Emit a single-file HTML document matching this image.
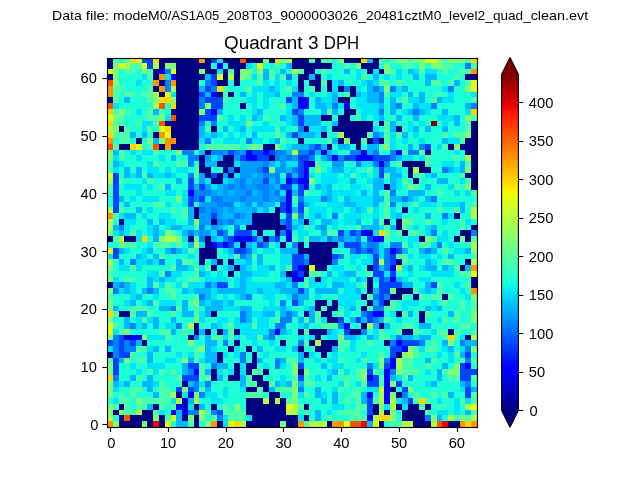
<!DOCTYPE html>
<html><head><meta charset="utf-8"><title>Quadrant 3 DPH</title>
<style>
html,body{margin:0;padding:0;background:#fff;}
body{width:640px;height:480px;overflow:hidden;}
svg{display:block;}
svg text{font-family:"Liberation Sans",sans-serif;fill:#000;}
</style></head><body>
<svg width="640" height="480" viewBox="0 0 640 480">
<rect width="640" height="480" fill="#fff"/>
<g shape-rendering="crispEdges">
<rect x="108" y="59" width="369" height="368" fill="#000080"/>
<rect x="113" y="59" width="6" height="4" fill="#4dffaa"/>
<rect x="119" y="59" width="5" height="4" fill="#1fffd7"/>
<rect x="124" y="59" width="6" height="4" fill="#4dffaa"/>
<rect x="130" y="59" width="6" height="4" fill="#ffd700"/>
<rect x="136" y="59" width="6" height="4" fill="#e1ff16"/>
<rect x="142" y="59" width="11" height="4" fill="#0044ff"/>
<rect x="153" y="59" width="6" height="4" fill="#ffd700"/>
<rect x="199" y="59" width="6" height="4" fill="#ff9400"/>
<rect x="211" y="59" width="6" height="4" fill="#0044ff"/>
<rect x="217" y="59" width="6" height="4" fill="#00e4f8"/>
<rect x="240" y="59" width="6" height="4" fill="#ff5200"/>
<rect x="263" y="59" width="6" height="4" fill="#7dff7a"/>
<rect x="275" y="59" width="5" height="4" fill="#ffd700"/>
<rect x="280" y="59" width="6" height="4" fill="#7dff7a"/>
<rect x="286" y="59" width="6" height="4" fill="#adff49"/>
<rect x="309" y="59" width="6" height="4" fill="#4dffaa"/>
<rect x="321" y="59" width="11" height="4" fill="#4dffaa"/>
<rect x="332" y="59" width="6" height="4" fill="#1fffd7"/>
<rect x="338" y="59" width="6" height="4" fill="#7dff7a"/>
<rect x="361" y="59" width="6" height="4" fill="#ffd700"/>
<rect x="367" y="59" width="6" height="4" fill="#00b8ff"/>
<rect x="379" y="59" width="5" height="4" fill="#4dffaa"/>
<rect x="384" y="59" width="6" height="4" fill="#1fffd7"/>
<rect x="390" y="59" width="6" height="4" fill="#4dffaa"/>
<rect x="396" y="59" width="12" height="4" fill="#7dff7a"/>
<rect x="408" y="59" width="5" height="4" fill="#4dffaa"/>
<rect x="413" y="59" width="12" height="4" fill="#7dff7a"/>
<rect x="425" y="59" width="12" height="4" fill="#e1ff16"/>
<rect x="437" y="59" width="5" height="4" fill="#7dff7a"/>
<rect x="442" y="59" width="6" height="4" fill="#4dffaa"/>
<rect x="448" y="59" width="17" height="4" fill="#7dff7a"/>
<rect x="465" y="59" width="6" height="4" fill="#4dffaa"/>
<rect x="471" y="59" width="6" height="4" fill="#ffd700"/>
<rect x="113" y="63" width="6" height="6" fill="#7dff7a"/>
<rect x="119" y="63" width="5" height="6" fill="#e1ff16"/>
<rect x="124" y="63" width="6" height="6" fill="#adff49"/>
<rect x="130" y="63" width="12" height="6" fill="#4dffaa"/>
<rect x="142" y="63" width="5" height="6" fill="#e1ff16"/>
<rect x="147" y="63" width="6" height="6" fill="#0044ff"/>
<rect x="153" y="63" width="6" height="6" fill="#adff49"/>
<rect x="165" y="63" width="11" height="6" fill="#7dff7a"/>
<rect x="211" y="63" width="6" height="6" fill="#1fffd7"/>
<rect x="217" y="63" width="6" height="6" fill="#0000ff"/>
<rect x="223" y="63" width="5" height="6" fill="#1fffd7"/>
<rect x="246" y="63" width="6" height="6" fill="#00e4f8"/>
<rect x="252" y="63" width="5" height="6" fill="#1fffd7"/>
<rect x="257" y="63" width="6" height="6" fill="#e1ff16"/>
<rect x="263" y="63" width="12" height="6" fill="#1fffd7"/>
<rect x="275" y="63" width="5" height="6" fill="#4dffaa"/>
<rect x="280" y="63" width="6" height="6" fill="#1fffd7"/>
<rect x="286" y="63" width="6" height="6" fill="#00b8ff"/>
<rect x="332" y="63" width="12" height="6" fill="#1fffd7"/>
<rect x="344" y="63" width="6" height="6" fill="#4dffaa"/>
<rect x="350" y="63" width="6" height="6" fill="#1fffd7"/>
<rect x="356" y="63" width="5" height="6" fill="#7dff7a"/>
<rect x="379" y="63" width="5" height="6" fill="#1fffd7"/>
<rect x="384" y="63" width="6" height="6" fill="#7dff7a"/>
<rect x="390" y="63" width="12" height="6" fill="#1fffd7"/>
<rect x="402" y="63" width="11" height="6" fill="#4dffaa"/>
<rect x="413" y="63" width="6" height="6" fill="#1fffd7"/>
<rect x="419" y="63" width="6" height="6" fill="#7dff7a"/>
<rect x="425" y="63" width="6" height="6" fill="#1fffd7"/>
<rect x="431" y="63" width="11" height="6" fill="#7dff7a"/>
<rect x="442" y="63" width="12" height="6" fill="#4dffaa"/>
<rect x="454" y="63" width="11" height="6" fill="#1fffd7"/>
<rect x="465" y="63" width="6" height="6" fill="#0080ff"/>
<rect x="471" y="63" width="6" height="6" fill="#4dffaa"/>
<rect x="108" y="69" width="5" height="5" fill="#e1ff16"/>
<rect x="113" y="69" width="6" height="5" fill="#7dff7a"/>
<rect x="119" y="69" width="5" height="5" fill="#1fffd7"/>
<rect x="124" y="69" width="12" height="5" fill="#4dffaa"/>
<rect x="136" y="69" width="6" height="5" fill="#1fffd7"/>
<rect x="142" y="69" width="5" height="5" fill="#7dff7a"/>
<rect x="147" y="69" width="6" height="5" fill="#4dffaa"/>
<rect x="159" y="69" width="6" height="5" fill="#0000ff"/>
<rect x="165" y="69" width="6" height="5" fill="#0080ff"/>
<rect x="171" y="69" width="5" height="5" fill="#e1ff16"/>
<rect x="199" y="69" width="6" height="5" fill="#7dff7a"/>
<rect x="217" y="69" width="6" height="5" fill="#00e4f8"/>
<rect x="228" y="69" width="6" height="5" fill="#4dffaa"/>
<rect x="240" y="69" width="12" height="5" fill="#7dff7a"/>
<rect x="252" y="69" width="5" height="5" fill="#1fffd7"/>
<rect x="257" y="69" width="6" height="5" fill="#7dff7a"/>
<rect x="263" y="69" width="6" height="5" fill="#00b8ff"/>
<rect x="269" y="69" width="6" height="5" fill="#4dffaa"/>
<rect x="275" y="69" width="5" height="5" fill="#1fffd7"/>
<rect x="280" y="69" width="6" height="5" fill="#00b8ff"/>
<rect x="286" y="69" width="6" height="5" fill="#1fffd7"/>
<rect x="292" y="69" width="6" height="5" fill="#adff49"/>
<rect x="298" y="69" width="6" height="5" fill="#4dffaa"/>
<rect x="315" y="69" width="6" height="5" fill="#1fffd7"/>
<rect x="321" y="69" width="6" height="5" fill="#4dffaa"/>
<rect x="327" y="69" width="17" height="5" fill="#1fffd7"/>
<rect x="344" y="69" width="6" height="5" fill="#00b8ff"/>
<rect x="350" y="69" width="6" height="5" fill="#1fffd7"/>
<rect x="356" y="69" width="5" height="5" fill="#00e4f8"/>
<rect x="361" y="69" width="6" height="5" fill="#1fffd7"/>
<rect x="373" y="69" width="6" height="5" fill="#00e4f8"/>
<rect x="384" y="69" width="6" height="5" fill="#7dff7a"/>
<rect x="390" y="69" width="6" height="5" fill="#4dffaa"/>
<rect x="396" y="69" width="6" height="5" fill="#00e4f8"/>
<rect x="402" y="69" width="6" height="5" fill="#1fffd7"/>
<rect x="408" y="69" width="5" height="5" fill="#00b8ff"/>
<rect x="413" y="69" width="6" height="5" fill="#00e4f8"/>
<rect x="419" y="69" width="6" height="5" fill="#4dffaa"/>
<rect x="425" y="69" width="12" height="5" fill="#00e4f8"/>
<rect x="437" y="69" width="5" height="5" fill="#1fffd7"/>
<rect x="442" y="69" width="6" height="5" fill="#4dffaa"/>
<rect x="448" y="69" width="12" height="5" fill="#1fffd7"/>
<rect x="460" y="69" width="11" height="5" fill="#4dffaa"/>
<rect x="471" y="69" width="6" height="5" fill="#ff9400"/>
<rect x="113" y="74" width="6" height="6" fill="#7dff7a"/>
<rect x="119" y="74" width="23" height="6" fill="#1fffd7"/>
<rect x="142" y="74" width="5" height="6" fill="#00e4f8"/>
<rect x="147" y="74" width="6" height="6" fill="#4dffaa"/>
<rect x="159" y="74" width="6" height="6" fill="#ff9400"/>
<rect x="165" y="74" width="6" height="6" fill="#00e4f8"/>
<rect x="171" y="74" width="5" height="6" fill="#0000ff"/>
<rect x="205" y="74" width="6" height="6" fill="#00b8ff"/>
<rect x="211" y="74" width="6" height="6" fill="#0044ff"/>
<rect x="217" y="74" width="6" height="6" fill="#e1ff16"/>
<rect x="228" y="74" width="6" height="6" fill="#adff49"/>
<rect x="240" y="74" width="6" height="6" fill="#7dff7a"/>
<rect x="246" y="74" width="6" height="6" fill="#4dffaa"/>
<rect x="252" y="74" width="5" height="6" fill="#00e4f8"/>
<rect x="257" y="74" width="6" height="6" fill="#4dffaa"/>
<rect x="263" y="74" width="6" height="6" fill="#00b8ff"/>
<rect x="269" y="74" width="6" height="6" fill="#4dffaa"/>
<rect x="275" y="74" width="5" height="6" fill="#00e4f8"/>
<rect x="280" y="74" width="6" height="6" fill="#4dffaa"/>
<rect x="286" y="74" width="6" height="6" fill="#0080ff"/>
<rect x="292" y="74" width="6" height="6" fill="#1fffd7"/>
<rect x="309" y="74" width="6" height="6" fill="#00b8ff"/>
<rect x="321" y="74" width="6" height="6" fill="#1fffd7"/>
<rect x="327" y="74" width="5" height="6" fill="#00e4f8"/>
<rect x="332" y="74" width="24" height="6" fill="#1fffd7"/>
<rect x="356" y="74" width="5" height="6" fill="#00e4f8"/>
<rect x="361" y="74" width="6" height="6" fill="#4dffaa"/>
<rect x="367" y="74" width="6" height="6" fill="#1fffd7"/>
<rect x="373" y="74" width="6" height="6" fill="#00b8ff"/>
<rect x="379" y="74" width="5" height="6" fill="#1fffd7"/>
<rect x="384" y="74" width="6" height="6" fill="#00e4f8"/>
<rect x="390" y="74" width="6" height="6" fill="#1fffd7"/>
<rect x="396" y="74" width="6" height="6" fill="#00e4f8"/>
<rect x="402" y="74" width="11" height="6" fill="#1fffd7"/>
<rect x="413" y="74" width="6" height="6" fill="#00b8ff"/>
<rect x="419" y="74" width="6" height="6" fill="#1fffd7"/>
<rect x="425" y="74" width="12" height="6" fill="#00b8ff"/>
<rect x="437" y="74" width="17" height="6" fill="#1fffd7"/>
<rect x="454" y="74" width="6" height="6" fill="#4dffaa"/>
<rect x="460" y="74" width="5" height="6" fill="#1fffd7"/>
<rect x="108" y="80" width="5" height="6" fill="#ff5200"/>
<rect x="113" y="80" width="6" height="6" fill="#7dff7a"/>
<rect x="119" y="80" width="17" height="6" fill="#1fffd7"/>
<rect x="136" y="80" width="6" height="6" fill="#00e4f8"/>
<rect x="142" y="80" width="11" height="6" fill="#1fffd7"/>
<rect x="153" y="80" width="6" height="6" fill="#ff9400"/>
<rect x="165" y="80" width="6" height="6" fill="#0080ff"/>
<rect x="171" y="80" width="5" height="6" fill="#ff9400"/>
<rect x="199" y="80" width="6" height="6" fill="#1fffd7"/>
<rect x="205" y="80" width="6" height="6" fill="#0080ff"/>
<rect x="211" y="80" width="6" height="6" fill="#0044ff"/>
<rect x="228" y="80" width="6" height="6" fill="#1fffd7"/>
<rect x="240" y="80" width="17" height="6" fill="#1fffd7"/>
<rect x="257" y="80" width="6" height="6" fill="#4dffaa"/>
<rect x="263" y="80" width="6" height="6" fill="#00e4f8"/>
<rect x="269" y="80" width="6" height="6" fill="#1fffd7"/>
<rect x="275" y="80" width="5" height="6" fill="#00e4f8"/>
<rect x="280" y="80" width="6" height="6" fill="#1fffd7"/>
<rect x="286" y="80" width="6" height="6" fill="#00e4f8"/>
<rect x="292" y="80" width="6" height="6" fill="#1fffd7"/>
<rect x="304" y="80" width="5" height="6" fill="#1fffd7"/>
<rect x="321" y="80" width="6" height="6" fill="#4dffaa"/>
<rect x="332" y="80" width="6" height="6" fill="#00e4f8"/>
<rect x="338" y="80" width="6" height="6" fill="#00b8ff"/>
<rect x="344" y="80" width="17" height="6" fill="#1fffd7"/>
<rect x="361" y="80" width="6" height="6" fill="#00e4f8"/>
<rect x="367" y="80" width="6" height="6" fill="#00b8ff"/>
<rect x="373" y="80" width="6" height="6" fill="#00e4f8"/>
<rect x="379" y="80" width="11" height="6" fill="#4dffaa"/>
<rect x="390" y="80" width="6" height="6" fill="#1fffd7"/>
<rect x="396" y="80" width="6" height="6" fill="#4dffaa"/>
<rect x="402" y="80" width="23" height="6" fill="#1fffd7"/>
<rect x="425" y="80" width="6" height="6" fill="#00b8ff"/>
<rect x="431" y="80" width="11" height="6" fill="#4dffaa"/>
<rect x="442" y="80" width="6" height="6" fill="#1fffd7"/>
<rect x="448" y="80" width="6" height="6" fill="#4dffaa"/>
<rect x="454" y="80" width="6" height="6" fill="#00b8ff"/>
<rect x="460" y="80" width="5" height="6" fill="#1fffd7"/>
<rect x="465" y="80" width="6" height="6" fill="#4dffaa"/>
<rect x="471" y="80" width="6" height="6" fill="#e1ff16"/>
<rect x="108" y="86" width="5" height="6" fill="#ff9400"/>
<rect x="113" y="86" width="11" height="6" fill="#4dffaa"/>
<rect x="124" y="86" width="23" height="6" fill="#1fffd7"/>
<rect x="147" y="86" width="6" height="6" fill="#4dffaa"/>
<rect x="159" y="86" width="6" height="6" fill="#ff9400"/>
<rect x="165" y="86" width="6" height="6" fill="#0080ff"/>
<rect x="171" y="86" width="5" height="6" fill="#adff49"/>
<rect x="199" y="86" width="6" height="6" fill="#00b8ff"/>
<rect x="205" y="86" width="6" height="6" fill="#0044ff"/>
<rect x="211" y="86" width="6" height="6" fill="#0080ff"/>
<rect x="217" y="86" width="6" height="6" fill="#ffd700"/>
<rect x="223" y="86" width="5" height="6" fill="#4dffaa"/>
<rect x="228" y="86" width="18" height="6" fill="#1fffd7"/>
<rect x="246" y="86" width="6" height="6" fill="#4dffaa"/>
<rect x="252" y="86" width="17" height="6" fill="#00e4f8"/>
<rect x="269" y="86" width="6" height="6" fill="#00b8ff"/>
<rect x="275" y="86" width="5" height="6" fill="#00e4f8"/>
<rect x="280" y="86" width="6" height="6" fill="#1fffd7"/>
<rect x="286" y="86" width="6" height="6" fill="#4dffaa"/>
<rect x="292" y="86" width="6" height="6" fill="#00e4f8"/>
<rect x="304" y="86" width="5" height="6" fill="#1fffd7"/>
<rect x="309" y="86" width="6" height="6" fill="#4dffaa"/>
<rect x="321" y="86" width="6" height="6" fill="#1fffd7"/>
<rect x="332" y="86" width="6" height="6" fill="#00e4f8"/>
<rect x="344" y="86" width="6" height="6" fill="#0080ff"/>
<rect x="356" y="86" width="5" height="6" fill="#00e4f8"/>
<rect x="361" y="86" width="6" height="6" fill="#1fffd7"/>
<rect x="367" y="86" width="6" height="6" fill="#00b8ff"/>
<rect x="373" y="86" width="6" height="6" fill="#0080ff"/>
<rect x="379" y="86" width="5" height="6" fill="#00b8ff"/>
<rect x="384" y="86" width="6" height="6" fill="#7dff7a"/>
<rect x="390" y="86" width="6" height="6" fill="#0080ff"/>
<rect x="396" y="86" width="6" height="6" fill="#00e4f8"/>
<rect x="402" y="86" width="6" height="6" fill="#00b8ff"/>
<rect x="408" y="86" width="34" height="6" fill="#1fffd7"/>
<rect x="442" y="86" width="6" height="6" fill="#00e4f8"/>
<rect x="448" y="86" width="6" height="6" fill="#0080ff"/>
<rect x="454" y="86" width="11" height="6" fill="#1fffd7"/>
<rect x="465" y="86" width="6" height="6" fill="#7dff7a"/>
<rect x="471" y="86" width="6" height="6" fill="#e1ff16"/>
<rect x="108" y="92" width="5" height="5" fill="#ff9400"/>
<rect x="113" y="92" width="6" height="5" fill="#4dffaa"/>
<rect x="119" y="92" width="5" height="5" fill="#1fffd7"/>
<rect x="124" y="92" width="12" height="5" fill="#4dffaa"/>
<rect x="136" y="92" width="6" height="5" fill="#1fffd7"/>
<rect x="142" y="92" width="11" height="5" fill="#4dffaa"/>
<rect x="153" y="92" width="6" height="5" fill="#adff49"/>
<rect x="165" y="92" width="6" height="5" fill="#e1ff16"/>
<rect x="171" y="92" width="5" height="5" fill="#00e4f8"/>
<rect x="199" y="92" width="6" height="5" fill="#0044ff"/>
<rect x="205" y="92" width="6" height="5" fill="#00b8ff"/>
<rect x="211" y="92" width="6" height="5" fill="#0000ff"/>
<rect x="223" y="92" width="5" height="5" fill="#4dffaa"/>
<rect x="234" y="92" width="6" height="5" fill="#1fffd7"/>
<rect x="240" y="92" width="6" height="5" fill="#00b8ff"/>
<rect x="246" y="92" width="6" height="5" fill="#1fffd7"/>
<rect x="252" y="92" width="5" height="5" fill="#00e4f8"/>
<rect x="257" y="92" width="6" height="5" fill="#1fffd7"/>
<rect x="263" y="92" width="12" height="5" fill="#00e4f8"/>
<rect x="275" y="92" width="5" height="5" fill="#00b8ff"/>
<rect x="280" y="92" width="12" height="5" fill="#1fffd7"/>
<rect x="292" y="92" width="12" height="5" fill="#0080ff"/>
<rect x="304" y="92" width="5" height="5" fill="#1fffd7"/>
<rect x="309" y="92" width="6" height="5" fill="#00e4f8"/>
<rect x="315" y="92" width="12" height="5" fill="#1fffd7"/>
<rect x="327" y="92" width="5" height="5" fill="#00e4f8"/>
<rect x="332" y="92" width="6" height="5" fill="#00b8ff"/>
<rect x="338" y="92" width="6" height="5" fill="#1fffd7"/>
<rect x="344" y="92" width="6" height="5" fill="#4dffaa"/>
<rect x="356" y="92" width="5" height="5" fill="#00b8ff"/>
<rect x="361" y="92" width="6" height="5" fill="#00e4f8"/>
<rect x="367" y="92" width="12" height="5" fill="#00b8ff"/>
<rect x="379" y="92" width="5" height="5" fill="#0080ff"/>
<rect x="384" y="92" width="6" height="5" fill="#4dffaa"/>
<rect x="390" y="92" width="12" height="5" fill="#00e4f8"/>
<rect x="402" y="92" width="6" height="5" fill="#1fffd7"/>
<rect x="408" y="92" width="5" height="5" fill="#00b8ff"/>
<rect x="413" y="92" width="6" height="5" fill="#1fffd7"/>
<rect x="419" y="92" width="6" height="5" fill="#00b8ff"/>
<rect x="425" y="92" width="12" height="5" fill="#1fffd7"/>
<rect x="437" y="92" width="5" height="5" fill="#4dffaa"/>
<rect x="442" y="92" width="6" height="5" fill="#1fffd7"/>
<rect x="448" y="92" width="6" height="5" fill="#00e4f8"/>
<rect x="454" y="92" width="17" height="5" fill="#1fffd7"/>
<rect x="471" y="92" width="6" height="5" fill="#00e4f8"/>
<rect x="113" y="97" width="6" height="6" fill="#4dffaa"/>
<rect x="119" y="97" width="5" height="6" fill="#1fffd7"/>
<rect x="124" y="97" width="6" height="6" fill="#00b8ff"/>
<rect x="130" y="97" width="17" height="6" fill="#1fffd7"/>
<rect x="147" y="97" width="6" height="6" fill="#4dffaa"/>
<rect x="153" y="97" width="6" height="6" fill="#7dff7a"/>
<rect x="159" y="97" width="12" height="6" fill="#ffd700"/>
<rect x="171" y="97" width="5" height="6" fill="#7dff7a"/>
<rect x="199" y="97" width="6" height="6" fill="#0080ff"/>
<rect x="205" y="97" width="18" height="6" fill="#0044ff"/>
<rect x="223" y="97" width="5" height="6" fill="#4dffaa"/>
<rect x="228" y="97" width="18" height="6" fill="#1fffd7"/>
<rect x="246" y="97" width="11" height="6" fill="#00e4f8"/>
<rect x="257" y="97" width="6" height="6" fill="#1fffd7"/>
<rect x="263" y="97" width="6" height="6" fill="#00e4f8"/>
<rect x="269" y="97" width="17" height="6" fill="#1fffd7"/>
<rect x="286" y="97" width="6" height="6" fill="#0044ff"/>
<rect x="292" y="97" width="6" height="6" fill="#00b8ff"/>
<rect x="298" y="97" width="11" height="6" fill="#0000ff"/>
<rect x="309" y="97" width="6" height="6" fill="#1fffd7"/>
<rect x="315" y="97" width="6" height="6" fill="#00b8ff"/>
<rect x="321" y="97" width="11" height="6" fill="#00e4f8"/>
<rect x="332" y="97" width="6" height="6" fill="#00b8ff"/>
<rect x="350" y="97" width="6" height="6" fill="#1fffd7"/>
<rect x="356" y="97" width="11" height="6" fill="#00e4f8"/>
<rect x="367" y="97" width="12" height="6" fill="#00b8ff"/>
<rect x="379" y="97" width="5" height="6" fill="#0080ff"/>
<rect x="384" y="97" width="6" height="6" fill="#1fffd7"/>
<rect x="390" y="97" width="6" height="6" fill="#00b8ff"/>
<rect x="396" y="97" width="6" height="6" fill="#1fffd7"/>
<rect x="402" y="97" width="6" height="6" fill="#4dffaa"/>
<rect x="408" y="97" width="11" height="6" fill="#00e4f8"/>
<rect x="419" y="97" width="6" height="6" fill="#00b8ff"/>
<rect x="425" y="97" width="6" height="6" fill="#1fffd7"/>
<rect x="431" y="97" width="6" height="6" fill="#4dffaa"/>
<rect x="437" y="97" width="5" height="6" fill="#00b8ff"/>
<rect x="442" y="97" width="12" height="6" fill="#00e4f8"/>
<rect x="454" y="97" width="17" height="6" fill="#1fffd7"/>
<rect x="471" y="97" width="6" height="6" fill="#4dffaa"/>
<rect x="108" y="103" width="5" height="6" fill="#ff5200"/>
<rect x="113" y="103" width="6" height="6" fill="#00e4f8"/>
<rect x="119" y="103" width="34" height="6" fill="#1fffd7"/>
<rect x="153" y="103" width="6" height="6" fill="#adff49"/>
<rect x="159" y="103" width="6" height="6" fill="#ff5200"/>
<rect x="165" y="103" width="6" height="6" fill="#1fffd7"/>
<rect x="171" y="103" width="5" height="6" fill="#ffd700"/>
<rect x="199" y="103" width="6" height="6" fill="#0080ff"/>
<rect x="205" y="103" width="6" height="6" fill="#7dff7a"/>
<rect x="211" y="103" width="12" height="6" fill="#0044ff"/>
<rect x="223" y="103" width="17" height="6" fill="#1fffd7"/>
<rect x="246" y="103" width="6" height="6" fill="#1fffd7"/>
<rect x="252" y="103" width="5" height="6" fill="#00e4f8"/>
<rect x="257" y="103" width="6" height="6" fill="#1fffd7"/>
<rect x="263" y="103" width="6" height="6" fill="#00e4f8"/>
<rect x="269" y="103" width="11" height="6" fill="#1fffd7"/>
<rect x="280" y="103" width="6" height="6" fill="#4dffaa"/>
<rect x="286" y="103" width="6" height="6" fill="#00e4f8"/>
<rect x="292" y="103" width="6" height="6" fill="#00b8ff"/>
<rect x="298" y="103" width="11" height="6" fill="#0000ff"/>
<rect x="309" y="103" width="6" height="6" fill="#1fffd7"/>
<rect x="315" y="103" width="12" height="6" fill="#00b8ff"/>
<rect x="327" y="103" width="5" height="6" fill="#00e4f8"/>
<rect x="332" y="103" width="6" height="6" fill="#0080ff"/>
<rect x="338" y="103" width="6" height="6" fill="#00e4f8"/>
<rect x="344" y="103" width="6" height="6" fill="#0000ff"/>
<rect x="350" y="103" width="6" height="6" fill="#1fffd7"/>
<rect x="356" y="103" width="23" height="6" fill="#00e4f8"/>
<rect x="379" y="103" width="5" height="6" fill="#00b8ff"/>
<rect x="384" y="103" width="6" height="6" fill="#1fffd7"/>
<rect x="390" y="103" width="6" height="6" fill="#00b8ff"/>
<rect x="396" y="103" width="6" height="6" fill="#0080ff"/>
<rect x="402" y="103" width="11" height="6" fill="#1fffd7"/>
<rect x="413" y="103" width="6" height="6" fill="#00b8ff"/>
<rect x="419" y="103" width="12" height="6" fill="#00e4f8"/>
<rect x="431" y="103" width="6" height="6" fill="#0080ff"/>
<rect x="437" y="103" width="28" height="6" fill="#1fffd7"/>
<rect x="465" y="103" width="6" height="6" fill="#00b8ff"/>
<rect x="471" y="103" width="6" height="6" fill="#0080ff"/>
<rect x="108" y="109" width="5" height="6" fill="#ffd700"/>
<rect x="113" y="109" width="6" height="6" fill="#4dffaa"/>
<rect x="119" y="109" width="5" height="6" fill="#7dff7a"/>
<rect x="124" y="109" width="6" height="6" fill="#4dffaa"/>
<rect x="130" y="109" width="6" height="6" fill="#1fffd7"/>
<rect x="136" y="109" width="6" height="6" fill="#00e4f8"/>
<rect x="142" y="109" width="5" height="6" fill="#1fffd7"/>
<rect x="147" y="109" width="6" height="6" fill="#4dffaa"/>
<rect x="153" y="109" width="6" height="6" fill="#00b8ff"/>
<rect x="159" y="109" width="6" height="6" fill="#4dffaa"/>
<rect x="165" y="109" width="6" height="6" fill="#1fffd7"/>
<rect x="199" y="109" width="6" height="6" fill="#7dff7a"/>
<rect x="205" y="109" width="6" height="6" fill="#0044ff"/>
<rect x="211" y="109" width="6" height="6" fill="#0000ff"/>
<rect x="217" y="109" width="6" height="6" fill="#00b8ff"/>
<rect x="223" y="109" width="29" height="6" fill="#1fffd7"/>
<rect x="252" y="109" width="5" height="6" fill="#00e4f8"/>
<rect x="257" y="109" width="6" height="6" fill="#00b8ff"/>
<rect x="263" y="109" width="23" height="6" fill="#1fffd7"/>
<rect x="286" y="109" width="6" height="6" fill="#00e4f8"/>
<rect x="292" y="109" width="6" height="6" fill="#0044ff"/>
<rect x="298" y="109" width="6" height="6" fill="#0080ff"/>
<rect x="304" y="109" width="17" height="6" fill="#1fffd7"/>
<rect x="321" y="109" width="6" height="6" fill="#00b8ff"/>
<rect x="327" y="109" width="5" height="6" fill="#4dffaa"/>
<rect x="332" y="109" width="6" height="6" fill="#00b8ff"/>
<rect x="338" y="109" width="6" height="6" fill="#1fffd7"/>
<rect x="356" y="109" width="5" height="6" fill="#1fffd7"/>
<rect x="361" y="109" width="18" height="6" fill="#00e4f8"/>
<rect x="379" y="109" width="5" height="6" fill="#0080ff"/>
<rect x="384" y="109" width="6" height="6" fill="#1fffd7"/>
<rect x="390" y="109" width="6" height="6" fill="#00b8ff"/>
<rect x="396" y="109" width="6" height="6" fill="#1fffd7"/>
<rect x="402" y="109" width="6" height="6" fill="#00e4f8"/>
<rect x="408" y="109" width="5" height="6" fill="#00b8ff"/>
<rect x="413" y="109" width="6" height="6" fill="#0080ff"/>
<rect x="419" y="109" width="6" height="6" fill="#00b8ff"/>
<rect x="425" y="109" width="6" height="6" fill="#00e4f8"/>
<rect x="431" y="109" width="11" height="6" fill="#1fffd7"/>
<rect x="442" y="109" width="6" height="6" fill="#00b8ff"/>
<rect x="448" y="109" width="17" height="6" fill="#1fffd7"/>
<rect x="465" y="109" width="6" height="6" fill="#00e4f8"/>
<rect x="471" y="109" width="6" height="6" fill="#ffd700"/>
<rect x="108" y="115" width="5" height="6" fill="#e1ff16"/>
<rect x="113" y="115" width="6" height="6" fill="#7dff7a"/>
<rect x="119" y="115" width="5" height="6" fill="#4dffaa"/>
<rect x="124" y="115" width="23" height="6" fill="#1fffd7"/>
<rect x="147" y="115" width="12" height="6" fill="#4dffaa"/>
<rect x="159" y="115" width="6" height="6" fill="#7dff7a"/>
<rect x="165" y="115" width="6" height="6" fill="#00e4f8"/>
<rect x="171" y="115" width="5" height="6" fill="#ff5200"/>
<rect x="199" y="115" width="18" height="6" fill="#0044ff"/>
<rect x="217" y="115" width="6" height="6" fill="#4dffaa"/>
<rect x="223" y="115" width="5" height="6" fill="#1fffd7"/>
<rect x="228" y="115" width="6" height="6" fill="#00e4f8"/>
<rect x="234" y="115" width="6" height="6" fill="#1fffd7"/>
<rect x="240" y="115" width="6" height="6" fill="#00e4f8"/>
<rect x="246" y="115" width="6" height="6" fill="#1fffd7"/>
<rect x="252" y="115" width="5" height="6" fill="#00b8ff"/>
<rect x="257" y="115" width="6" height="6" fill="#00e4f8"/>
<rect x="263" y="115" width="6" height="6" fill="#4dffaa"/>
<rect x="269" y="115" width="11" height="6" fill="#1fffd7"/>
<rect x="280" y="115" width="6" height="6" fill="#00b8ff"/>
<rect x="286" y="115" width="6" height="6" fill="#00e4f8"/>
<rect x="292" y="115" width="6" height="6" fill="#00b8ff"/>
<rect x="298" y="115" width="6" height="6" fill="#0044ff"/>
<rect x="304" y="115" width="17" height="6" fill="#00b8ff"/>
<rect x="332" y="115" width="6" height="6" fill="#1fffd7"/>
<rect x="350" y="115" width="6" height="6" fill="#1fffd7"/>
<rect x="356" y="115" width="5" height="6" fill="#4dffaa"/>
<rect x="361" y="115" width="6" height="6" fill="#00e4f8"/>
<rect x="367" y="115" width="6" height="6" fill="#1fffd7"/>
<rect x="373" y="115" width="6" height="6" fill="#00e4f8"/>
<rect x="379" y="115" width="5" height="6" fill="#00b8ff"/>
<rect x="384" y="115" width="12" height="6" fill="#1fffd7"/>
<rect x="396" y="115" width="6" height="6" fill="#00b8ff"/>
<rect x="402" y="115" width="11" height="6" fill="#1fffd7"/>
<rect x="413" y="115" width="6" height="6" fill="#00b8ff"/>
<rect x="419" y="115" width="18" height="6" fill="#1fffd7"/>
<rect x="437" y="115" width="17" height="6" fill="#00e4f8"/>
<rect x="454" y="115" width="6" height="6" fill="#00b8ff"/>
<rect x="460" y="115" width="5" height="6" fill="#1fffd7"/>
<rect x="465" y="115" width="6" height="6" fill="#7dff7a"/>
<rect x="471" y="115" width="6" height="6" fill="#4dffaa"/>
<rect x="108" y="121" width="5" height="5" fill="#ffd700"/>
<rect x="113" y="121" width="11" height="5" fill="#4dffaa"/>
<rect x="124" y="121" width="12" height="5" fill="#1fffd7"/>
<rect x="136" y="121" width="6" height="5" fill="#4dffaa"/>
<rect x="142" y="121" width="11" height="5" fill="#00e4f8"/>
<rect x="153" y="121" width="6" height="5" fill="#4dffaa"/>
<rect x="159" y="121" width="6" height="5" fill="#ff5200"/>
<rect x="199" y="121" width="6" height="5" fill="#0080ff"/>
<rect x="205" y="121" width="6" height="5" fill="#1fffd7"/>
<rect x="211" y="121" width="6" height="5" fill="#0080ff"/>
<rect x="217" y="121" width="11" height="5" fill="#1fffd7"/>
<rect x="228" y="121" width="18" height="5" fill="#00e4f8"/>
<rect x="246" y="121" width="6" height="5" fill="#7dff7a"/>
<rect x="252" y="121" width="11" height="5" fill="#1fffd7"/>
<rect x="263" y="121" width="6" height="5" fill="#00e4f8"/>
<rect x="269" y="121" width="17" height="5" fill="#1fffd7"/>
<rect x="286" y="121" width="6" height="5" fill="#00e4f8"/>
<rect x="292" y="121" width="6" height="5" fill="#00b8ff"/>
<rect x="298" y="121" width="6" height="5" fill="#0044ff"/>
<rect x="304" y="121" width="17" height="5" fill="#00b8ff"/>
<rect x="321" y="121" width="11" height="5" fill="#1fffd7"/>
<rect x="332" y="121" width="6" height="5" fill="#00b8ff"/>
<rect x="373" y="121" width="6" height="5" fill="#1fffd7"/>
<rect x="384" y="121" width="6" height="5" fill="#4dffaa"/>
<rect x="390" y="121" width="6" height="5" fill="#00b8ff"/>
<rect x="396" y="121" width="12" height="5" fill="#1fffd7"/>
<rect x="408" y="121" width="5" height="5" fill="#00e4f8"/>
<rect x="413" y="121" width="6" height="5" fill="#1fffd7"/>
<rect x="419" y="121" width="6" height="5" fill="#00e4f8"/>
<rect x="425" y="121" width="6" height="5" fill="#1fffd7"/>
<rect x="431" y="121" width="6" height="5" fill="#800000"/>
<rect x="437" y="121" width="5" height="5" fill="#1fffd7"/>
<rect x="442" y="121" width="6" height="5" fill="#00e4f8"/>
<rect x="448" y="121" width="6" height="5" fill="#1fffd7"/>
<rect x="454" y="121" width="6" height="5" fill="#00b8ff"/>
<rect x="460" y="121" width="5" height="5" fill="#1fffd7"/>
<rect x="465" y="121" width="6" height="5" fill="#4dffaa"/>
<rect x="108" y="126" width="5" height="6" fill="#adff49"/>
<rect x="113" y="126" width="6" height="6" fill="#7dff7a"/>
<rect x="124" y="126" width="6" height="6" fill="#4dffaa"/>
<rect x="130" y="126" width="12" height="6" fill="#1fffd7"/>
<rect x="142" y="126" width="5" height="6" fill="#00e4f8"/>
<rect x="147" y="126" width="6" height="6" fill="#4dffaa"/>
<rect x="153" y="126" width="6" height="6" fill="#1fffd7"/>
<rect x="159" y="126" width="6" height="6" fill="#e1ff16"/>
<rect x="165" y="126" width="6" height="6" fill="#ffd700"/>
<rect x="199" y="126" width="6" height="6" fill="#00b8ff"/>
<rect x="205" y="126" width="6" height="6" fill="#4dffaa"/>
<rect x="217" y="126" width="6" height="6" fill="#1fffd7"/>
<rect x="223" y="126" width="5" height="6" fill="#00b8ff"/>
<rect x="228" y="126" width="6" height="6" fill="#1fffd7"/>
<rect x="234" y="126" width="6" height="6" fill="#00e4f8"/>
<rect x="240" y="126" width="6" height="6" fill="#00b8ff"/>
<rect x="246" y="126" width="6" height="6" fill="#1fffd7"/>
<rect x="252" y="126" width="23" height="6" fill="#00e4f8"/>
<rect x="275" y="126" width="5" height="6" fill="#4dffaa"/>
<rect x="280" y="126" width="6" height="6" fill="#00e4f8"/>
<rect x="286" y="126" width="12" height="6" fill="#1fffd7"/>
<rect x="298" y="126" width="6" height="6" fill="#0080ff"/>
<rect x="309" y="126" width="12" height="6" fill="#00e4f8"/>
<rect x="321" y="126" width="6" height="6" fill="#00b8ff"/>
<rect x="327" y="126" width="5" height="6" fill="#1fffd7"/>
<rect x="373" y="126" width="6" height="6" fill="#00e4f8"/>
<rect x="379" y="126" width="5" height="6" fill="#1fffd7"/>
<rect x="384" y="126" width="6" height="6" fill="#4dffaa"/>
<rect x="390" y="126" width="6" height="6" fill="#00b8ff"/>
<rect x="402" y="126" width="6" height="6" fill="#1fffd7"/>
<rect x="408" y="126" width="5" height="6" fill="#00e4f8"/>
<rect x="413" y="126" width="6" height="6" fill="#00b8ff"/>
<rect x="419" y="126" width="6" height="6" fill="#1fffd7"/>
<rect x="425" y="126" width="6" height="6" fill="#00b8ff"/>
<rect x="431" y="126" width="11" height="6" fill="#1fffd7"/>
<rect x="442" y="126" width="6" height="6" fill="#00b8ff"/>
<rect x="448" y="126" width="17" height="6" fill="#1fffd7"/>
<rect x="465" y="126" width="6" height="6" fill="#4dffaa"/>
<rect x="108" y="132" width="5" height="6" fill="#ffd700"/>
<rect x="113" y="132" width="17" height="6" fill="#4dffaa"/>
<rect x="130" y="132" width="6" height="6" fill="#00b8ff"/>
<rect x="136" y="132" width="6" height="6" fill="#1fffd7"/>
<rect x="142" y="132" width="5" height="6" fill="#00b8ff"/>
<rect x="147" y="132" width="6" height="6" fill="#1fffd7"/>
<rect x="159" y="132" width="6" height="6" fill="#ff9400"/>
<rect x="165" y="132" width="6" height="6" fill="#e1ff16"/>
<rect x="199" y="132" width="6" height="6" fill="#00b8ff"/>
<rect x="205" y="132" width="6" height="6" fill="#00e4f8"/>
<rect x="211" y="132" width="6" height="6" fill="#00b8ff"/>
<rect x="217" y="132" width="6" height="6" fill="#00e4f8"/>
<rect x="223" y="132" width="5" height="6" fill="#1fffd7"/>
<rect x="228" y="132" width="6" height="6" fill="#00e4f8"/>
<rect x="234" y="132" width="6" height="6" fill="#1fffd7"/>
<rect x="240" y="132" width="6" height="6" fill="#00e4f8"/>
<rect x="246" y="132" width="6" height="6" fill="#1fffd7"/>
<rect x="252" y="132" width="5" height="6" fill="#00b8ff"/>
<rect x="257" y="132" width="18" height="6" fill="#1fffd7"/>
<rect x="275" y="132" width="5" height="6" fill="#4dffaa"/>
<rect x="280" y="132" width="6" height="6" fill="#1fffd7"/>
<rect x="286" y="132" width="6" height="6" fill="#00b8ff"/>
<rect x="292" y="132" width="6" height="6" fill="#0044ff"/>
<rect x="298" y="132" width="17" height="6" fill="#00b8ff"/>
<rect x="315" y="132" width="6" height="6" fill="#00e4f8"/>
<rect x="327" y="132" width="11" height="6" fill="#1fffd7"/>
<rect x="338" y="132" width="6" height="6" fill="#adff49"/>
<rect x="367" y="132" width="6" height="6" fill="#4dffaa"/>
<rect x="373" y="132" width="6" height="6" fill="#0080ff"/>
<rect x="379" y="132" width="5" height="6" fill="#00b8ff"/>
<rect x="384" y="132" width="6" height="6" fill="#4dffaa"/>
<rect x="390" y="132" width="6" height="6" fill="#00e4f8"/>
<rect x="396" y="132" width="6" height="6" fill="#4dffaa"/>
<rect x="402" y="132" width="6" height="6" fill="#00b8ff"/>
<rect x="408" y="132" width="5" height="6" fill="#1fffd7"/>
<rect x="413" y="132" width="6" height="6" fill="#00e4f8"/>
<rect x="419" y="132" width="23" height="6" fill="#1fffd7"/>
<rect x="442" y="132" width="6" height="6" fill="#4dffaa"/>
<rect x="448" y="132" width="6" height="6" fill="#1fffd7"/>
<rect x="454" y="132" width="11" height="6" fill="#4dffaa"/>
<rect x="465" y="132" width="6" height="6" fill="#7dff7a"/>
<rect x="108" y="138" width="5" height="6" fill="#ff9400"/>
<rect x="113" y="138" width="6" height="6" fill="#1fffd7"/>
<rect x="119" y="138" width="11" height="6" fill="#4dffaa"/>
<rect x="130" y="138" width="6" height="6" fill="#1fffd7"/>
<rect x="142" y="138" width="5" height="6" fill="#1fffd7"/>
<rect x="147" y="138" width="6" height="6" fill="#7dff7a"/>
<rect x="153" y="138" width="6" height="6" fill="#00b8ff"/>
<rect x="159" y="138" width="6" height="6" fill="#7dff7a"/>
<rect x="165" y="138" width="11" height="6" fill="#ff9400"/>
<rect x="199" y="138" width="6" height="6" fill="#00e4f8"/>
<rect x="205" y="138" width="6" height="6" fill="#0080ff"/>
<rect x="211" y="138" width="12" height="6" fill="#1fffd7"/>
<rect x="223" y="138" width="17" height="6" fill="#00e4f8"/>
<rect x="240" y="138" width="6" height="6" fill="#1fffd7"/>
<rect x="246" y="138" width="6" height="6" fill="#0080ff"/>
<rect x="252" y="138" width="11" height="6" fill="#00e4f8"/>
<rect x="263" y="138" width="6" height="6" fill="#1fffd7"/>
<rect x="269" y="138" width="6" height="6" fill="#00e4f8"/>
<rect x="275" y="138" width="5" height="6" fill="#00b8ff"/>
<rect x="280" y="138" width="6" height="6" fill="#4dffaa"/>
<rect x="286" y="138" width="12" height="6" fill="#1fffd7"/>
<rect x="304" y="138" width="23" height="6" fill="#1fffd7"/>
<rect x="327" y="138" width="5" height="6" fill="#4dffaa"/>
<rect x="332" y="138" width="6" height="6" fill="#00b8ff"/>
<rect x="344" y="138" width="6" height="6" fill="#7dff7a"/>
<rect x="361" y="138" width="6" height="6" fill="#4dffaa"/>
<rect x="373" y="138" width="6" height="6" fill="#0044ff"/>
<rect x="384" y="138" width="6" height="6" fill="#4dffaa"/>
<rect x="390" y="138" width="6" height="6" fill="#00e4f8"/>
<rect x="396" y="138" width="6" height="6" fill="#1fffd7"/>
<rect x="402" y="138" width="6" height="6" fill="#00e4f8"/>
<rect x="408" y="138" width="11" height="6" fill="#1fffd7"/>
<rect x="419" y="138" width="6" height="6" fill="#00e4f8"/>
<rect x="425" y="138" width="17" height="6" fill="#1fffd7"/>
<rect x="442" y="138" width="6" height="6" fill="#00b8ff"/>
<rect x="448" y="138" width="12" height="6" fill="#00e4f8"/>
<rect x="460" y="138" width="5" height="6" fill="#4dffaa"/>
<rect x="108" y="144" width="5" height="6" fill="#ff5200"/>
<rect x="113" y="144" width="6" height="6" fill="#4dffaa"/>
<rect x="130" y="144" width="6" height="6" fill="#ffd700"/>
<rect x="136" y="144" width="6" height="6" fill="#e1ff16"/>
<rect x="142" y="144" width="5" height="6" fill="#1fffd7"/>
<rect x="147" y="144" width="6" height="6" fill="#4dffaa"/>
<rect x="153" y="144" width="6" height="6" fill="#ff5200"/>
<rect x="165" y="144" width="6" height="6" fill="#ff9400"/>
<rect x="199" y="144" width="6" height="6" fill="#1fffd7"/>
<rect x="205" y="144" width="35" height="6" fill="#4dffaa"/>
<rect x="240" y="144" width="6" height="6" fill="#1fffd7"/>
<rect x="246" y="144" width="6" height="6" fill="#4dffaa"/>
<rect x="252" y="144" width="5" height="6" fill="#7dff7a"/>
<rect x="257" y="144" width="6" height="6" fill="#4dffaa"/>
<rect x="275" y="144" width="5" height="6" fill="#7dff7a"/>
<rect x="280" y="144" width="6" height="6" fill="#1fffd7"/>
<rect x="286" y="144" width="6" height="6" fill="#00e4f8"/>
<rect x="292" y="144" width="17" height="6" fill="#00b8ff"/>
<rect x="309" y="144" width="6" height="6" fill="#0080ff"/>
<rect x="315" y="144" width="6" height="6" fill="#0044ff"/>
<rect x="321" y="144" width="6" height="6" fill="#00b8ff"/>
<rect x="332" y="144" width="6" height="6" fill="#1fffd7"/>
<rect x="338" y="144" width="12" height="6" fill="#00b8ff"/>
<rect x="350" y="144" width="6" height="6" fill="#1fffd7"/>
<rect x="361" y="144" width="6" height="6" fill="#1fffd7"/>
<rect x="367" y="144" width="12" height="6" fill="#00b8ff"/>
<rect x="379" y="144" width="5" height="6" fill="#4dffaa"/>
<rect x="384" y="144" width="6" height="6" fill="#7dff7a"/>
<rect x="390" y="144" width="6" height="6" fill="#00e4f8"/>
<rect x="396" y="144" width="12" height="6" fill="#1fffd7"/>
<rect x="408" y="144" width="5" height="6" fill="#00b8ff"/>
<rect x="413" y="144" width="6" height="6" fill="#1fffd7"/>
<rect x="419" y="144" width="6" height="6" fill="#0080ff"/>
<rect x="425" y="144" width="6" height="6" fill="#0044ff"/>
<rect x="431" y="144" width="6" height="6" fill="#1fffd7"/>
<rect x="437" y="144" width="5" height="6" fill="#00e4f8"/>
<rect x="442" y="144" width="6" height="6" fill="#4dffaa"/>
<rect x="454" y="144" width="6" height="6" fill="#7dff7a"/>
<rect x="108" y="150" width="5" height="5" fill="#7dff7a"/>
<rect x="113" y="150" width="6" height="5" fill="#00b8ff"/>
<rect x="119" y="150" width="5" height="5" fill="#4dffaa"/>
<rect x="124" y="150" width="6" height="5" fill="#1fffd7"/>
<rect x="130" y="150" width="6" height="5" fill="#00e4f8"/>
<rect x="136" y="150" width="6" height="5" fill="#1fffd7"/>
<rect x="142" y="150" width="11" height="5" fill="#00e4f8"/>
<rect x="153" y="150" width="6" height="5" fill="#4dffaa"/>
<rect x="159" y="150" width="17" height="5" fill="#1fffd7"/>
<rect x="176" y="150" width="6" height="5" fill="#7dff7a"/>
<rect x="182" y="150" width="12" height="5" fill="#0080ff"/>
<rect x="194" y="150" width="5" height="5" fill="#1fffd7"/>
<rect x="199" y="150" width="6" height="5" fill="#00b8ff"/>
<rect x="211" y="150" width="12" height="5" fill="#0080ff"/>
<rect x="223" y="150" width="5" height="5" fill="#009cff"/>
<rect x="228" y="150" width="6" height="5" fill="#0044ff"/>
<rect x="234" y="150" width="6" height="5" fill="#0080ff"/>
<rect x="240" y="150" width="6" height="5" fill="#009cff"/>
<rect x="246" y="150" width="6" height="5" fill="#0000ff"/>
<rect x="252" y="150" width="11" height="5" fill="#0044ff"/>
<rect x="263" y="150" width="6" height="5" fill="#0000ff"/>
<rect x="269" y="150" width="6" height="5" fill="#0044ff"/>
<rect x="275" y="150" width="11" height="5" fill="#0080ff"/>
<rect x="286" y="150" width="6" height="5" fill="#00b8ff"/>
<rect x="292" y="150" width="6" height="5" fill="#adff49"/>
<rect x="298" y="150" width="11" height="5" fill="#0080ff"/>
<rect x="309" y="150" width="6" height="5" fill="#0044ff"/>
<rect x="315" y="150" width="6" height="5" fill="#00b8ff"/>
<rect x="321" y="150" width="6" height="5" fill="#0000ff"/>
<rect x="327" y="150" width="5" height="5" fill="#00b8ff"/>
<rect x="332" y="150" width="6" height="5" fill="#00e4f8"/>
<rect x="338" y="150" width="12" height="5" fill="#1fffd7"/>
<rect x="350" y="150" width="11" height="5" fill="#0080ff"/>
<rect x="361" y="150" width="6" height="5" fill="#0000ff"/>
<rect x="367" y="150" width="6" height="5" fill="#00b8ff"/>
<rect x="373" y="150" width="6" height="5" fill="#0080ff"/>
<rect x="379" y="150" width="11" height="5" fill="#1fffd7"/>
<rect x="390" y="150" width="6" height="5" fill="#0080ff"/>
<rect x="396" y="150" width="6" height="5" fill="#0000ff"/>
<rect x="402" y="150" width="6" height="5" fill="#4dffaa"/>
<rect x="408" y="150" width="11" height="5" fill="#0080ff"/>
<rect x="419" y="150" width="6" height="5" fill="#4dffaa"/>
<rect x="431" y="150" width="23" height="5" fill="#1fffd7"/>
<rect x="454" y="150" width="6" height="5" fill="#00e4f8"/>
<rect x="460" y="150" width="5" height="5" fill="#1fffd7"/>
<rect x="108" y="155" width="5" height="6" fill="#7dff7a"/>
<rect x="113" y="155" width="6" height="6" fill="#00e4f8"/>
<rect x="119" y="155" width="5" height="6" fill="#4dffaa"/>
<rect x="124" y="155" width="12" height="6" fill="#1fffd7"/>
<rect x="136" y="155" width="6" height="6" fill="#00e4f8"/>
<rect x="142" y="155" width="17" height="6" fill="#1fffd7"/>
<rect x="159" y="155" width="6" height="6" fill="#00e4f8"/>
<rect x="165" y="155" width="6" height="6" fill="#1fffd7"/>
<rect x="171" y="155" width="5" height="6" fill="#00b8ff"/>
<rect x="176" y="155" width="12" height="6" fill="#1fffd7"/>
<rect x="188" y="155" width="11" height="6" fill="#0080ff"/>
<rect x="205" y="155" width="6" height="6" fill="#009cff"/>
<rect x="211" y="155" width="6" height="6" fill="#00e4f8"/>
<rect x="217" y="155" width="6" height="6" fill="#00b8ff"/>
<rect x="234" y="155" width="6" height="6" fill="#009cff"/>
<rect x="240" y="155" width="6" height="6" fill="#0044ff"/>
<rect x="246" y="155" width="11" height="6" fill="#0000ff"/>
<rect x="257" y="155" width="12" height="6" fill="#0044ff"/>
<rect x="275" y="155" width="5" height="6" fill="#0080ff"/>
<rect x="280" y="155" width="6" height="6" fill="#009cff"/>
<rect x="286" y="155" width="6" height="6" fill="#0080ff"/>
<rect x="292" y="155" width="6" height="6" fill="#009cff"/>
<rect x="298" y="155" width="11" height="6" fill="#0044ff"/>
<rect x="309" y="155" width="6" height="6" fill="#0080ff"/>
<rect x="315" y="155" width="6" height="6" fill="#1fffd7"/>
<rect x="321" y="155" width="6" height="6" fill="#00b8ff"/>
<rect x="327" y="155" width="5" height="6" fill="#0080ff"/>
<rect x="332" y="155" width="6" height="6" fill="#0000ff"/>
<rect x="338" y="155" width="6" height="6" fill="#0080ff"/>
<rect x="344" y="155" width="12" height="6" fill="#0044ff"/>
<rect x="356" y="155" width="17" height="6" fill="#0000ff"/>
<rect x="373" y="155" width="17" height="6" fill="#0044ff"/>
<rect x="390" y="155" width="6" height="6" fill="#0080ff"/>
<rect x="396" y="155" width="6" height="6" fill="#00b8ff"/>
<rect x="402" y="155" width="11" height="6" fill="#00e4f8"/>
<rect x="413" y="155" width="6" height="6" fill="#1fffd7"/>
<rect x="419" y="155" width="6" height="6" fill="#00e4f8"/>
<rect x="425" y="155" width="6" height="6" fill="#4dffaa"/>
<rect x="431" y="155" width="23" height="6" fill="#1fffd7"/>
<rect x="454" y="155" width="6" height="6" fill="#4dffaa"/>
<rect x="460" y="155" width="5" height="6" fill="#1fffd7"/>
<rect x="465" y="155" width="6" height="6" fill="#adff49"/>
<rect x="108" y="161" width="5" height="6" fill="#4dffaa"/>
<rect x="113" y="161" width="6" height="6" fill="#00b8ff"/>
<rect x="119" y="161" width="5" height="6" fill="#00e4f8"/>
<rect x="124" y="161" width="23" height="6" fill="#1fffd7"/>
<rect x="147" y="161" width="6" height="6" fill="#00e4f8"/>
<rect x="153" y="161" width="6" height="6" fill="#4dffaa"/>
<rect x="159" y="161" width="17" height="6" fill="#1fffd7"/>
<rect x="176" y="161" width="12" height="6" fill="#4dffaa"/>
<rect x="188" y="161" width="6" height="6" fill="#0080ff"/>
<rect x="194" y="161" width="5" height="6" fill="#1fffd7"/>
<rect x="205" y="161" width="12" height="6" fill="#00b8ff"/>
<rect x="234" y="161" width="6" height="6" fill="#00e4f8"/>
<rect x="240" y="161" width="23" height="6" fill="#009cff"/>
<rect x="263" y="161" width="6" height="6" fill="#0080ff"/>
<rect x="269" y="161" width="6" height="6" fill="#00b8ff"/>
<rect x="275" y="161" width="5" height="6" fill="#00e4f8"/>
<rect x="280" y="161" width="6" height="6" fill="#009cff"/>
<rect x="286" y="161" width="12" height="6" fill="#00e4f8"/>
<rect x="298" y="161" width="6" height="6" fill="#0044ff"/>
<rect x="304" y="161" width="5" height="6" fill="#0000ff"/>
<rect x="309" y="161" width="6" height="6" fill="#0000cd"/>
<rect x="315" y="161" width="6" height="6" fill="#4dffaa"/>
<rect x="321" y="161" width="11" height="6" fill="#1fffd7"/>
<rect x="332" y="161" width="12" height="6" fill="#009cff"/>
<rect x="344" y="161" width="12" height="6" fill="#1fffd7"/>
<rect x="356" y="161" width="5" height="6" fill="#0080ff"/>
<rect x="361" y="161" width="12" height="6" fill="#00e4f8"/>
<rect x="373" y="161" width="6" height="6" fill="#0080ff"/>
<rect x="379" y="161" width="5" height="6" fill="#0000ff"/>
<rect x="384" y="161" width="6" height="6" fill="#0080ff"/>
<rect x="390" y="161" width="6" height="6" fill="#1fffd7"/>
<rect x="396" y="161" width="6" height="6" fill="#4dffaa"/>
<rect x="425" y="161" width="6" height="6" fill="#4dffaa"/>
<rect x="431" y="161" width="11" height="6" fill="#1fffd7"/>
<rect x="442" y="161" width="12" height="6" fill="#00e4f8"/>
<rect x="454" y="161" width="6" height="6" fill="#1fffd7"/>
<rect x="460" y="161" width="5" height="6" fill="#00b8ff"/>
<rect x="465" y="161" width="6" height="6" fill="#4dffaa"/>
<rect x="108" y="167" width="5" height="6" fill="#4dffaa"/>
<rect x="113" y="167" width="6" height="6" fill="#00e4f8"/>
<rect x="119" y="167" width="5" height="6" fill="#1fffd7"/>
<rect x="124" y="167" width="6" height="6" fill="#00b8ff"/>
<rect x="130" y="167" width="6" height="6" fill="#1fffd7"/>
<rect x="136" y="167" width="6" height="6" fill="#00b8ff"/>
<rect x="142" y="167" width="5" height="6" fill="#1fffd7"/>
<rect x="147" y="167" width="12" height="6" fill="#00e4f8"/>
<rect x="159" y="167" width="6" height="6" fill="#1fffd7"/>
<rect x="165" y="167" width="6" height="6" fill="#00e4f8"/>
<rect x="171" y="167" width="5" height="6" fill="#1fffd7"/>
<rect x="176" y="167" width="12" height="6" fill="#00e4f8"/>
<rect x="188" y="167" width="6" height="6" fill="#1fffd7"/>
<rect x="194" y="167" width="5" height="6" fill="#4dffaa"/>
<rect x="211" y="167" width="12" height="6" fill="#1fffd7"/>
<rect x="228" y="167" width="6" height="6" fill="#0080ff"/>
<rect x="240" y="167" width="17" height="6" fill="#009cff"/>
<rect x="257" y="167" width="6" height="6" fill="#0080ff"/>
<rect x="263" y="167" width="6" height="6" fill="#0044ff"/>
<rect x="269" y="167" width="6" height="6" fill="#7dff7a"/>
<rect x="275" y="167" width="11" height="6" fill="#009cff"/>
<rect x="286" y="167" width="6" height="6" fill="#00b8ff"/>
<rect x="292" y="167" width="6" height="6" fill="#0080ff"/>
<rect x="298" y="167" width="6" height="6" fill="#0044ff"/>
<rect x="304" y="167" width="5" height="6" fill="#0000ff"/>
<rect x="309" y="167" width="6" height="6" fill="#1fffd7"/>
<rect x="315" y="167" width="6" height="6" fill="#7dff7a"/>
<rect x="321" y="167" width="6" height="6" fill="#1fffd7"/>
<rect x="327" y="167" width="5" height="6" fill="#00e4f8"/>
<rect x="332" y="167" width="12" height="6" fill="#00b8ff"/>
<rect x="344" y="167" width="6" height="6" fill="#0ff8e7"/>
<rect x="350" y="167" width="6" height="6" fill="#00e4f8"/>
<rect x="356" y="167" width="11" height="6" fill="#1fffd7"/>
<rect x="367" y="167" width="6" height="6" fill="#4dffaa"/>
<rect x="373" y="167" width="6" height="6" fill="#00e4f8"/>
<rect x="379" y="167" width="5" height="6" fill="#0044ff"/>
<rect x="384" y="167" width="12" height="6" fill="#00b8ff"/>
<rect x="396" y="167" width="6" height="6" fill="#00e4f8"/>
<rect x="402" y="167" width="6" height="6" fill="#1fffd7"/>
<rect x="413" y="167" width="6" height="6" fill="#adff49"/>
<rect x="431" y="167" width="11" height="6" fill="#1fffd7"/>
<rect x="442" y="167" width="6" height="6" fill="#0080ff"/>
<rect x="448" y="167" width="6" height="6" fill="#00b8ff"/>
<rect x="454" y="167" width="6" height="6" fill="#00e4f8"/>
<rect x="460" y="167" width="5" height="6" fill="#00b8ff"/>
<rect x="465" y="167" width="6" height="6" fill="#7dff7a"/>
<rect x="108" y="173" width="5" height="5" fill="#e1ff16"/>
<rect x="113" y="173" width="6" height="5" fill="#0044ff"/>
<rect x="119" y="173" width="5" height="5" fill="#1fffd7"/>
<rect x="124" y="173" width="6" height="5" fill="#00b8ff"/>
<rect x="130" y="173" width="6" height="5" fill="#00e4f8"/>
<rect x="136" y="173" width="6" height="5" fill="#00b8ff"/>
<rect x="142" y="173" width="5" height="5" fill="#4dffaa"/>
<rect x="147" y="173" width="6" height="5" fill="#00b8ff"/>
<rect x="153" y="173" width="12" height="5" fill="#00e4f8"/>
<rect x="165" y="173" width="6" height="5" fill="#00b8ff"/>
<rect x="171" y="173" width="5" height="5" fill="#00e4f8"/>
<rect x="176" y="173" width="12" height="5" fill="#1fffd7"/>
<rect x="188" y="173" width="6" height="5" fill="#0080ff"/>
<rect x="194" y="173" width="5" height="5" fill="#4dffaa"/>
<rect x="199" y="173" width="6" height="5" fill="#009cff"/>
<rect x="211" y="173" width="6" height="5" fill="#0044ff"/>
<rect x="223" y="173" width="5" height="5" fill="#009cff"/>
<rect x="234" y="173" width="6" height="5" fill="#00e4f8"/>
<rect x="240" y="173" width="12" height="5" fill="#009cff"/>
<rect x="252" y="173" width="5" height="5" fill="#00b8ff"/>
<rect x="257" y="173" width="6" height="5" fill="#009cff"/>
<rect x="263" y="173" width="6" height="5" fill="#0080ff"/>
<rect x="269" y="173" width="6" height="5" fill="#009cff"/>
<rect x="275" y="173" width="5" height="5" fill="#0080ff"/>
<rect x="280" y="173" width="6" height="5" fill="#1fffd7"/>
<rect x="286" y="173" width="6" height="5" fill="#0044ff"/>
<rect x="292" y="173" width="6" height="5" fill="#00b8ff"/>
<rect x="298" y="173" width="6" height="5" fill="#0044ff"/>
<rect x="304" y="173" width="5" height="5" fill="#0000ff"/>
<rect x="309" y="173" width="6" height="5" fill="#00e4f8"/>
<rect x="315" y="173" width="6" height="5" fill="#1fffd7"/>
<rect x="321" y="173" width="17" height="5" fill="#00e4f8"/>
<rect x="338" y="173" width="6" height="5" fill="#1fffd7"/>
<rect x="344" y="173" width="6" height="5" fill="#00e4f8"/>
<rect x="350" y="173" width="6" height="5" fill="#4dffaa"/>
<rect x="356" y="173" width="5" height="5" fill="#0ff8e7"/>
<rect x="361" y="173" width="6" height="5" fill="#00e4f8"/>
<rect x="367" y="173" width="6" height="5" fill="#1fffd7"/>
<rect x="373" y="173" width="6" height="5" fill="#00e4f8"/>
<rect x="379" y="173" width="5" height="5" fill="#0044ff"/>
<rect x="384" y="173" width="6" height="5" fill="#4dffaa"/>
<rect x="390" y="173" width="12" height="5" fill="#00b8ff"/>
<rect x="402" y="173" width="6" height="5" fill="#1fffd7"/>
<rect x="413" y="173" width="12" height="5" fill="#4dffaa"/>
<rect x="425" y="173" width="6" height="5" fill="#00e4f8"/>
<rect x="431" y="173" width="6" height="5" fill="#00b8ff"/>
<rect x="437" y="173" width="23" height="5" fill="#1fffd7"/>
<rect x="460" y="173" width="5" height="5" fill="#4dffaa"/>
<rect x="108" y="178" width="5" height="6" fill="#adff49"/>
<rect x="113" y="178" width="6" height="6" fill="#0044ff"/>
<rect x="119" y="178" width="5" height="6" fill="#4dffaa"/>
<rect x="124" y="178" width="18" height="6" fill="#1fffd7"/>
<rect x="142" y="178" width="5" height="6" fill="#00e4f8"/>
<rect x="147" y="178" width="6" height="6" fill="#4dffaa"/>
<rect x="153" y="178" width="23" height="6" fill="#1fffd7"/>
<rect x="176" y="178" width="6" height="6" fill="#00b8ff"/>
<rect x="182" y="178" width="6" height="6" fill="#1fffd7"/>
<rect x="188" y="178" width="6" height="6" fill="#0044ff"/>
<rect x="194" y="178" width="5" height="6" fill="#1fffd7"/>
<rect x="199" y="178" width="6" height="6" fill="#009cff"/>
<rect x="205" y="178" width="6" height="6" fill="#00e4f8"/>
<rect x="223" y="178" width="5" height="6" fill="#00e4f8"/>
<rect x="228" y="178" width="6" height="6" fill="#00b8ff"/>
<rect x="234" y="178" width="6" height="6" fill="#009cff"/>
<rect x="240" y="178" width="6" height="6" fill="#0080ff"/>
<rect x="246" y="178" width="6" height="6" fill="#00b8ff"/>
<rect x="252" y="178" width="11" height="6" fill="#009cff"/>
<rect x="263" y="178" width="6" height="6" fill="#0044ff"/>
<rect x="269" y="178" width="6" height="6" fill="#00b8ff"/>
<rect x="275" y="178" width="5" height="6" fill="#0080ff"/>
<rect x="280" y="178" width="6" height="6" fill="#00e4f8"/>
<rect x="286" y="178" width="6" height="6" fill="#0000ff"/>
<rect x="292" y="178" width="6" height="6" fill="#0044ff"/>
<rect x="298" y="178" width="11" height="6" fill="#0000ff"/>
<rect x="309" y="178" width="6" height="6" fill="#7dff7a"/>
<rect x="315" y="178" width="6" height="6" fill="#0ff8e7"/>
<rect x="321" y="178" width="17" height="6" fill="#00e4f8"/>
<rect x="338" y="178" width="12" height="6" fill="#0ff8e7"/>
<rect x="350" y="178" width="6" height="6" fill="#00b8ff"/>
<rect x="356" y="178" width="5" height="6" fill="#0ff8e7"/>
<rect x="361" y="178" width="6" height="6" fill="#1fffd7"/>
<rect x="367" y="178" width="6" height="6" fill="#00e4f8"/>
<rect x="373" y="178" width="11" height="6" fill="#00b8ff"/>
<rect x="384" y="178" width="6" height="6" fill="#1fffd7"/>
<rect x="390" y="178" width="6" height="6" fill="#00b8ff"/>
<rect x="396" y="178" width="6" height="6" fill="#00e4f8"/>
<rect x="402" y="178" width="6" height="6" fill="#4dffaa"/>
<rect x="408" y="178" width="5" height="6" fill="#1fffd7"/>
<rect x="419" y="178" width="18" height="6" fill="#1fffd7"/>
<rect x="437" y="178" width="11" height="6" fill="#00b8ff"/>
<rect x="448" y="178" width="12" height="6" fill="#1fffd7"/>
<rect x="460" y="178" width="5" height="6" fill="#00e4f8"/>
<rect x="465" y="178" width="6" height="6" fill="#4dffaa"/>
<rect x="108" y="184" width="5" height="6" fill="#4dffaa"/>
<rect x="113" y="184" width="6" height="6" fill="#0044ff"/>
<rect x="119" y="184" width="5" height="6" fill="#1fffd7"/>
<rect x="124" y="184" width="18" height="6" fill="#00e4f8"/>
<rect x="142" y="184" width="5" height="6" fill="#1fffd7"/>
<rect x="147" y="184" width="6" height="6" fill="#00e4f8"/>
<rect x="153" y="184" width="6" height="6" fill="#1fffd7"/>
<rect x="159" y="184" width="6" height="6" fill="#4dffaa"/>
<rect x="165" y="184" width="6" height="6" fill="#00b8ff"/>
<rect x="171" y="184" width="17" height="6" fill="#1fffd7"/>
<rect x="188" y="184" width="6" height="6" fill="#0044ff"/>
<rect x="194" y="184" width="5" height="6" fill="#00b8ff"/>
<rect x="199" y="184" width="6" height="6" fill="#0044ff"/>
<rect x="205" y="184" width="6" height="6" fill="#009cff"/>
<rect x="211" y="184" width="6" height="6" fill="#00e4f8"/>
<rect x="217" y="184" width="6" height="6" fill="#00b8ff"/>
<rect x="223" y="184" width="5" height="6" fill="#009cff"/>
<rect x="228" y="184" width="6" height="6" fill="#0080ff"/>
<rect x="234" y="184" width="6" height="6" fill="#009cff"/>
<rect x="240" y="184" width="6" height="6" fill="#0080ff"/>
<rect x="246" y="184" width="11" height="6" fill="#009cff"/>
<rect x="257" y="184" width="12" height="6" fill="#0080ff"/>
<rect x="269" y="184" width="6" height="6" fill="#009cff"/>
<rect x="275" y="184" width="5" height="6" fill="#00b8ff"/>
<rect x="280" y="184" width="12" height="6" fill="#0044ff"/>
<rect x="292" y="184" width="6" height="6" fill="#00e4f8"/>
<rect x="298" y="184" width="6" height="6" fill="#0044ff"/>
<rect x="304" y="184" width="5" height="6" fill="#0000ff"/>
<rect x="309" y="184" width="6" height="6" fill="#1fffd7"/>
<rect x="315" y="184" width="6" height="6" fill="#00b8ff"/>
<rect x="321" y="184" width="6" height="6" fill="#00e4f8"/>
<rect x="327" y="184" width="5" height="6" fill="#00b8ff"/>
<rect x="332" y="184" width="6" height="6" fill="#1fffd7"/>
<rect x="338" y="184" width="6" height="6" fill="#0ff8e7"/>
<rect x="344" y="184" width="6" height="6" fill="#1fffd7"/>
<rect x="350" y="184" width="11" height="6" fill="#00e4f8"/>
<rect x="361" y="184" width="6" height="6" fill="#0ff8e7"/>
<rect x="367" y="184" width="6" height="6" fill="#1fffd7"/>
<rect x="373" y="184" width="11" height="6" fill="#00b8ff"/>
<rect x="390" y="184" width="6" height="6" fill="#00b8ff"/>
<rect x="396" y="184" width="6" height="6" fill="#00e4f8"/>
<rect x="402" y="184" width="6" height="6" fill="#1fffd7"/>
<rect x="408" y="184" width="5" height="6" fill="#7dff7a"/>
<rect x="413" y="184" width="6" height="6" fill="#4dffaa"/>
<rect x="419" y="184" width="6" height="6" fill="#1fffd7"/>
<rect x="425" y="184" width="6" height="6" fill="#00b8ff"/>
<rect x="431" y="184" width="17" height="6" fill="#1fffd7"/>
<rect x="448" y="184" width="6" height="6" fill="#00e4f8"/>
<rect x="454" y="184" width="6" height="6" fill="#4dffaa"/>
<rect x="460" y="184" width="5" height="6" fill="#1fffd7"/>
<rect x="465" y="184" width="6" height="6" fill="#7dff7a"/>
<rect x="108" y="190" width="5" height="6" fill="#4dffaa"/>
<rect x="113" y="190" width="6" height="6" fill="#0044ff"/>
<rect x="119" y="190" width="17" height="6" fill="#1fffd7"/>
<rect x="136" y="190" width="6" height="6" fill="#00e4f8"/>
<rect x="142" y="190" width="23" height="6" fill="#1fffd7"/>
<rect x="165" y="190" width="11" height="6" fill="#00e4f8"/>
<rect x="176" y="190" width="6" height="6" fill="#1fffd7"/>
<rect x="182" y="190" width="6" height="6" fill="#00e4f8"/>
<rect x="188" y="190" width="6" height="6" fill="#0000ff"/>
<rect x="194" y="190" width="17" height="6" fill="#0080ff"/>
<rect x="211" y="190" width="6" height="6" fill="#009cff"/>
<rect x="217" y="190" width="6" height="6" fill="#00b8ff"/>
<rect x="223" y="190" width="5" height="6" fill="#009cff"/>
<rect x="228" y="190" width="6" height="6" fill="#00b8ff"/>
<rect x="234" y="190" width="12" height="6" fill="#009cff"/>
<rect x="246" y="190" width="6" height="6" fill="#0080ff"/>
<rect x="252" y="190" width="5" height="6" fill="#00b8ff"/>
<rect x="257" y="190" width="6" height="6" fill="#009cff"/>
<rect x="263" y="190" width="6" height="6" fill="#0080ff"/>
<rect x="269" y="190" width="6" height="6" fill="#009cff"/>
<rect x="275" y="190" width="5" height="6" fill="#0080ff"/>
<rect x="280" y="190" width="6" height="6" fill="#00e4f8"/>
<rect x="286" y="190" width="6" height="6" fill="#0000ff"/>
<rect x="292" y="190" width="6" height="6" fill="#00b8ff"/>
<rect x="298" y="190" width="6" height="6" fill="#0044ff"/>
<rect x="304" y="190" width="5" height="6" fill="#4dffaa"/>
<rect x="309" y="190" width="12" height="6" fill="#1fffd7"/>
<rect x="321" y="190" width="6" height="6" fill="#00e4f8"/>
<rect x="327" y="190" width="5" height="6" fill="#00b8ff"/>
<rect x="332" y="190" width="24" height="6" fill="#00e4f8"/>
<rect x="356" y="190" width="5" height="6" fill="#0ff8e7"/>
<rect x="361" y="190" width="6" height="6" fill="#00b8ff"/>
<rect x="367" y="190" width="6" height="6" fill="#0ff8e7"/>
<rect x="373" y="190" width="6" height="6" fill="#00b8ff"/>
<rect x="379" y="190" width="5" height="6" fill="#1fffd7"/>
<rect x="384" y="190" width="6" height="6" fill="#4dffaa"/>
<rect x="390" y="190" width="6" height="6" fill="#0080ff"/>
<rect x="396" y="190" width="12" height="6" fill="#1fffd7"/>
<rect x="408" y="190" width="17" height="6" fill="#00b8ff"/>
<rect x="425" y="190" width="12" height="6" fill="#1fffd7"/>
<rect x="437" y="190" width="5" height="6" fill="#4dffaa"/>
<rect x="442" y="190" width="12" height="6" fill="#1fffd7"/>
<rect x="454" y="190" width="6" height="6" fill="#00e4f8"/>
<rect x="460" y="190" width="5" height="6" fill="#1fffd7"/>
<rect x="465" y="190" width="6" height="6" fill="#00e4f8"/>
<rect x="471" y="190" width="6" height="6" fill="#4dffaa"/>
<rect x="108" y="196" width="5" height="6" fill="#1fffd7"/>
<rect x="113" y="196" width="6" height="6" fill="#0044ff"/>
<rect x="119" y="196" width="5" height="6" fill="#00b8ff"/>
<rect x="124" y="196" width="6" height="6" fill="#1fffd7"/>
<rect x="130" y="196" width="6" height="6" fill="#00e4f8"/>
<rect x="136" y="196" width="6" height="6" fill="#1fffd7"/>
<rect x="142" y="196" width="17" height="6" fill="#00e4f8"/>
<rect x="159" y="196" width="17" height="6" fill="#1fffd7"/>
<rect x="176" y="196" width="6" height="6" fill="#7dff7a"/>
<rect x="182" y="196" width="6" height="6" fill="#00e4f8"/>
<rect x="188" y="196" width="6" height="6" fill="#0044ff"/>
<rect x="194" y="196" width="5" height="6" fill="#0080ff"/>
<rect x="199" y="196" width="6" height="6" fill="#0044ff"/>
<rect x="205" y="196" width="6" height="6" fill="#00e4f8"/>
<rect x="211" y="196" width="12" height="6" fill="#0080ff"/>
<rect x="223" y="196" width="17" height="6" fill="#009cff"/>
<rect x="240" y="196" width="6" height="6" fill="#0080ff"/>
<rect x="246" y="196" width="17" height="6" fill="#009cff"/>
<rect x="263" y="196" width="6" height="6" fill="#0080ff"/>
<rect x="269" y="196" width="11" height="6" fill="#009cff"/>
<rect x="280" y="196" width="6" height="6" fill="#0080ff"/>
<rect x="286" y="196" width="6" height="6" fill="#0000ff"/>
<rect x="292" y="196" width="6" height="6" fill="#4dffaa"/>
<rect x="298" y="196" width="6" height="6" fill="#0080ff"/>
<rect x="304" y="196" width="17" height="6" fill="#00e4f8"/>
<rect x="321" y="196" width="6" height="6" fill="#0080ff"/>
<rect x="327" y="196" width="5" height="6" fill="#00b8ff"/>
<rect x="332" y="196" width="6" height="6" fill="#00e4f8"/>
<rect x="338" y="196" width="6" height="6" fill="#1fffd7"/>
<rect x="344" y="196" width="6" height="6" fill="#00b8ff"/>
<rect x="350" y="196" width="23" height="6" fill="#00e4f8"/>
<rect x="373" y="196" width="11" height="6" fill="#00b8ff"/>
<rect x="384" y="196" width="6" height="6" fill="#4dffaa"/>
<rect x="390" y="196" width="12" height="6" fill="#00b8ff"/>
<rect x="402" y="196" width="6" height="6" fill="#0080ff"/>
<rect x="408" y="196" width="5" height="6" fill="#00b8ff"/>
<rect x="413" y="196" width="6" height="6" fill="#00e4f8"/>
<rect x="419" y="196" width="6" height="6" fill="#1fffd7"/>
<rect x="425" y="196" width="6" height="6" fill="#00b8ff"/>
<rect x="431" y="196" width="6" height="6" fill="#0080ff"/>
<rect x="437" y="196" width="40" height="6" fill="#1fffd7"/>
<rect x="108" y="202" width="5" height="5" fill="#1fffd7"/>
<rect x="113" y="202" width="6" height="5" fill="#0044ff"/>
<rect x="119" y="202" width="5" height="5" fill="#1fffd7"/>
<rect x="124" y="202" width="6" height="5" fill="#00b8ff"/>
<rect x="130" y="202" width="23" height="5" fill="#1fffd7"/>
<rect x="153" y="202" width="12" height="5" fill="#4dffaa"/>
<rect x="165" y="202" width="6" height="5" fill="#00e4f8"/>
<rect x="171" y="202" width="11" height="5" fill="#1fffd7"/>
<rect x="182" y="202" width="6" height="5" fill="#00e4f8"/>
<rect x="188" y="202" width="6" height="5" fill="#0044ff"/>
<rect x="194" y="202" width="5" height="5" fill="#1fffd7"/>
<rect x="199" y="202" width="18" height="5" fill="#009cff"/>
<rect x="217" y="202" width="17" height="5" fill="#0080ff"/>
<rect x="234" y="202" width="6" height="5" fill="#00e4f8"/>
<rect x="240" y="202" width="6" height="5" fill="#00b8ff"/>
<rect x="246" y="202" width="6" height="5" fill="#009cff"/>
<rect x="252" y="202" width="5" height="5" fill="#00e4f8"/>
<rect x="257" y="202" width="6" height="5" fill="#009cff"/>
<rect x="263" y="202" width="12" height="5" fill="#00b8ff"/>
<rect x="275" y="202" width="5" height="5" fill="#1fffd7"/>
<rect x="280" y="202" width="6" height="5" fill="#0044ff"/>
<rect x="286" y="202" width="6" height="5" fill="#0000ff"/>
<rect x="292" y="202" width="6" height="5" fill="#1fffd7"/>
<rect x="298" y="202" width="6" height="5" fill="#0044ff"/>
<rect x="304" y="202" width="5" height="5" fill="#00b8ff"/>
<rect x="309" y="202" width="6" height="5" fill="#00e4f8"/>
<rect x="315" y="202" width="6" height="5" fill="#0ff8e7"/>
<rect x="321" y="202" width="6" height="5" fill="#1fffd7"/>
<rect x="327" y="202" width="17" height="5" fill="#00e4f8"/>
<rect x="344" y="202" width="12" height="5" fill="#00b8ff"/>
<rect x="356" y="202" width="17" height="5" fill="#00e4f8"/>
<rect x="373" y="202" width="6" height="5" fill="#00b8ff"/>
<rect x="379" y="202" width="5" height="5" fill="#1fffd7"/>
<rect x="384" y="202" width="6" height="5" fill="#4dffaa"/>
<rect x="390" y="202" width="6" height="5" fill="#0080ff"/>
<rect x="396" y="202" width="6" height="5" fill="#1fffd7"/>
<rect x="402" y="202" width="6" height="5" fill="#00e4f8"/>
<rect x="408" y="202" width="5" height="5" fill="#1fffd7"/>
<rect x="413" y="202" width="6" height="5" fill="#4dffaa"/>
<rect x="419" y="202" width="18" height="5" fill="#00e4f8"/>
<rect x="437" y="202" width="5" height="5" fill="#1fffd7"/>
<rect x="442" y="202" width="18" height="5" fill="#00e4f8"/>
<rect x="460" y="202" width="5" height="5" fill="#00b8ff"/>
<rect x="465" y="202" width="6" height="5" fill="#1fffd7"/>
<rect x="471" y="202" width="6" height="5" fill="#4dffaa"/>
<rect x="108" y="207" width="5" height="6" fill="#adff49"/>
<rect x="113" y="207" width="6" height="6" fill="#0044ff"/>
<rect x="119" y="207" width="5" height="6" fill="#4dffaa"/>
<rect x="124" y="207" width="12" height="6" fill="#1fffd7"/>
<rect x="136" y="207" width="6" height="6" fill="#00b8ff"/>
<rect x="142" y="207" width="5" height="6" fill="#1fffd7"/>
<rect x="147" y="207" width="6" height="6" fill="#00e4f8"/>
<rect x="153" y="207" width="18" height="6" fill="#1fffd7"/>
<rect x="171" y="207" width="5" height="6" fill="#4dffaa"/>
<rect x="176" y="207" width="6" height="6" fill="#1fffd7"/>
<rect x="182" y="207" width="6" height="6" fill="#4dffaa"/>
<rect x="188" y="207" width="6" height="6" fill="#00b8ff"/>
<rect x="199" y="207" width="6" height="6" fill="#0080ff"/>
<rect x="205" y="207" width="6" height="6" fill="#009cff"/>
<rect x="211" y="207" width="6" height="6" fill="#0080ff"/>
<rect x="217" y="207" width="6" height="6" fill="#009cff"/>
<rect x="223" y="207" width="5" height="6" fill="#00b8ff"/>
<rect x="228" y="207" width="6" height="6" fill="#009cff"/>
<rect x="234" y="207" width="18" height="6" fill="#00b8ff"/>
<rect x="252" y="207" width="5" height="6" fill="#009cff"/>
<rect x="257" y="207" width="6" height="6" fill="#00e4f8"/>
<rect x="263" y="207" width="6" height="6" fill="#00b8ff"/>
<rect x="269" y="207" width="6" height="6" fill="#1fffd7"/>
<rect x="280" y="207" width="6" height="6" fill="#0044ff"/>
<rect x="286" y="207" width="6" height="6" fill="#0000ff"/>
<rect x="292" y="207" width="6" height="6" fill="#00b8ff"/>
<rect x="298" y="207" width="6" height="6" fill="#0044ff"/>
<rect x="304" y="207" width="5" height="6" fill="#4dffaa"/>
<rect x="309" y="207" width="18" height="6" fill="#00e4f8"/>
<rect x="327" y="207" width="5" height="6" fill="#1fffd7"/>
<rect x="332" y="207" width="12" height="6" fill="#00e4f8"/>
<rect x="344" y="207" width="6" height="6" fill="#1fffd7"/>
<rect x="350" y="207" width="6" height="6" fill="#00e4f8"/>
<rect x="356" y="207" width="5" height="6" fill="#00b8ff"/>
<rect x="361" y="207" width="6" height="6" fill="#00e4f8"/>
<rect x="367" y="207" width="6" height="6" fill="#4dffaa"/>
<rect x="373" y="207" width="6" height="6" fill="#00e4f8"/>
<rect x="379" y="207" width="5" height="6" fill="#1fffd7"/>
<rect x="384" y="207" width="6" height="6" fill="#4dffaa"/>
<rect x="390" y="207" width="6" height="6" fill="#00e4f8"/>
<rect x="396" y="207" width="6" height="6" fill="#1fffd7"/>
<rect x="408" y="207" width="5" height="6" fill="#1fffd7"/>
<rect x="413" y="207" width="6" height="6" fill="#00e4f8"/>
<rect x="419" y="207" width="18" height="6" fill="#1fffd7"/>
<rect x="437" y="207" width="5" height="6" fill="#4dffaa"/>
<rect x="442" y="207" width="12" height="6" fill="#1fffd7"/>
<rect x="454" y="207" width="6" height="6" fill="#4dffaa"/>
<rect x="460" y="207" width="5" height="6" fill="#00b8ff"/>
<rect x="465" y="207" width="6" height="6" fill="#1fffd7"/>
<rect x="471" y="207" width="6" height="6" fill="#adff49"/>
<rect x="108" y="213" width="5" height="6" fill="#ff9400"/>
<rect x="113" y="213" width="6" height="6" fill="#4dffaa"/>
<rect x="119" y="213" width="5" height="6" fill="#00e4f8"/>
<rect x="124" y="213" width="12" height="6" fill="#00b8ff"/>
<rect x="136" y="213" width="6" height="6" fill="#1fffd7"/>
<rect x="142" y="213" width="5" height="6" fill="#00e4f8"/>
<rect x="147" y="213" width="12" height="6" fill="#1fffd7"/>
<rect x="159" y="213" width="12" height="6" fill="#00e4f8"/>
<rect x="171" y="213" width="11" height="6" fill="#1fffd7"/>
<rect x="182" y="213" width="6" height="6" fill="#4dffaa"/>
<rect x="188" y="213" width="6" height="6" fill="#00b8ff"/>
<rect x="199" y="213" width="12" height="6" fill="#009cff"/>
<rect x="211" y="213" width="6" height="6" fill="#0044ff"/>
<rect x="217" y="213" width="6" height="6" fill="#009cff"/>
<rect x="223" y="213" width="11" height="6" fill="#00b8ff"/>
<rect x="234" y="213" width="6" height="6" fill="#0080ff"/>
<rect x="240" y="213" width="6" height="6" fill="#009cff"/>
<rect x="246" y="213" width="6" height="6" fill="#00b8ff"/>
<rect x="280" y="213" width="6" height="6" fill="#1fffd7"/>
<rect x="286" y="213" width="6" height="6" fill="#0044ff"/>
<rect x="292" y="213" width="6" height="6" fill="#7dff7a"/>
<rect x="298" y="213" width="6" height="6" fill="#0080ff"/>
<rect x="304" y="213" width="5" height="6" fill="#1fffd7"/>
<rect x="309" y="213" width="6" height="6" fill="#00e4f8"/>
<rect x="315" y="213" width="6" height="6" fill="#00b8ff"/>
<rect x="321" y="213" width="6" height="6" fill="#00e4f8"/>
<rect x="327" y="213" width="5" height="6" fill="#1fffd7"/>
<rect x="332" y="213" width="6" height="6" fill="#0080ff"/>
<rect x="338" y="213" width="6" height="6" fill="#1fffd7"/>
<rect x="344" y="213" width="17" height="6" fill="#00e4f8"/>
<rect x="361" y="213" width="12" height="6" fill="#0ff8e7"/>
<rect x="373" y="213" width="6" height="6" fill="#00e4f8"/>
<rect x="379" y="213" width="5" height="6" fill="#1fffd7"/>
<rect x="384" y="213" width="6" height="6" fill="#4dffaa"/>
<rect x="390" y="213" width="6" height="6" fill="#00e4f8"/>
<rect x="396" y="213" width="6" height="6" fill="#00b8ff"/>
<rect x="402" y="213" width="23" height="6" fill="#1fffd7"/>
<rect x="425" y="213" width="6" height="6" fill="#00b8ff"/>
<rect x="431" y="213" width="11" height="6" fill="#1fffd7"/>
<rect x="442" y="213" width="6" height="6" fill="#0080ff"/>
<rect x="448" y="213" width="6" height="6" fill="#00e4f8"/>
<rect x="460" y="213" width="11" height="6" fill="#1fffd7"/>
<rect x="471" y="213" width="6" height="6" fill="#adff49"/>
<rect x="108" y="219" width="5" height="6" fill="#adff49"/>
<rect x="113" y="219" width="6" height="6" fill="#1fffd7"/>
<rect x="124" y="219" width="12" height="6" fill="#00e4f8"/>
<rect x="136" y="219" width="11" height="6" fill="#1fffd7"/>
<rect x="147" y="219" width="6" height="6" fill="#00b8ff"/>
<rect x="153" y="219" width="6" height="6" fill="#1fffd7"/>
<rect x="159" y="219" width="6" height="6" fill="#00b8ff"/>
<rect x="165" y="219" width="11" height="6" fill="#00e4f8"/>
<rect x="176" y="219" width="12" height="6" fill="#1fffd7"/>
<rect x="188" y="219" width="6" height="6" fill="#00b8ff"/>
<rect x="194" y="219" width="5" height="6" fill="#7dff7a"/>
<rect x="199" y="219" width="12" height="6" fill="#009cff"/>
<rect x="217" y="219" width="6" height="6" fill="#0080ff"/>
<rect x="223" y="219" width="5" height="6" fill="#009cff"/>
<rect x="228" y="219" width="6" height="6" fill="#0080ff"/>
<rect x="234" y="219" width="18" height="6" fill="#00b8ff"/>
<rect x="280" y="219" width="6" height="6" fill="#0080ff"/>
<rect x="286" y="219" width="6" height="6" fill="#0044ff"/>
<rect x="292" y="219" width="6" height="6" fill="#00e4f8"/>
<rect x="298" y="219" width="6" height="6" fill="#00b8ff"/>
<rect x="309" y="219" width="6" height="6" fill="#00e4f8"/>
<rect x="315" y="219" width="6" height="6" fill="#1fffd7"/>
<rect x="321" y="219" width="11" height="6" fill="#00b8ff"/>
<rect x="332" y="219" width="6" height="6" fill="#00e4f8"/>
<rect x="338" y="219" width="6" height="6" fill="#0ff8e7"/>
<rect x="344" y="219" width="12" height="6" fill="#00e4f8"/>
<rect x="356" y="219" width="5" height="6" fill="#00b8ff"/>
<rect x="361" y="219" width="12" height="6" fill="#1fffd7"/>
<rect x="373" y="219" width="6" height="6" fill="#00b8ff"/>
<rect x="379" y="219" width="5" height="6" fill="#4dffaa"/>
<rect x="390" y="219" width="6" height="6" fill="#1fffd7"/>
<rect x="402" y="219" width="6" height="6" fill="#7dff7a"/>
<rect x="408" y="219" width="5" height="6" fill="#4dffaa"/>
<rect x="413" y="219" width="12" height="6" fill="#1fffd7"/>
<rect x="425" y="219" width="6" height="6" fill="#4dffaa"/>
<rect x="431" y="219" width="11" height="6" fill="#1fffd7"/>
<rect x="442" y="219" width="6" height="6" fill="#00e4f8"/>
<rect x="448" y="219" width="12" height="6" fill="#1fffd7"/>
<rect x="460" y="219" width="5" height="6" fill="#4dffaa"/>
<rect x="465" y="219" width="6" height="6" fill="#00e4f8"/>
<rect x="471" y="219" width="6" height="6" fill="#1fffd7"/>
<rect x="108" y="225" width="5" height="5" fill="#adff49"/>
<rect x="113" y="225" width="6" height="5" fill="#00b8ff"/>
<rect x="119" y="225" width="5" height="5" fill="#0080ff"/>
<rect x="124" y="225" width="6" height="5" fill="#00e4f8"/>
<rect x="130" y="225" width="17" height="5" fill="#1fffd7"/>
<rect x="147" y="225" width="6" height="5" fill="#00e4f8"/>
<rect x="153" y="225" width="6" height="5" fill="#00b8ff"/>
<rect x="159" y="225" width="6" height="5" fill="#1fffd7"/>
<rect x="165" y="225" width="6" height="5" fill="#00e4f8"/>
<rect x="171" y="225" width="11" height="5" fill="#00b8ff"/>
<rect x="182" y="225" width="12" height="5" fill="#00e4f8"/>
<rect x="194" y="225" width="5" height="5" fill="#4dffaa"/>
<rect x="199" y="225" width="6" height="5" fill="#0080ff"/>
<rect x="205" y="225" width="6" height="5" fill="#00e4f8"/>
<rect x="211" y="225" width="6" height="5" fill="#009cff"/>
<rect x="217" y="225" width="6" height="5" fill="#00b8ff"/>
<rect x="223" y="225" width="5" height="5" fill="#00e4f8"/>
<rect x="228" y="225" width="6" height="5" fill="#1fffd7"/>
<rect x="234" y="225" width="6" height="5" fill="#0080ff"/>
<rect x="240" y="225" width="6" height="5" fill="#1fffd7"/>
<rect x="286" y="225" width="6" height="5" fill="#0044ff"/>
<rect x="292" y="225" width="6" height="5" fill="#00b8ff"/>
<rect x="298" y="225" width="6" height="5" fill="#00e4f8"/>
<rect x="304" y="225" width="5" height="5" fill="#4dffaa"/>
<rect x="309" y="225" width="6" height="5" fill="#0ff8e7"/>
<rect x="315" y="225" width="6" height="5" fill="#00b8ff"/>
<rect x="321" y="225" width="6" height="5" fill="#009cff"/>
<rect x="327" y="225" width="5" height="5" fill="#1fffd7"/>
<rect x="332" y="225" width="6" height="5" fill="#00e4f8"/>
<rect x="338" y="225" width="18" height="5" fill="#1fffd7"/>
<rect x="356" y="225" width="5" height="5" fill="#4dffaa"/>
<rect x="361" y="225" width="18" height="5" fill="#00b8ff"/>
<rect x="379" y="225" width="5" height="5" fill="#00e4f8"/>
<rect x="384" y="225" width="6" height="5" fill="#4dffaa"/>
<rect x="390" y="225" width="6" height="5" fill="#00b8ff"/>
<rect x="402" y="225" width="6" height="5" fill="#4dffaa"/>
<rect x="408" y="225" width="5" height="5" fill="#1fffd7"/>
<rect x="413" y="225" width="6" height="5" fill="#00e4f8"/>
<rect x="419" y="225" width="6" height="5" fill="#1fffd7"/>
<rect x="425" y="225" width="6" height="5" fill="#00e4f8"/>
<rect x="431" y="225" width="6" height="5" fill="#00b8ff"/>
<rect x="437" y="225" width="23" height="5" fill="#1fffd7"/>
<rect x="460" y="225" width="5" height="5" fill="#4dffaa"/>
<rect x="465" y="225" width="6" height="5" fill="#1fffd7"/>
<rect x="108" y="230" width="5" height="6" fill="#7dff7a"/>
<rect x="113" y="230" width="6" height="6" fill="#00e4f8"/>
<rect x="119" y="230" width="5" height="6" fill="#00b8ff"/>
<rect x="124" y="230" width="6" height="6" fill="#00e4f8"/>
<rect x="130" y="230" width="6" height="6" fill="#4dffaa"/>
<rect x="136" y="230" width="6" height="6" fill="#00e4f8"/>
<rect x="142" y="230" width="5" height="6" fill="#1fffd7"/>
<rect x="147" y="230" width="6" height="6" fill="#00e4f8"/>
<rect x="153" y="230" width="6" height="6" fill="#00b8ff"/>
<rect x="159" y="230" width="6" height="6" fill="#00e4f8"/>
<rect x="165" y="230" width="6" height="6" fill="#7dff7a"/>
<rect x="171" y="230" width="5" height="6" fill="#4dffaa"/>
<rect x="176" y="230" width="6" height="6" fill="#1fffd7"/>
<rect x="182" y="230" width="6" height="6" fill="#00b8ff"/>
<rect x="188" y="230" width="6" height="6" fill="#0080ff"/>
<rect x="194" y="230" width="5" height="6" fill="#00b8ff"/>
<rect x="199" y="230" width="12" height="6" fill="#009cff"/>
<rect x="211" y="230" width="6" height="6" fill="#00e4f8"/>
<rect x="217" y="230" width="6" height="6" fill="#0044ff"/>
<rect x="223" y="230" width="5" height="6" fill="#0080ff"/>
<rect x="228" y="230" width="6" height="6" fill="#1fffd7"/>
<rect x="234" y="230" width="18" height="6" fill="#0044ff"/>
<rect x="252" y="230" width="5" height="6" fill="#00e4f8"/>
<rect x="263" y="230" width="12" height="6" fill="#1fffd7"/>
<rect x="280" y="230" width="6" height="6" fill="#0080ff"/>
<rect x="286" y="230" width="6" height="6" fill="#0000ff"/>
<rect x="292" y="230" width="6" height="6" fill="#1fffd7"/>
<rect x="298" y="230" width="11" height="6" fill="#00e4f8"/>
<rect x="309" y="230" width="12" height="6" fill="#1fffd7"/>
<rect x="321" y="230" width="6" height="6" fill="#00b8ff"/>
<rect x="327" y="230" width="11" height="6" fill="#4dffaa"/>
<rect x="338" y="230" width="6" height="6" fill="#0044ff"/>
<rect x="344" y="230" width="6" height="6" fill="#00b8ff"/>
<rect x="350" y="230" width="6" height="6" fill="#0044ff"/>
<rect x="356" y="230" width="5" height="6" fill="#0080ff"/>
<rect x="361" y="230" width="6" height="6" fill="#0000ff"/>
<rect x="367" y="230" width="6" height="6" fill="#0000cd"/>
<rect x="373" y="230" width="6" height="6" fill="#00e4f8"/>
<rect x="379" y="230" width="5" height="6" fill="#ffd700"/>
<rect x="384" y="230" width="6" height="6" fill="#7dff7a"/>
<rect x="390" y="230" width="6" height="6" fill="#1fffd7"/>
<rect x="396" y="230" width="6" height="6" fill="#4dffaa"/>
<rect x="408" y="230" width="11" height="6" fill="#4dffaa"/>
<rect x="419" y="230" width="6" height="6" fill="#1fffd7"/>
<rect x="425" y="230" width="6" height="6" fill="#00e4f8"/>
<rect x="431" y="230" width="6" height="6" fill="#0080ff"/>
<rect x="437" y="230" width="5" height="6" fill="#1fffd7"/>
<rect x="442" y="230" width="6" height="6" fill="#00e4f8"/>
<rect x="448" y="230" width="12" height="6" fill="#1fffd7"/>
<rect x="471" y="230" width="6" height="6" fill="#0080ff"/>
<rect x="113" y="236" width="6" height="6" fill="#4dffaa"/>
<rect x="119" y="236" width="5" height="6" fill="#adff49"/>
<rect x="136" y="236" width="6" height="6" fill="#00e4f8"/>
<rect x="142" y="236" width="5" height="6" fill="#ffd700"/>
<rect x="147" y="236" width="6" height="6" fill="#1fffd7"/>
<rect x="153" y="236" width="6" height="6" fill="#00b8ff"/>
<rect x="159" y="236" width="6" height="6" fill="#7dff7a"/>
<rect x="165" y="236" width="11" height="6" fill="#adff49"/>
<rect x="176" y="236" width="6" height="6" fill="#7dff7a"/>
<rect x="182" y="236" width="6" height="6" fill="#00e4f8"/>
<rect x="194" y="236" width="5" height="6" fill="#4dffaa"/>
<rect x="199" y="236" width="6" height="6" fill="#0080ff"/>
<rect x="211" y="236" width="6" height="6" fill="#00b8ff"/>
<rect x="217" y="236" width="6" height="6" fill="#00e4f8"/>
<rect x="223" y="236" width="5" height="6" fill="#0080ff"/>
<rect x="228" y="236" width="6" height="6" fill="#0044ff"/>
<rect x="234" y="236" width="18" height="6" fill="#0000ff"/>
<rect x="252" y="236" width="5" height="6" fill="#0044ff"/>
<rect x="257" y="236" width="6" height="6" fill="#00b8ff"/>
<rect x="269" y="236" width="6" height="6" fill="#0080ff"/>
<rect x="275" y="236" width="5" height="6" fill="#0044ff"/>
<rect x="280" y="236" width="6" height="6" fill="#1fffd7"/>
<rect x="286" y="236" width="6" height="6" fill="#0000ff"/>
<rect x="292" y="236" width="6" height="6" fill="#4dffaa"/>
<rect x="298" y="236" width="6" height="6" fill="#00e4f8"/>
<rect x="304" y="236" width="5" height="6" fill="#4dffaa"/>
<rect x="309" y="236" width="12" height="6" fill="#00b8ff"/>
<rect x="321" y="236" width="6" height="6" fill="#00e4f8"/>
<rect x="327" y="236" width="5" height="6" fill="#0080ff"/>
<rect x="332" y="236" width="6" height="6" fill="#00b8ff"/>
<rect x="338" y="236" width="6" height="6" fill="#0080ff"/>
<rect x="344" y="236" width="12" height="6" fill="#00b8ff"/>
<rect x="356" y="236" width="5" height="6" fill="#0080ff"/>
<rect x="361" y="236" width="6" height="6" fill="#1fffd7"/>
<rect x="367" y="236" width="6" height="6" fill="#0044ff"/>
<rect x="373" y="236" width="11" height="6" fill="#0000ff"/>
<rect x="384" y="236" width="6" height="6" fill="#4dffaa"/>
<rect x="390" y="236" width="18" height="6" fill="#1fffd7"/>
<rect x="408" y="236" width="11" height="6" fill="#00e4f8"/>
<rect x="425" y="236" width="6" height="6" fill="#7dff7a"/>
<rect x="431" y="236" width="6" height="6" fill="#4dffaa"/>
<rect x="437" y="236" width="11" height="6" fill="#00e4f8"/>
<rect x="448" y="236" width="6" height="6" fill="#1fffd7"/>
<rect x="460" y="236" width="5" height="6" fill="#7dff7a"/>
<rect x="471" y="236" width="6" height="6" fill="#4dffaa"/>
<rect x="108" y="242" width="11" height="6" fill="#1fffd7"/>
<rect x="119" y="242" width="5" height="6" fill="#7dff7a"/>
<rect x="124" y="242" width="12" height="6" fill="#4dffaa"/>
<rect x="136" y="242" width="11" height="6" fill="#1fffd7"/>
<rect x="147" y="242" width="6" height="6" fill="#00e4f8"/>
<rect x="153" y="242" width="18" height="6" fill="#4dffaa"/>
<rect x="171" y="242" width="5" height="6" fill="#1fffd7"/>
<rect x="176" y="242" width="6" height="6" fill="#4dffaa"/>
<rect x="182" y="242" width="6" height="6" fill="#1fffd7"/>
<rect x="188" y="242" width="6" height="6" fill="#00b8ff"/>
<rect x="194" y="242" width="5" height="6" fill="#adff49"/>
<rect x="199" y="242" width="6" height="6" fill="#00e4f8"/>
<rect x="211" y="242" width="6" height="6" fill="#0000ff"/>
<rect x="217" y="242" width="6" height="6" fill="#0044ff"/>
<rect x="223" y="242" width="5" height="6" fill="#0000ff"/>
<rect x="228" y="242" width="6" height="6" fill="#0044ff"/>
<rect x="234" y="242" width="6" height="6" fill="#00e4f8"/>
<rect x="246" y="242" width="6" height="6" fill="#00b8ff"/>
<rect x="252" y="242" width="5" height="6" fill="#00e4f8"/>
<rect x="257" y="242" width="6" height="6" fill="#0044ff"/>
<rect x="263" y="242" width="6" height="6" fill="#0080ff"/>
<rect x="269" y="242" width="6" height="6" fill="#1fffd7"/>
<rect x="275" y="242" width="5" height="6" fill="#00e4f8"/>
<rect x="286" y="242" width="6" height="6" fill="#1fffd7"/>
<rect x="292" y="242" width="6" height="6" fill="#0080ff"/>
<rect x="304" y="242" width="5" height="6" fill="#1fffd7"/>
<rect x="338" y="242" width="6" height="6" fill="#00e4f8"/>
<rect x="344" y="242" width="17" height="6" fill="#0044ff"/>
<rect x="361" y="242" width="6" height="6" fill="#00b8ff"/>
<rect x="367" y="242" width="12" height="6" fill="#0080ff"/>
<rect x="379" y="242" width="5" height="6" fill="#00e4f8"/>
<rect x="384" y="242" width="6" height="6" fill="#1fffd7"/>
<rect x="390" y="242" width="12" height="6" fill="#0080ff"/>
<rect x="402" y="242" width="6" height="6" fill="#4dffaa"/>
<rect x="408" y="242" width="5" height="6" fill="#00e4f8"/>
<rect x="413" y="242" width="6" height="6" fill="#1fffd7"/>
<rect x="419" y="242" width="12" height="6" fill="#4dffaa"/>
<rect x="431" y="242" width="6" height="6" fill="#00e4f8"/>
<rect x="437" y="242" width="5" height="6" fill="#0080ff"/>
<rect x="442" y="242" width="6" height="6" fill="#1fffd7"/>
<rect x="448" y="242" width="6" height="6" fill="#00e4f8"/>
<rect x="454" y="242" width="17" height="6" fill="#1fffd7"/>
<rect x="471" y="242" width="6" height="6" fill="#adff49"/>
<rect x="108" y="248" width="5" height="6" fill="#e1ff16"/>
<rect x="113" y="248" width="6" height="6" fill="#0044ff"/>
<rect x="119" y="248" width="5" height="6" fill="#00b8ff"/>
<rect x="124" y="248" width="6" height="6" fill="#00e4f8"/>
<rect x="130" y="248" width="12" height="6" fill="#1fffd7"/>
<rect x="142" y="248" width="5" height="6" fill="#00e4f8"/>
<rect x="147" y="248" width="6" height="6" fill="#00b8ff"/>
<rect x="153" y="248" width="12" height="6" fill="#1fffd7"/>
<rect x="165" y="248" width="6" height="6" fill="#00b8ff"/>
<rect x="171" y="248" width="5" height="6" fill="#0080ff"/>
<rect x="176" y="248" width="6" height="6" fill="#00b8ff"/>
<rect x="182" y="248" width="6" height="6" fill="#00e4f8"/>
<rect x="188" y="248" width="6" height="6" fill="#4dffaa"/>
<rect x="194" y="248" width="5" height="6" fill="#1fffd7"/>
<rect x="217" y="248" width="6" height="6" fill="#1fffd7"/>
<rect x="223" y="248" width="5" height="6" fill="#00e4f8"/>
<rect x="228" y="248" width="6" height="6" fill="#00b8ff"/>
<rect x="234" y="248" width="12" height="6" fill="#0044ff"/>
<rect x="246" y="248" width="6" height="6" fill="#0080ff"/>
<rect x="252" y="248" width="5" height="6" fill="#00e4f8"/>
<rect x="257" y="248" width="6" height="6" fill="#1fffd7"/>
<rect x="263" y="248" width="12" height="6" fill="#00e4f8"/>
<rect x="275" y="248" width="5" height="6" fill="#1fffd7"/>
<rect x="280" y="248" width="18" height="6" fill="#00b8ff"/>
<rect x="332" y="248" width="18" height="6" fill="#1fffd7"/>
<rect x="350" y="248" width="6" height="6" fill="#0080ff"/>
<rect x="356" y="248" width="5" height="6" fill="#0044ff"/>
<rect x="361" y="248" width="6" height="6" fill="#0080ff"/>
<rect x="367" y="248" width="6" height="6" fill="#0044ff"/>
<rect x="373" y="248" width="6" height="6" fill="#0080ff"/>
<rect x="379" y="248" width="5" height="6" fill="#00e4f8"/>
<rect x="384" y="248" width="6" height="6" fill="#0080ff"/>
<rect x="390" y="248" width="6" height="6" fill="#0000ff"/>
<rect x="396" y="248" width="6" height="6" fill="#0044ff"/>
<rect x="402" y="248" width="6" height="6" fill="#00b8ff"/>
<rect x="408" y="248" width="11" height="6" fill="#1fffd7"/>
<rect x="419" y="248" width="6" height="6" fill="#00b8ff"/>
<rect x="425" y="248" width="6" height="6" fill="#0080ff"/>
<rect x="431" y="248" width="6" height="6" fill="#00b8ff"/>
<rect x="437" y="248" width="5" height="6" fill="#1fffd7"/>
<rect x="442" y="248" width="6" height="6" fill="#4dffaa"/>
<rect x="448" y="248" width="6" height="6" fill="#1fffd7"/>
<rect x="454" y="248" width="11" height="6" fill="#00e4f8"/>
<rect x="465" y="248" width="6" height="6" fill="#00b8ff"/>
<rect x="471" y="248" width="6" height="6" fill="#7dff7a"/>
<rect x="108" y="254" width="5" height="5" fill="#00e4f8"/>
<rect x="113" y="254" width="6" height="5" fill="#0044ff"/>
<rect x="119" y="254" width="17" height="5" fill="#1fffd7"/>
<rect x="136" y="254" width="6" height="5" fill="#00b8ff"/>
<rect x="142" y="254" width="5" height="5" fill="#00e4f8"/>
<rect x="147" y="254" width="6" height="5" fill="#1fffd7"/>
<rect x="153" y="254" width="6" height="5" fill="#00b8ff"/>
<rect x="159" y="254" width="6" height="5" fill="#4dffaa"/>
<rect x="165" y="254" width="23" height="5" fill="#1fffd7"/>
<rect x="188" y="254" width="6" height="5" fill="#00e4f8"/>
<rect x="194" y="254" width="5" height="5" fill="#1fffd7"/>
<rect x="217" y="254" width="11" height="5" fill="#1fffd7"/>
<rect x="228" y="254" width="6" height="5" fill="#00e4f8"/>
<rect x="234" y="254" width="6" height="5" fill="#4dffaa"/>
<rect x="240" y="254" width="6" height="5" fill="#0080ff"/>
<rect x="246" y="254" width="6" height="5" fill="#00b8ff"/>
<rect x="252" y="254" width="5" height="5" fill="#4dffaa"/>
<rect x="257" y="254" width="6" height="5" fill="#00b8ff"/>
<rect x="263" y="254" width="17" height="5" fill="#1fffd7"/>
<rect x="280" y="254" width="12" height="5" fill="#00e4f8"/>
<rect x="292" y="254" width="12" height="5" fill="#0044ff"/>
<rect x="304" y="254" width="5" height="5" fill="#00b8ff"/>
<rect x="332" y="254" width="6" height="5" fill="#0044ff"/>
<rect x="338" y="254" width="6" height="5" fill="#0080ff"/>
<rect x="344" y="254" width="6" height="5" fill="#1fffd7"/>
<rect x="350" y="254" width="11" height="5" fill="#00e4f8"/>
<rect x="361" y="254" width="6" height="5" fill="#1fffd7"/>
<rect x="367" y="254" width="6" height="5" fill="#00e4f8"/>
<rect x="373" y="254" width="6" height="5" fill="#0044ff"/>
<rect x="379" y="254" width="5" height="5" fill="#00e4f8"/>
<rect x="384" y="254" width="6" height="5" fill="#0080ff"/>
<rect x="390" y="254" width="6" height="5" fill="#0044ff"/>
<rect x="396" y="254" width="12" height="5" fill="#4dffaa"/>
<rect x="408" y="254" width="5" height="5" fill="#00e4f8"/>
<rect x="413" y="254" width="6" height="5" fill="#1fffd7"/>
<rect x="419" y="254" width="12" height="5" fill="#00e4f8"/>
<rect x="431" y="254" width="6" height="5" fill="#1fffd7"/>
<rect x="437" y="254" width="5" height="5" fill="#00e4f8"/>
<rect x="442" y="254" width="6" height="5" fill="#1fffd7"/>
<rect x="448" y="254" width="6" height="5" fill="#00b8ff"/>
<rect x="454" y="254" width="17" height="5" fill="#1fffd7"/>
<rect x="471" y="254" width="6" height="5" fill="#4dffaa"/>
<rect x="108" y="259" width="5" height="6" fill="#adff49"/>
<rect x="113" y="259" width="6" height="6" fill="#1fffd7"/>
<rect x="119" y="259" width="5" height="6" fill="#00b8ff"/>
<rect x="124" y="259" width="6" height="6" fill="#1fffd7"/>
<rect x="130" y="259" width="6" height="6" fill="#0080ff"/>
<rect x="136" y="259" width="11" height="6" fill="#00e4f8"/>
<rect x="147" y="259" width="6" height="6" fill="#00b8ff"/>
<rect x="153" y="259" width="6" height="6" fill="#00e4f8"/>
<rect x="159" y="259" width="6" height="6" fill="#0080ff"/>
<rect x="165" y="259" width="11" height="6" fill="#1fffd7"/>
<rect x="176" y="259" width="6" height="6" fill="#00b8ff"/>
<rect x="182" y="259" width="12" height="6" fill="#4dffaa"/>
<rect x="194" y="259" width="5" height="6" fill="#1fffd7"/>
<rect x="205" y="259" width="6" height="6" fill="#1fffd7"/>
<rect x="211" y="259" width="6" height="6" fill="#00b8ff"/>
<rect x="223" y="259" width="5" height="6" fill="#1fffd7"/>
<rect x="234" y="259" width="12" height="6" fill="#00e4f8"/>
<rect x="246" y="259" width="6" height="6" fill="#00b8ff"/>
<rect x="252" y="259" width="5" height="6" fill="#1fffd7"/>
<rect x="257" y="259" width="6" height="6" fill="#00b8ff"/>
<rect x="263" y="259" width="17" height="6" fill="#1fffd7"/>
<rect x="280" y="259" width="12" height="6" fill="#00e4f8"/>
<rect x="292" y="259" width="12" height="6" fill="#0044ff"/>
<rect x="304" y="259" width="5" height="6" fill="#0080ff"/>
<rect x="332" y="259" width="6" height="6" fill="#0080ff"/>
<rect x="338" y="259" width="12" height="6" fill="#1fffd7"/>
<rect x="350" y="259" width="6" height="6" fill="#00e4f8"/>
<rect x="356" y="259" width="5" height="6" fill="#1fffd7"/>
<rect x="361" y="259" width="12" height="6" fill="#00e4f8"/>
<rect x="373" y="259" width="6" height="6" fill="#0044ff"/>
<rect x="379" y="259" width="5" height="6" fill="#adff49"/>
<rect x="384" y="259" width="6" height="6" fill="#0080ff"/>
<rect x="390" y="259" width="6" height="6" fill="#0044ff"/>
<rect x="402" y="259" width="6" height="6" fill="#4dffaa"/>
<rect x="408" y="259" width="17" height="6" fill="#1fffd7"/>
<rect x="425" y="259" width="6" height="6" fill="#00b8ff"/>
<rect x="431" y="259" width="6" height="6" fill="#00e4f8"/>
<rect x="437" y="259" width="5" height="6" fill="#1fffd7"/>
<rect x="442" y="259" width="12" height="6" fill="#4dffaa"/>
<rect x="454" y="259" width="11" height="6" fill="#1fffd7"/>
<rect x="471" y="259" width="6" height="6" fill="#adff49"/>
<rect x="108" y="265" width="5" height="6" fill="#7dff7a"/>
<rect x="113" y="265" width="6" height="6" fill="#1fffd7"/>
<rect x="119" y="265" width="11" height="6" fill="#00e4f8"/>
<rect x="130" y="265" width="6" height="6" fill="#4dffaa"/>
<rect x="136" y="265" width="6" height="6" fill="#00e4f8"/>
<rect x="142" y="265" width="29" height="6" fill="#1fffd7"/>
<rect x="171" y="265" width="5" height="6" fill="#4dffaa"/>
<rect x="176" y="265" width="12" height="6" fill="#00b8ff"/>
<rect x="188" y="265" width="6" height="6" fill="#00e4f8"/>
<rect x="194" y="265" width="5" height="6" fill="#4dffaa"/>
<rect x="199" y="265" width="6" height="6" fill="#00e4f8"/>
<rect x="205" y="265" width="6" height="6" fill="#4dffaa"/>
<rect x="217" y="265" width="6" height="6" fill="#1fffd7"/>
<rect x="223" y="265" width="5" height="6" fill="#00e4f8"/>
<rect x="228" y="265" width="6" height="6" fill="#00b8ff"/>
<rect x="240" y="265" width="6" height="6" fill="#00b8ff"/>
<rect x="246" y="265" width="6" height="6" fill="#00e4f8"/>
<rect x="252" y="265" width="5" height="6" fill="#1fffd7"/>
<rect x="257" y="265" width="12" height="6" fill="#00e4f8"/>
<rect x="269" y="265" width="6" height="6" fill="#00b8ff"/>
<rect x="275" y="265" width="5" height="6" fill="#1fffd7"/>
<rect x="280" y="265" width="6" height="6" fill="#00e4f8"/>
<rect x="286" y="265" width="6" height="6" fill="#4dffaa"/>
<rect x="292" y="265" width="6" height="6" fill="#0044ff"/>
<rect x="298" y="265" width="6" height="6" fill="#0000ff"/>
<rect x="309" y="265" width="6" height="6" fill="#e1ff16"/>
<rect x="327" y="265" width="5" height="6" fill="#1fffd7"/>
<rect x="332" y="265" width="12" height="6" fill="#00e4f8"/>
<rect x="344" y="265" width="12" height="6" fill="#1fffd7"/>
<rect x="356" y="265" width="5" height="6" fill="#00e4f8"/>
<rect x="361" y="265" width="6" height="6" fill="#1fffd7"/>
<rect x="373" y="265" width="6" height="6" fill="#0044ff"/>
<rect x="379" y="265" width="5" height="6" fill="#00b8ff"/>
<rect x="384" y="265" width="6" height="6" fill="#0080ff"/>
<rect x="390" y="265" width="6" height="6" fill="#0000ff"/>
<rect x="396" y="265" width="6" height="6" fill="#adff49"/>
<rect x="402" y="265" width="6" height="6" fill="#00e4f8"/>
<rect x="408" y="265" width="5" height="6" fill="#00b8ff"/>
<rect x="413" y="265" width="6" height="6" fill="#1fffd7"/>
<rect x="419" y="265" width="6" height="6" fill="#00e4f8"/>
<rect x="425" y="265" width="12" height="6" fill="#00b8ff"/>
<rect x="437" y="265" width="5" height="6" fill="#1fffd7"/>
<rect x="442" y="265" width="6" height="6" fill="#00b8ff"/>
<rect x="448" y="265" width="6" height="6" fill="#00e4f8"/>
<rect x="454" y="265" width="6" height="6" fill="#4dffaa"/>
<rect x="465" y="265" width="6" height="6" fill="#00b8ff"/>
<rect x="471" y="265" width="6" height="6" fill="#ff9400"/>
<rect x="108" y="271" width="5" height="6" fill="#4dffaa"/>
<rect x="113" y="271" width="34" height="6" fill="#1fffd7"/>
<rect x="147" y="271" width="12" height="6" fill="#00e4f8"/>
<rect x="159" y="271" width="6" height="6" fill="#4dffaa"/>
<rect x="165" y="271" width="6" height="6" fill="#0080ff"/>
<rect x="171" y="271" width="11" height="6" fill="#00e4f8"/>
<rect x="182" y="271" width="12" height="6" fill="#1fffd7"/>
<rect x="194" y="271" width="5" height="6" fill="#4dffaa"/>
<rect x="199" y="271" width="6" height="6" fill="#00b8ff"/>
<rect x="205" y="271" width="6" height="6" fill="#00e4f8"/>
<rect x="211" y="271" width="6" height="6" fill="#1fffd7"/>
<rect x="217" y="271" width="6" height="6" fill="#00e4f8"/>
<rect x="223" y="271" width="5" height="6" fill="#1fffd7"/>
<rect x="234" y="271" width="6" height="6" fill="#1fffd7"/>
<rect x="240" y="271" width="12" height="6" fill="#00b8ff"/>
<rect x="252" y="271" width="17" height="6" fill="#00e4f8"/>
<rect x="269" y="271" width="11" height="6" fill="#1fffd7"/>
<rect x="280" y="271" width="6" height="6" fill="#00b8ff"/>
<rect x="292" y="271" width="6" height="6" fill="#0000ff"/>
<rect x="298" y="271" width="6" height="6" fill="#0044ff"/>
<rect x="309" y="271" width="12" height="6" fill="#4dffaa"/>
<rect x="321" y="271" width="6" height="6" fill="#1fffd7"/>
<rect x="327" y="271" width="5" height="6" fill="#00b8ff"/>
<rect x="332" y="271" width="6" height="6" fill="#1fffd7"/>
<rect x="338" y="271" width="6" height="6" fill="#00e4f8"/>
<rect x="344" y="271" width="12" height="6" fill="#00b8ff"/>
<rect x="356" y="271" width="11" height="6" fill="#1fffd7"/>
<rect x="367" y="271" width="6" height="6" fill="#4dffaa"/>
<rect x="373" y="271" width="11" height="6" fill="#0044ff"/>
<rect x="384" y="271" width="6" height="6" fill="#00e4f8"/>
<rect x="390" y="271" width="6" height="6" fill="#0044ff"/>
<rect x="396" y="271" width="12" height="6" fill="#1fffd7"/>
<rect x="408" y="271" width="5" height="6" fill="#00e4f8"/>
<rect x="413" y="271" width="18" height="6" fill="#1fffd7"/>
<rect x="431" y="271" width="23" height="6" fill="#00e4f8"/>
<rect x="454" y="271" width="6" height="6" fill="#1fffd7"/>
<rect x="460" y="271" width="11" height="6" fill="#4dffaa"/>
<rect x="471" y="271" width="6" height="6" fill="#e1ff16"/>
<rect x="108" y="277" width="5" height="5" fill="#7dff7a"/>
<rect x="113" y="277" width="6" height="5" fill="#00e4f8"/>
<rect x="119" y="277" width="5" height="5" fill="#1fffd7"/>
<rect x="124" y="277" width="12" height="5" fill="#4dffaa"/>
<rect x="136" y="277" width="11" height="5" fill="#1fffd7"/>
<rect x="147" y="277" width="6" height="5" fill="#00b8ff"/>
<rect x="153" y="277" width="6" height="5" fill="#00e4f8"/>
<rect x="159" y="277" width="6" height="5" fill="#00b8ff"/>
<rect x="165" y="277" width="11" height="5" fill="#00e4f8"/>
<rect x="176" y="277" width="12" height="5" fill="#1fffd7"/>
<rect x="188" y="277" width="11" height="5" fill="#4dffaa"/>
<rect x="199" y="277" width="6" height="5" fill="#1fffd7"/>
<rect x="205" y="277" width="23" height="5" fill="#00e4f8"/>
<rect x="228" y="277" width="6" height="5" fill="#1fffd7"/>
<rect x="234" y="277" width="6" height="5" fill="#00e4f8"/>
<rect x="240" y="277" width="6" height="5" fill="#00b8ff"/>
<rect x="246" y="277" width="6" height="5" fill="#00e4f8"/>
<rect x="252" y="277" width="28" height="5" fill="#1fffd7"/>
<rect x="280" y="277" width="6" height="5" fill="#00e4f8"/>
<rect x="286" y="277" width="6" height="5" fill="#00b8ff"/>
<rect x="292" y="277" width="6" height="5" fill="#0000cd"/>
<rect x="298" y="277" width="6" height="5" fill="#0000ff"/>
<rect x="304" y="277" width="5" height="5" fill="#4dffaa"/>
<rect x="309" y="277" width="6" height="5" fill="#00e4f8"/>
<rect x="321" y="277" width="6" height="5" fill="#00e4f8"/>
<rect x="327" y="277" width="5" height="5" fill="#1fffd7"/>
<rect x="332" y="277" width="18" height="5" fill="#00e4f8"/>
<rect x="350" y="277" width="6" height="5" fill="#1fffd7"/>
<rect x="356" y="277" width="5" height="5" fill="#00b8ff"/>
<rect x="361" y="277" width="6" height="5" fill="#00e4f8"/>
<rect x="373" y="277" width="6" height="5" fill="#00e4f8"/>
<rect x="379" y="277" width="5" height="5" fill="#0044ff"/>
<rect x="384" y="277" width="6" height="5" fill="#0080ff"/>
<rect x="390" y="277" width="6" height="5" fill="#0000ff"/>
<rect x="396" y="277" width="6" height="5" fill="#00b8ff"/>
<rect x="402" y="277" width="6" height="5" fill="#00e4f8"/>
<rect x="408" y="277" width="11" height="5" fill="#1fffd7"/>
<rect x="419" y="277" width="12" height="5" fill="#00e4f8"/>
<rect x="431" y="277" width="40" height="5" fill="#1fffd7"/>
<rect x="113" y="282" width="6" height="6" fill="#00b8ff"/>
<rect x="119" y="282" width="5" height="6" fill="#0080ff"/>
<rect x="124" y="282" width="6" height="6" fill="#00b8ff"/>
<rect x="130" y="282" width="6" height="6" fill="#00e4f8"/>
<rect x="136" y="282" width="11" height="6" fill="#1fffd7"/>
<rect x="147" y="282" width="6" height="6" fill="#00b8ff"/>
<rect x="153" y="282" width="6" height="6" fill="#4dffaa"/>
<rect x="159" y="282" width="6" height="6" fill="#00e4f8"/>
<rect x="165" y="282" width="6" height="6" fill="#4dffaa"/>
<rect x="171" y="282" width="5" height="6" fill="#1fffd7"/>
<rect x="176" y="282" width="6" height="6" fill="#00e4f8"/>
<rect x="182" y="282" width="6" height="6" fill="#4dffaa"/>
<rect x="188" y="282" width="17" height="6" fill="#00e4f8"/>
<rect x="205" y="282" width="6" height="6" fill="#0080ff"/>
<rect x="211" y="282" width="6" height="6" fill="#00b8ff"/>
<rect x="217" y="282" width="11" height="6" fill="#0044ff"/>
<rect x="228" y="282" width="6" height="6" fill="#1fffd7"/>
<rect x="234" y="282" width="6" height="6" fill="#00e4f8"/>
<rect x="240" y="282" width="6" height="6" fill="#00b8ff"/>
<rect x="246" y="282" width="29" height="6" fill="#00e4f8"/>
<rect x="275" y="282" width="11" height="6" fill="#00b8ff"/>
<rect x="286" y="282" width="6" height="6" fill="#00e4f8"/>
<rect x="292" y="282" width="6" height="6" fill="#0080ff"/>
<rect x="298" y="282" width="6" height="6" fill="#1fffd7"/>
<rect x="304" y="282" width="5" height="6" fill="#4dffaa"/>
<rect x="309" y="282" width="18" height="6" fill="#00e4f8"/>
<rect x="327" y="282" width="5" height="6" fill="#1fffd7"/>
<rect x="332" y="282" width="12" height="6" fill="#00b8ff"/>
<rect x="344" y="282" width="12" height="6" fill="#00e4f8"/>
<rect x="356" y="282" width="5" height="6" fill="#1fffd7"/>
<rect x="361" y="282" width="6" height="6" fill="#4dffaa"/>
<rect x="373" y="282" width="6" height="6" fill="#1fffd7"/>
<rect x="379" y="282" width="23" height="6" fill="#0044ff"/>
<rect x="402" y="282" width="11" height="6" fill="#00b8ff"/>
<rect x="413" y="282" width="12" height="6" fill="#1fffd7"/>
<rect x="425" y="282" width="6" height="6" fill="#00b8ff"/>
<rect x="431" y="282" width="6" height="6" fill="#0044ff"/>
<rect x="437" y="282" width="5" height="6" fill="#4dffaa"/>
<rect x="442" y="282" width="12" height="6" fill="#1fffd7"/>
<rect x="454" y="282" width="6" height="6" fill="#00e4f8"/>
<rect x="460" y="282" width="5" height="6" fill="#1fffd7"/>
<rect x="465" y="282" width="6" height="6" fill="#4dffaa"/>
<rect x="108" y="288" width="5" height="6" fill="#7dff7a"/>
<rect x="113" y="288" width="6" height="6" fill="#0080ff"/>
<rect x="119" y="288" width="5" height="6" fill="#00e4f8"/>
<rect x="124" y="288" width="6" height="6" fill="#00b8ff"/>
<rect x="130" y="288" width="6" height="6" fill="#00e4f8"/>
<rect x="136" y="288" width="6" height="6" fill="#1fffd7"/>
<rect x="142" y="288" width="5" height="6" fill="#00b8ff"/>
<rect x="147" y="288" width="6" height="6" fill="#0080ff"/>
<rect x="153" y="288" width="6" height="6" fill="#00b8ff"/>
<rect x="159" y="288" width="6" height="6" fill="#1fffd7"/>
<rect x="165" y="288" width="11" height="6" fill="#4dffaa"/>
<rect x="176" y="288" width="6" height="6" fill="#1fffd7"/>
<rect x="182" y="288" width="6" height="6" fill="#00b8ff"/>
<rect x="188" y="288" width="6" height="6" fill="#00e4f8"/>
<rect x="194" y="288" width="17" height="6" fill="#00b8ff"/>
<rect x="211" y="288" width="6" height="6" fill="#00e4f8"/>
<rect x="217" y="288" width="29" height="6" fill="#00b8ff"/>
<rect x="246" y="288" width="11" height="6" fill="#00e4f8"/>
<rect x="257" y="288" width="6" height="6" fill="#00b8ff"/>
<rect x="263" y="288" width="17" height="6" fill="#00e4f8"/>
<rect x="280" y="288" width="18" height="6" fill="#00b8ff"/>
<rect x="298" y="288" width="6" height="6" fill="#0044ff"/>
<rect x="304" y="288" width="5" height="6" fill="#00b8ff"/>
<rect x="309" y="288" width="6" height="6" fill="#1fffd7"/>
<rect x="315" y="288" width="23" height="6" fill="#00b8ff"/>
<rect x="338" y="288" width="6" height="6" fill="#1fffd7"/>
<rect x="344" y="288" width="12" height="6" fill="#00e4f8"/>
<rect x="356" y="288" width="5" height="6" fill="#00b8ff"/>
<rect x="361" y="288" width="6" height="6" fill="#1fffd7"/>
<rect x="373" y="288" width="6" height="6" fill="#00b8ff"/>
<rect x="379" y="288" width="11" height="6" fill="#0044ff"/>
<rect x="390" y="288" width="6" height="6" fill="#7dff7a"/>
<rect x="413" y="288" width="6" height="6" fill="#4dffaa"/>
<rect x="419" y="288" width="6" height="6" fill="#00e4f8"/>
<rect x="425" y="288" width="6" height="6" fill="#00b8ff"/>
<rect x="431" y="288" width="6" height="6" fill="#00e4f8"/>
<rect x="437" y="288" width="5" height="6" fill="#4dffaa"/>
<rect x="442" y="288" width="18" height="6" fill="#1fffd7"/>
<rect x="460" y="288" width="5" height="6" fill="#00e4f8"/>
<rect x="465" y="288" width="6" height="6" fill="#1fffd7"/>
<rect x="471" y="288" width="6" height="6" fill="#ff9400"/>
<rect x="108" y="294" width="5" height="6" fill="#4dffaa"/>
<rect x="113" y="294" width="17" height="6" fill="#1fffd7"/>
<rect x="130" y="294" width="6" height="6" fill="#00e4f8"/>
<rect x="136" y="294" width="6" height="6" fill="#00b8ff"/>
<rect x="142" y="294" width="11" height="6" fill="#1fffd7"/>
<rect x="153" y="294" width="6" height="6" fill="#00e4f8"/>
<rect x="159" y="294" width="12" height="6" fill="#1fffd7"/>
<rect x="171" y="294" width="5" height="6" fill="#4dffaa"/>
<rect x="176" y="294" width="18" height="6" fill="#1fffd7"/>
<rect x="194" y="294" width="5" height="6" fill="#4dffaa"/>
<rect x="199" y="294" width="6" height="6" fill="#0080ff"/>
<rect x="205" y="294" width="6" height="6" fill="#00b8ff"/>
<rect x="211" y="294" width="6" height="6" fill="#00e4f8"/>
<rect x="217" y="294" width="6" height="6" fill="#1fffd7"/>
<rect x="223" y="294" width="5" height="6" fill="#00e4f8"/>
<rect x="228" y="294" width="6" height="6" fill="#1fffd7"/>
<rect x="234" y="294" width="6" height="6" fill="#00e4f8"/>
<rect x="240" y="294" width="6" height="6" fill="#00b8ff"/>
<rect x="246" y="294" width="6" height="6" fill="#0080ff"/>
<rect x="252" y="294" width="11" height="6" fill="#1fffd7"/>
<rect x="263" y="294" width="12" height="6" fill="#00e4f8"/>
<rect x="275" y="294" width="11" height="6" fill="#1fffd7"/>
<rect x="286" y="294" width="6" height="6" fill="#00e4f8"/>
<rect x="292" y="294" width="6" height="6" fill="#0080ff"/>
<rect x="298" y="294" width="11" height="6" fill="#00b8ff"/>
<rect x="309" y="294" width="6" height="6" fill="#1fffd7"/>
<rect x="315" y="294" width="6" height="6" fill="#00e4f8"/>
<rect x="321" y="294" width="17" height="6" fill="#1fffd7"/>
<rect x="338" y="294" width="23" height="6" fill="#00e4f8"/>
<rect x="367" y="294" width="6" height="6" fill="#4dffaa"/>
<rect x="373" y="294" width="6" height="6" fill="#0080ff"/>
<rect x="379" y="294" width="5" height="6" fill="#0044ff"/>
<rect x="384" y="294" width="6" height="6" fill="#0080ff"/>
<rect x="402" y="294" width="6" height="6" fill="#4dffaa"/>
<rect x="408" y="294" width="5" height="6" fill="#1fffd7"/>
<rect x="419" y="294" width="6" height="6" fill="#4dffaa"/>
<rect x="425" y="294" width="6" height="6" fill="#1fffd7"/>
<rect x="431" y="294" width="11" height="6" fill="#4dffaa"/>
<rect x="448" y="294" width="6" height="6" fill="#4dffaa"/>
<rect x="454" y="294" width="11" height="6" fill="#1fffd7"/>
<rect x="465" y="294" width="6" height="6" fill="#00e4f8"/>
<rect x="471" y="294" width="6" height="6" fill="#7dff7a"/>
<rect x="108" y="300" width="5" height="6" fill="#7dff7a"/>
<rect x="113" y="300" width="11" height="6" fill="#1fffd7"/>
<rect x="124" y="300" width="6" height="6" fill="#00e4f8"/>
<rect x="130" y="300" width="6" height="6" fill="#00b8ff"/>
<rect x="136" y="300" width="6" height="6" fill="#1fffd7"/>
<rect x="142" y="300" width="5" height="6" fill="#00e4f8"/>
<rect x="147" y="300" width="6" height="6" fill="#00b8ff"/>
<rect x="153" y="300" width="6" height="6" fill="#4dffaa"/>
<rect x="159" y="300" width="17" height="6" fill="#00e4f8"/>
<rect x="176" y="300" width="6" height="6" fill="#1fffd7"/>
<rect x="182" y="300" width="6" height="6" fill="#00b8ff"/>
<rect x="188" y="300" width="6" height="6" fill="#4dffaa"/>
<rect x="194" y="300" width="5" height="6" fill="#7dff7a"/>
<rect x="199" y="300" width="6" height="6" fill="#00b8ff"/>
<rect x="205" y="300" width="6" height="6" fill="#00e4f8"/>
<rect x="211" y="300" width="12" height="6" fill="#00b8ff"/>
<rect x="223" y="300" width="5" height="6" fill="#00e4f8"/>
<rect x="228" y="300" width="6" height="6" fill="#00b8ff"/>
<rect x="234" y="300" width="35" height="6" fill="#1fffd7"/>
<rect x="269" y="300" width="6" height="6" fill="#00e4f8"/>
<rect x="275" y="300" width="5" height="6" fill="#1fffd7"/>
<rect x="280" y="300" width="6" height="6" fill="#0080ff"/>
<rect x="286" y="300" width="6" height="6" fill="#1fffd7"/>
<rect x="292" y="300" width="6" height="6" fill="#0044ff"/>
<rect x="298" y="300" width="6" height="6" fill="#00b8ff"/>
<rect x="304" y="300" width="11" height="6" fill="#1fffd7"/>
<rect x="327" y="300" width="5" height="6" fill="#1fffd7"/>
<rect x="338" y="300" width="18" height="6" fill="#00e4f8"/>
<rect x="356" y="300" width="11" height="6" fill="#1fffd7"/>
<rect x="373" y="300" width="6" height="6" fill="#00b8ff"/>
<rect x="379" y="300" width="5" height="6" fill="#0044ff"/>
<rect x="390" y="300" width="6" height="6" fill="#4dffaa"/>
<rect x="396" y="300" width="6" height="6" fill="#1fffd7"/>
<rect x="402" y="300" width="17" height="6" fill="#00e4f8"/>
<rect x="419" y="300" width="12" height="6" fill="#1fffd7"/>
<rect x="431" y="300" width="6" height="6" fill="#00e4f8"/>
<rect x="437" y="300" width="5" height="6" fill="#1fffd7"/>
<rect x="442" y="300" width="6" height="6" fill="#4dffaa"/>
<rect x="448" y="300" width="12" height="6" fill="#1fffd7"/>
<rect x="460" y="300" width="5" height="6" fill="#4dffaa"/>
<rect x="465" y="300" width="6" height="6" fill="#1fffd7"/>
<rect x="471" y="300" width="6" height="6" fill="#4dffaa"/>
<rect x="108" y="306" width="5" height="5" fill="#7dff7a"/>
<rect x="113" y="306" width="6" height="5" fill="#00b8ff"/>
<rect x="119" y="306" width="11" height="5" fill="#1fffd7"/>
<rect x="130" y="306" width="17" height="5" fill="#4dffaa"/>
<rect x="147" y="306" width="12" height="5" fill="#1fffd7"/>
<rect x="159" y="306" width="12" height="5" fill="#00b8ff"/>
<rect x="171" y="306" width="5" height="5" fill="#0080ff"/>
<rect x="176" y="306" width="6" height="5" fill="#4dffaa"/>
<rect x="182" y="306" width="6" height="5" fill="#00b8ff"/>
<rect x="188" y="306" width="6" height="5" fill="#1fffd7"/>
<rect x="194" y="306" width="5" height="5" fill="#4dffaa"/>
<rect x="199" y="306" width="6" height="5" fill="#1fffd7"/>
<rect x="205" y="306" width="18" height="5" fill="#00b8ff"/>
<rect x="223" y="306" width="17" height="5" fill="#00e4f8"/>
<rect x="240" y="306" width="12" height="5" fill="#00b8ff"/>
<rect x="252" y="306" width="11" height="5" fill="#1fffd7"/>
<rect x="263" y="306" width="17" height="5" fill="#00e4f8"/>
<rect x="280" y="306" width="6" height="5" fill="#00b8ff"/>
<rect x="286" y="306" width="6" height="5" fill="#00e4f8"/>
<rect x="292" y="306" width="12" height="5" fill="#1fffd7"/>
<rect x="304" y="306" width="5" height="5" fill="#00e4f8"/>
<rect x="309" y="306" width="6" height="5" fill="#00b8ff"/>
<rect x="321" y="306" width="6" height="5" fill="#4dffaa"/>
<rect x="338" y="306" width="6" height="5" fill="#1fffd7"/>
<rect x="344" y="306" width="6" height="5" fill="#00e4f8"/>
<rect x="350" y="306" width="6" height="5" fill="#00b8ff"/>
<rect x="356" y="306" width="5" height="5" fill="#1fffd7"/>
<rect x="367" y="306" width="6" height="5" fill="#4dffaa"/>
<rect x="373" y="306" width="11" height="5" fill="#0080ff"/>
<rect x="384" y="306" width="12" height="5" fill="#4dffaa"/>
<rect x="396" y="306" width="6" height="5" fill="#1fffd7"/>
<rect x="402" y="306" width="6" height="5" fill="#00e4f8"/>
<rect x="408" y="306" width="17" height="5" fill="#1fffd7"/>
<rect x="425" y="306" width="6" height="5" fill="#00b8ff"/>
<rect x="431" y="306" width="6" height="5" fill="#00e4f8"/>
<rect x="437" y="306" width="5" height="5" fill="#00b8ff"/>
<rect x="442" y="306" width="18" height="5" fill="#1fffd7"/>
<rect x="460" y="306" width="5" height="5" fill="#4dffaa"/>
<rect x="465" y="306" width="6" height="5" fill="#1fffd7"/>
<rect x="471" y="306" width="6" height="5" fill="#4dffaa"/>
<rect x="108" y="311" width="5" height="6" fill="#ffd700"/>
<rect x="113" y="311" width="6" height="6" fill="#4dffaa"/>
<rect x="130" y="311" width="6" height="6" fill="#4dffaa"/>
<rect x="136" y="311" width="11" height="6" fill="#00b8ff"/>
<rect x="147" y="311" width="6" height="6" fill="#4dffaa"/>
<rect x="153" y="311" width="18" height="6" fill="#1fffd7"/>
<rect x="171" y="311" width="5" height="6" fill="#4dffaa"/>
<rect x="176" y="311" width="6" height="6" fill="#1fffd7"/>
<rect x="182" y="311" width="12" height="6" fill="#00b8ff"/>
<rect x="194" y="311" width="5" height="6" fill="#4dffaa"/>
<rect x="199" y="311" width="6" height="6" fill="#00e4f8"/>
<rect x="205" y="311" width="6" height="6" fill="#00b8ff"/>
<rect x="217" y="311" width="23" height="6" fill="#1fffd7"/>
<rect x="240" y="311" width="6" height="6" fill="#0080ff"/>
<rect x="246" y="311" width="6" height="6" fill="#00b8ff"/>
<rect x="252" y="311" width="11" height="6" fill="#00e4f8"/>
<rect x="263" y="311" width="12" height="6" fill="#00b8ff"/>
<rect x="275" y="311" width="5" height="6" fill="#1fffd7"/>
<rect x="280" y="311" width="6" height="6" fill="#00b8ff"/>
<rect x="286" y="311" width="6" height="6" fill="#0080ff"/>
<rect x="292" y="311" width="6" height="6" fill="#00b8ff"/>
<rect x="298" y="311" width="6" height="6" fill="#1fffd7"/>
<rect x="309" y="311" width="6" height="6" fill="#00b8ff"/>
<rect x="315" y="311" width="6" height="6" fill="#4dffaa"/>
<rect x="332" y="311" width="6" height="6" fill="#1fffd7"/>
<rect x="338" y="311" width="6" height="6" fill="#4dffaa"/>
<rect x="344" y="311" width="6" height="6" fill="#00e4f8"/>
<rect x="350" y="311" width="11" height="6" fill="#1fffd7"/>
<rect x="361" y="311" width="6" height="6" fill="#0080ff"/>
<rect x="367" y="311" width="6" height="6" fill="#0044ff"/>
<rect x="373" y="311" width="11" height="6" fill="#0000ff"/>
<rect x="384" y="311" width="6" height="6" fill="#1fffd7"/>
<rect x="390" y="311" width="6" height="6" fill="#00e4f8"/>
<rect x="402" y="311" width="6" height="6" fill="#4dffaa"/>
<rect x="408" y="311" width="5" height="6" fill="#00b8ff"/>
<rect x="413" y="311" width="6" height="6" fill="#1fffd7"/>
<rect x="425" y="311" width="6" height="6" fill="#4dffaa"/>
<rect x="431" y="311" width="17" height="6" fill="#1fffd7"/>
<rect x="448" y="311" width="6" height="6" fill="#00b8ff"/>
<rect x="454" y="311" width="6" height="6" fill="#4dffaa"/>
<rect x="460" y="311" width="11" height="6" fill="#1fffd7"/>
<rect x="471" y="311" width="6" height="6" fill="#7dff7a"/>
<rect x="108" y="317" width="5" height="6" fill="#7dff7a"/>
<rect x="113" y="317" width="11" height="6" fill="#1fffd7"/>
<rect x="124" y="317" width="6" height="6" fill="#00b8ff"/>
<rect x="130" y="317" width="6" height="6" fill="#1fffd7"/>
<rect x="136" y="317" width="6" height="6" fill="#00e4f8"/>
<rect x="142" y="317" width="5" height="6" fill="#4dffaa"/>
<rect x="147" y="317" width="6" height="6" fill="#00e4f8"/>
<rect x="153" y="317" width="6" height="6" fill="#00b8ff"/>
<rect x="159" y="317" width="12" height="6" fill="#1fffd7"/>
<rect x="171" y="317" width="5" height="6" fill="#00b8ff"/>
<rect x="176" y="317" width="18" height="6" fill="#1fffd7"/>
<rect x="194" y="317" width="5" height="6" fill="#7dff7a"/>
<rect x="199" y="317" width="6" height="6" fill="#00e4f8"/>
<rect x="205" y="317" width="12" height="6" fill="#1fffd7"/>
<rect x="217" y="317" width="11" height="6" fill="#00e4f8"/>
<rect x="228" y="317" width="6" height="6" fill="#1fffd7"/>
<rect x="234" y="317" width="6" height="6" fill="#00e4f8"/>
<rect x="240" y="317" width="6" height="6" fill="#0080ff"/>
<rect x="246" y="317" width="6" height="6" fill="#00b8ff"/>
<rect x="252" y="317" width="5" height="6" fill="#1fffd7"/>
<rect x="257" y="317" width="12" height="6" fill="#00e4f8"/>
<rect x="269" y="317" width="6" height="6" fill="#1fffd7"/>
<rect x="275" y="317" width="5" height="6" fill="#4dffaa"/>
<rect x="280" y="317" width="12" height="6" fill="#0080ff"/>
<rect x="292" y="317" width="6" height="6" fill="#1fffd7"/>
<rect x="298" y="317" width="6" height="6" fill="#00b8ff"/>
<rect x="304" y="317" width="5" height="6" fill="#4dffaa"/>
<rect x="309" y="317" width="6" height="6" fill="#00b8ff"/>
<rect x="315" y="317" width="6" height="6" fill="#4dffaa"/>
<rect x="321" y="317" width="6" height="6" fill="#00e4f8"/>
<rect x="338" y="317" width="6" height="6" fill="#0044ff"/>
<rect x="344" y="317" width="6" height="6" fill="#1fffd7"/>
<rect x="350" y="317" width="6" height="6" fill="#00b8ff"/>
<rect x="356" y="317" width="5" height="6" fill="#0044ff"/>
<rect x="361" y="317" width="6" height="6" fill="#00b8ff"/>
<rect x="367" y="317" width="6" height="6" fill="#0044ff"/>
<rect x="373" y="317" width="6" height="6" fill="#0080ff"/>
<rect x="379" y="317" width="5" height="6" fill="#00b8ff"/>
<rect x="384" y="317" width="6" height="6" fill="#4dffaa"/>
<rect x="390" y="317" width="6" height="6" fill="#1fffd7"/>
<rect x="396" y="317" width="6" height="6" fill="#00e4f8"/>
<rect x="402" y="317" width="17" height="6" fill="#1fffd7"/>
<rect x="425" y="317" width="12" height="6" fill="#1fffd7"/>
<rect x="437" y="317" width="5" height="6" fill="#00e4f8"/>
<rect x="442" y="317" width="6" height="6" fill="#4dffaa"/>
<rect x="448" y="317" width="6" height="6" fill="#1fffd7"/>
<rect x="454" y="317" width="6" height="6" fill="#4dffaa"/>
<rect x="460" y="317" width="11" height="6" fill="#1fffd7"/>
<rect x="471" y="317" width="6" height="6" fill="#7dff7a"/>
<rect x="108" y="323" width="5" height="6" fill="#e1ff16"/>
<rect x="113" y="323" width="6" height="6" fill="#4dffaa"/>
<rect x="119" y="323" width="5" height="6" fill="#1fffd7"/>
<rect x="124" y="323" width="6" height="6" fill="#00b8ff"/>
<rect x="130" y="323" width="6" height="6" fill="#0080ff"/>
<rect x="136" y="323" width="6" height="6" fill="#00e4f8"/>
<rect x="142" y="323" width="5" height="6" fill="#00b8ff"/>
<rect x="147" y="323" width="6" height="6" fill="#1fffd7"/>
<rect x="153" y="323" width="6" height="6" fill="#00b8ff"/>
<rect x="159" y="323" width="6" height="6" fill="#1fffd7"/>
<rect x="165" y="323" width="11" height="6" fill="#00e4f8"/>
<rect x="176" y="323" width="6" height="6" fill="#0080ff"/>
<rect x="182" y="323" width="6" height="6" fill="#1fffd7"/>
<rect x="188" y="323" width="6" height="6" fill="#adff49"/>
<rect x="199" y="323" width="12" height="6" fill="#1fffd7"/>
<rect x="211" y="323" width="6" height="6" fill="#00b8ff"/>
<rect x="217" y="323" width="6" height="6" fill="#00e4f8"/>
<rect x="223" y="323" width="5" height="6" fill="#1fffd7"/>
<rect x="228" y="323" width="6" height="6" fill="#4dffaa"/>
<rect x="234" y="323" width="18" height="6" fill="#00e4f8"/>
<rect x="252" y="323" width="5" height="6" fill="#4dffaa"/>
<rect x="257" y="323" width="12" height="6" fill="#00e4f8"/>
<rect x="269" y="323" width="6" height="6" fill="#1fffd7"/>
<rect x="275" y="323" width="11" height="6" fill="#0080ff"/>
<rect x="286" y="323" width="12" height="6" fill="#1fffd7"/>
<rect x="298" y="323" width="6" height="6" fill="#00e4f8"/>
<rect x="304" y="323" width="5" height="6" fill="#00b8ff"/>
<rect x="309" y="323" width="12" height="6" fill="#1fffd7"/>
<rect x="321" y="323" width="17" height="6" fill="#4dffaa"/>
<rect x="338" y="323" width="6" height="6" fill="#0080ff"/>
<rect x="344" y="323" width="6" height="6" fill="#0000ff"/>
<rect x="350" y="323" width="11" height="6" fill="#1fffd7"/>
<rect x="367" y="323" width="6" height="6" fill="#adff49"/>
<rect x="373" y="323" width="6" height="6" fill="#00b8ff"/>
<rect x="384" y="323" width="6" height="6" fill="#00b8ff"/>
<rect x="390" y="323" width="12" height="6" fill="#1fffd7"/>
<rect x="402" y="323" width="11" height="6" fill="#4dffaa"/>
<rect x="413" y="323" width="6" height="6" fill="#1fffd7"/>
<rect x="419" y="323" width="12" height="6" fill="#00b8ff"/>
<rect x="431" y="323" width="29" height="6" fill="#1fffd7"/>
<rect x="460" y="323" width="11" height="6" fill="#4dffaa"/>
<rect x="471" y="323" width="6" height="6" fill="#1fffd7"/>
<rect x="108" y="329" width="5" height="6" fill="#e1ff16"/>
<rect x="113" y="329" width="6" height="6" fill="#00e4f8"/>
<rect x="119" y="329" width="5" height="6" fill="#4dffaa"/>
<rect x="124" y="329" width="6" height="6" fill="#7dff7a"/>
<rect x="130" y="329" width="29" height="6" fill="#1fffd7"/>
<rect x="159" y="329" width="12" height="6" fill="#4dffaa"/>
<rect x="171" y="329" width="5" height="6" fill="#00b8ff"/>
<rect x="176" y="329" width="6" height="6" fill="#1fffd7"/>
<rect x="182" y="329" width="6" height="6" fill="#4dffaa"/>
<rect x="188" y="329" width="6" height="6" fill="#1fffd7"/>
<rect x="199" y="329" width="6" height="6" fill="#00b8ff"/>
<rect x="211" y="329" width="6" height="6" fill="#1fffd7"/>
<rect x="223" y="329" width="5" height="6" fill="#00b8ff"/>
<rect x="228" y="329" width="6" height="6" fill="#4dffaa"/>
<rect x="240" y="329" width="29" height="6" fill="#00e4f8"/>
<rect x="269" y="329" width="6" height="6" fill="#0080ff"/>
<rect x="275" y="329" width="5" height="6" fill="#0000ff"/>
<rect x="280" y="329" width="6" height="6" fill="#00b8ff"/>
<rect x="286" y="329" width="6" height="6" fill="#00e4f8"/>
<rect x="292" y="329" width="6" height="6" fill="#1fffd7"/>
<rect x="304" y="329" width="5" height="6" fill="#4dffaa"/>
<rect x="327" y="329" width="5" height="6" fill="#00b8ff"/>
<rect x="332" y="329" width="6" height="6" fill="#00e4f8"/>
<rect x="338" y="329" width="6" height="6" fill="#1fffd7"/>
<rect x="344" y="329" width="6" height="6" fill="#0044ff"/>
<rect x="361" y="329" width="6" height="6" fill="#0080ff"/>
<rect x="367" y="329" width="6" height="6" fill="#1fffd7"/>
<rect x="373" y="329" width="6" height="6" fill="#00e4f8"/>
<rect x="379" y="329" width="5" height="6" fill="#4dffaa"/>
<rect x="384" y="329" width="12" height="6" fill="#1fffd7"/>
<rect x="396" y="329" width="6" height="6" fill="#4dffaa"/>
<rect x="413" y="329" width="6" height="6" fill="#4dffaa"/>
<rect x="419" y="329" width="12" height="6" fill="#1fffd7"/>
<rect x="431" y="329" width="6" height="6" fill="#00e4f8"/>
<rect x="437" y="329" width="11" height="6" fill="#4dffaa"/>
<rect x="454" y="329" width="6" height="6" fill="#4dffaa"/>
<rect x="460" y="329" width="11" height="6" fill="#1fffd7"/>
<rect x="471" y="329" width="6" height="6" fill="#4dffaa"/>
<rect x="108" y="335" width="5" height="5" fill="#7dff7a"/>
<rect x="113" y="335" width="6" height="5" fill="#0080ff"/>
<rect x="119" y="335" width="5" height="5" fill="#0044ff"/>
<rect x="124" y="335" width="6" height="5" fill="#0000cd"/>
<rect x="130" y="335" width="12" height="5" fill="#0000ff"/>
<rect x="142" y="335" width="5" height="5" fill="#7dff7a"/>
<rect x="147" y="335" width="18" height="5" fill="#00e4f8"/>
<rect x="165" y="335" width="6" height="5" fill="#4dffaa"/>
<rect x="171" y="335" width="17" height="5" fill="#1fffd7"/>
<rect x="194" y="335" width="5" height="5" fill="#0080ff"/>
<rect x="199" y="335" width="6" height="5" fill="#1fffd7"/>
<rect x="205" y="335" width="6" height="5" fill="#00b8ff"/>
<rect x="211" y="335" width="12" height="5" fill="#4dffaa"/>
<rect x="223" y="335" width="5" height="5" fill="#00e4f8"/>
<rect x="228" y="335" width="6" height="5" fill="#4dffaa"/>
<rect x="234" y="335" width="6" height="5" fill="#00e4f8"/>
<rect x="240" y="335" width="6" height="5" fill="#1fffd7"/>
<rect x="246" y="335" width="11" height="5" fill="#00e4f8"/>
<rect x="257" y="335" width="6" height="5" fill="#4dffaa"/>
<rect x="263" y="335" width="6" height="5" fill="#00b8ff"/>
<rect x="269" y="335" width="6" height="5" fill="#0080ff"/>
<rect x="275" y="335" width="23" height="5" fill="#1fffd7"/>
<rect x="298" y="335" width="6" height="5" fill="#00e4f8"/>
<rect x="304" y="335" width="5" height="5" fill="#1fffd7"/>
<rect x="309" y="335" width="6" height="5" fill="#00e4f8"/>
<rect x="321" y="335" width="6" height="5" fill="#1fffd7"/>
<rect x="327" y="335" width="11" height="5" fill="#00e4f8"/>
<rect x="338" y="335" width="6" height="5" fill="#7dff7a"/>
<rect x="344" y="335" width="12" height="5" fill="#00b8ff"/>
<rect x="356" y="335" width="5" height="5" fill="#00e4f8"/>
<rect x="361" y="335" width="6" height="5" fill="#1fffd7"/>
<rect x="367" y="335" width="6" height="5" fill="#00b8ff"/>
<rect x="373" y="335" width="6" height="5" fill="#00e4f8"/>
<rect x="379" y="335" width="11" height="5" fill="#4dffaa"/>
<rect x="390" y="335" width="6" height="5" fill="#00e4f8"/>
<rect x="396" y="335" width="6" height="5" fill="#0080ff"/>
<rect x="402" y="335" width="11" height="5" fill="#00b8ff"/>
<rect x="413" y="335" width="6" height="5" fill="#00e4f8"/>
<rect x="419" y="335" width="12" height="5" fill="#00b8ff"/>
<rect x="431" y="335" width="11" height="5" fill="#1fffd7"/>
<rect x="442" y="335" width="6" height="5" fill="#4dffaa"/>
<rect x="448" y="335" width="6" height="5" fill="#ffd700"/>
<rect x="454" y="335" width="6" height="5" fill="#4dffaa"/>
<rect x="460" y="335" width="5" height="5" fill="#00e4f8"/>
<rect x="471" y="335" width="6" height="5" fill="#adff49"/>
<rect x="108" y="340" width="5" height="6" fill="#0044ff"/>
<rect x="113" y="340" width="6" height="6" fill="#0080ff"/>
<rect x="119" y="340" width="5" height="6" fill="#0044ff"/>
<rect x="124" y="340" width="6" height="6" fill="#0080ff"/>
<rect x="130" y="340" width="6" height="6" fill="#0044ff"/>
<rect x="136" y="340" width="6" height="6" fill="#00b8ff"/>
<rect x="147" y="340" width="41" height="6" fill="#1fffd7"/>
<rect x="188" y="340" width="6" height="6" fill="#7dff7a"/>
<rect x="194" y="340" width="11" height="6" fill="#1fffd7"/>
<rect x="205" y="340" width="12" height="6" fill="#00b8ff"/>
<rect x="217" y="340" width="6" height="6" fill="#1fffd7"/>
<rect x="223" y="340" width="5" height="6" fill="#0080ff"/>
<rect x="228" y="340" width="6" height="6" fill="#1fffd7"/>
<rect x="240" y="340" width="12" height="6" fill="#1fffd7"/>
<rect x="252" y="340" width="5" height="6" fill="#00e4f8"/>
<rect x="257" y="340" width="12" height="6" fill="#1fffd7"/>
<rect x="269" y="340" width="6" height="6" fill="#00e4f8"/>
<rect x="275" y="340" width="5" height="6" fill="#1fffd7"/>
<rect x="286" y="340" width="12" height="6" fill="#1fffd7"/>
<rect x="298" y="340" width="6" height="6" fill="#0080ff"/>
<rect x="304" y="340" width="5" height="6" fill="#4dffaa"/>
<rect x="315" y="340" width="6" height="6" fill="#adff49"/>
<rect x="338" y="340" width="12" height="6" fill="#4dffaa"/>
<rect x="350" y="340" width="6" height="6" fill="#00e4f8"/>
<rect x="356" y="340" width="11" height="6" fill="#1fffd7"/>
<rect x="367" y="340" width="6" height="6" fill="#4dffaa"/>
<rect x="373" y="340" width="11" height="6" fill="#1fffd7"/>
<rect x="390" y="340" width="6" height="6" fill="#0080ff"/>
<rect x="396" y="340" width="6" height="6" fill="#0000ff"/>
<rect x="402" y="340" width="17" height="6" fill="#0044ff"/>
<rect x="419" y="340" width="6" height="6" fill="#0080ff"/>
<rect x="425" y="340" width="6" height="6" fill="#1fffd7"/>
<rect x="431" y="340" width="6" height="6" fill="#4dffaa"/>
<rect x="437" y="340" width="5" height="6" fill="#1fffd7"/>
<rect x="442" y="340" width="6" height="6" fill="#00b8ff"/>
<rect x="448" y="340" width="6" height="6" fill="#7dff7a"/>
<rect x="454" y="340" width="6" height="6" fill="#1fffd7"/>
<rect x="460" y="340" width="5" height="6" fill="#0080ff"/>
<rect x="465" y="340" width="12" height="6" fill="#00b8ff"/>
<rect x="108" y="346" width="5" height="6" fill="#00e4f8"/>
<rect x="113" y="346" width="6" height="6" fill="#0080ff"/>
<rect x="119" y="346" width="5" height="6" fill="#0044ff"/>
<rect x="124" y="346" width="12" height="6" fill="#0080ff"/>
<rect x="136" y="346" width="11" height="6" fill="#4dffaa"/>
<rect x="147" y="346" width="6" height="6" fill="#00e4f8"/>
<rect x="153" y="346" width="6" height="6" fill="#00b8ff"/>
<rect x="159" y="346" width="6" height="6" fill="#1fffd7"/>
<rect x="165" y="346" width="6" height="6" fill="#00b8ff"/>
<rect x="171" y="346" width="23" height="6" fill="#1fffd7"/>
<rect x="194" y="346" width="5" height="6" fill="#4dffaa"/>
<rect x="199" y="346" width="6" height="6" fill="#7dff7a"/>
<rect x="205" y="346" width="6" height="6" fill="#00b8ff"/>
<rect x="211" y="346" width="6" height="6" fill="#00e4f8"/>
<rect x="217" y="346" width="11" height="6" fill="#1fffd7"/>
<rect x="234" y="346" width="6" height="6" fill="#00e4f8"/>
<rect x="240" y="346" width="6" height="6" fill="#1fffd7"/>
<rect x="252" y="346" width="5" height="6" fill="#1fffd7"/>
<rect x="257" y="346" width="6" height="6" fill="#00b8ff"/>
<rect x="263" y="346" width="12" height="6" fill="#1fffd7"/>
<rect x="275" y="346" width="11" height="6" fill="#00e4f8"/>
<rect x="286" y="346" width="6" height="6" fill="#1fffd7"/>
<rect x="292" y="346" width="6" height="6" fill="#00b8ff"/>
<rect x="304" y="346" width="11" height="6" fill="#1fffd7"/>
<rect x="332" y="346" width="6" height="6" fill="#00b8ff"/>
<rect x="338" y="346" width="6" height="6" fill="#4dffaa"/>
<rect x="344" y="346" width="6" height="6" fill="#1fffd7"/>
<rect x="350" y="346" width="6" height="6" fill="#00e4f8"/>
<rect x="356" y="346" width="34" height="6" fill="#1fffd7"/>
<rect x="390" y="346" width="12" height="6" fill="#0044ff"/>
<rect x="402" y="346" width="6" height="6" fill="#0000ff"/>
<rect x="408" y="346" width="5" height="6" fill="#7dff7a"/>
<rect x="413" y="346" width="6" height="6" fill="#4dffaa"/>
<rect x="419" y="346" width="6" height="6" fill="#00e4f8"/>
<rect x="425" y="346" width="12" height="6" fill="#4dffaa"/>
<rect x="437" y="346" width="5" height="6" fill="#1fffd7"/>
<rect x="442" y="346" width="6" height="6" fill="#00e4f8"/>
<rect x="448" y="346" width="6" height="6" fill="#00b8ff"/>
<rect x="454" y="346" width="6" height="6" fill="#1fffd7"/>
<rect x="460" y="346" width="5" height="6" fill="#00e4f8"/>
<rect x="465" y="346" width="6" height="6" fill="#0080ff"/>
<rect x="471" y="346" width="6" height="6" fill="#7dff7a"/>
<rect x="113" y="352" width="6" height="6" fill="#0080ff"/>
<rect x="119" y="352" width="11" height="6" fill="#0044ff"/>
<rect x="130" y="352" width="6" height="6" fill="#4dffaa"/>
<rect x="136" y="352" width="11" height="6" fill="#1fffd7"/>
<rect x="147" y="352" width="6" height="6" fill="#00b8ff"/>
<rect x="153" y="352" width="23" height="6" fill="#1fffd7"/>
<rect x="176" y="352" width="6" height="6" fill="#00e4f8"/>
<rect x="182" y="352" width="6" height="6" fill="#1fffd7"/>
<rect x="188" y="352" width="6" height="6" fill="#00e4f8"/>
<rect x="194" y="352" width="5" height="6" fill="#4dffaa"/>
<rect x="199" y="352" width="6" height="6" fill="#1fffd7"/>
<rect x="205" y="352" width="12" height="6" fill="#00b8ff"/>
<rect x="223" y="352" width="5" height="6" fill="#00e4f8"/>
<rect x="228" y="352" width="6" height="6" fill="#1fffd7"/>
<rect x="234" y="352" width="6" height="6" fill="#00e4f8"/>
<rect x="240" y="352" width="6" height="6" fill="#0080ff"/>
<rect x="246" y="352" width="6" height="6" fill="#1fffd7"/>
<rect x="257" y="352" width="6" height="6" fill="#1fffd7"/>
<rect x="263" y="352" width="6" height="6" fill="#00e4f8"/>
<rect x="269" y="352" width="29" height="6" fill="#1fffd7"/>
<rect x="298" y="352" width="6" height="6" fill="#00b8ff"/>
<rect x="309" y="352" width="6" height="6" fill="#00e4f8"/>
<rect x="315" y="352" width="6" height="6" fill="#1fffd7"/>
<rect x="327" y="352" width="5" height="6" fill="#1fffd7"/>
<rect x="332" y="352" width="6" height="6" fill="#00e4f8"/>
<rect x="338" y="352" width="23" height="6" fill="#1fffd7"/>
<rect x="361" y="352" width="6" height="6" fill="#00e4f8"/>
<rect x="367" y="352" width="12" height="6" fill="#1fffd7"/>
<rect x="379" y="352" width="5" height="6" fill="#4dffaa"/>
<rect x="384" y="352" width="6" height="6" fill="#1fffd7"/>
<rect x="390" y="352" width="6" height="6" fill="#0044ff"/>
<rect x="402" y="352" width="6" height="6" fill="#7dff7a"/>
<rect x="408" y="352" width="5" height="6" fill="#adff49"/>
<rect x="413" y="352" width="6" height="6" fill="#4dffaa"/>
<rect x="419" y="352" width="18" height="6" fill="#1fffd7"/>
<rect x="437" y="352" width="5" height="6" fill="#00e4f8"/>
<rect x="442" y="352" width="6" height="6" fill="#1fffd7"/>
<rect x="448" y="352" width="6" height="6" fill="#00e4f8"/>
<rect x="454" y="352" width="6" height="6" fill="#4dffaa"/>
<rect x="460" y="352" width="5" height="6" fill="#00b8ff"/>
<rect x="465" y="352" width="6" height="6" fill="#0044ff"/>
<rect x="471" y="352" width="6" height="6" fill="#1fffd7"/>
<rect x="108" y="358" width="5" height="5" fill="#4dffaa"/>
<rect x="113" y="358" width="6" height="5" fill="#0044ff"/>
<rect x="119" y="358" width="5" height="5" fill="#00b8ff"/>
<rect x="124" y="358" width="6" height="5" fill="#7dff7a"/>
<rect x="130" y="358" width="6" height="5" fill="#1fffd7"/>
<rect x="136" y="358" width="11" height="5" fill="#4dffaa"/>
<rect x="147" y="358" width="6" height="5" fill="#00b8ff"/>
<rect x="153" y="358" width="12" height="5" fill="#1fffd7"/>
<rect x="165" y="358" width="11" height="5" fill="#00e4f8"/>
<rect x="176" y="358" width="6" height="5" fill="#1fffd7"/>
<rect x="182" y="358" width="6" height="5" fill="#7dff7a"/>
<rect x="188" y="358" width="6" height="5" fill="#00b8ff"/>
<rect x="194" y="358" width="5" height="5" fill="#4dffaa"/>
<rect x="199" y="358" width="6" height="5" fill="#00e4f8"/>
<rect x="205" y="358" width="12" height="5" fill="#00b8ff"/>
<rect x="223" y="358" width="17" height="5" fill="#1fffd7"/>
<rect x="240" y="358" width="6" height="5" fill="#0080ff"/>
<rect x="246" y="358" width="6" height="5" fill="#1fffd7"/>
<rect x="257" y="358" width="6" height="5" fill="#00b8ff"/>
<rect x="263" y="358" width="12" height="5" fill="#1fffd7"/>
<rect x="275" y="358" width="5" height="5" fill="#0080ff"/>
<rect x="280" y="358" width="6" height="5" fill="#00b8ff"/>
<rect x="286" y="358" width="12" height="5" fill="#4dffaa"/>
<rect x="298" y="358" width="6" height="5" fill="#00b8ff"/>
<rect x="304" y="358" width="11" height="5" fill="#1fffd7"/>
<rect x="315" y="358" width="6" height="5" fill="#00e4f8"/>
<rect x="321" y="358" width="6" height="5" fill="#1fffd7"/>
<rect x="327" y="358" width="11" height="5" fill="#00e4f8"/>
<rect x="338" y="358" width="6" height="5" fill="#4dffaa"/>
<rect x="344" y="358" width="12" height="5" fill="#1fffd7"/>
<rect x="356" y="358" width="5" height="5" fill="#00e4f8"/>
<rect x="361" y="358" width="6" height="5" fill="#4dffaa"/>
<rect x="367" y="358" width="12" height="5" fill="#1fffd7"/>
<rect x="379" y="358" width="5" height="5" fill="#7dff7a"/>
<rect x="384" y="358" width="6" height="5" fill="#0080ff"/>
<rect x="390" y="358" width="6" height="5" fill="#0000ff"/>
<rect x="396" y="358" width="6" height="5" fill="#adff49"/>
<rect x="402" y="358" width="11" height="5" fill="#4dffaa"/>
<rect x="413" y="358" width="12" height="5" fill="#1fffd7"/>
<rect x="425" y="358" width="6" height="5" fill="#00b8ff"/>
<rect x="431" y="358" width="6" height="5" fill="#4dffaa"/>
<rect x="437" y="358" width="11" height="5" fill="#1fffd7"/>
<rect x="448" y="358" width="6" height="5" fill="#00e4f8"/>
<rect x="454" y="358" width="6" height="5" fill="#1fffd7"/>
<rect x="460" y="358" width="5" height="5" fill="#4dffaa"/>
<rect x="465" y="358" width="6" height="5" fill="#0080ff"/>
<rect x="471" y="358" width="6" height="5" fill="#4dffaa"/>
<rect x="108" y="363" width="5" height="6" fill="#7dff7a"/>
<rect x="113" y="363" width="6" height="6" fill="#0044ff"/>
<rect x="119" y="363" width="11" height="6" fill="#1fffd7"/>
<rect x="130" y="363" width="6" height="6" fill="#00e4f8"/>
<rect x="136" y="363" width="11" height="6" fill="#1fffd7"/>
<rect x="147" y="363" width="18" height="6" fill="#00e4f8"/>
<rect x="165" y="363" width="17" height="6" fill="#1fffd7"/>
<rect x="182" y="363" width="6" height="6" fill="#00b8ff"/>
<rect x="188" y="363" width="11" height="6" fill="#0044ff"/>
<rect x="199" y="363" width="6" height="6" fill="#4dffaa"/>
<rect x="205" y="363" width="6" height="6" fill="#1fffd7"/>
<rect x="211" y="363" width="6" height="6" fill="#0080ff"/>
<rect x="217" y="363" width="11" height="6" fill="#00b8ff"/>
<rect x="228" y="363" width="6" height="6" fill="#1fffd7"/>
<rect x="240" y="363" width="6" height="6" fill="#00e4f8"/>
<rect x="257" y="363" width="6" height="6" fill="#1fffd7"/>
<rect x="263" y="363" width="6" height="6" fill="#00e4f8"/>
<rect x="269" y="363" width="6" height="6" fill="#1fffd7"/>
<rect x="275" y="363" width="5" height="6" fill="#0080ff"/>
<rect x="280" y="363" width="6" height="6" fill="#00e4f8"/>
<rect x="286" y="363" width="6" height="6" fill="#1fffd7"/>
<rect x="292" y="363" width="6" height="6" fill="#7dff7a"/>
<rect x="298" y="363" width="6" height="6" fill="#0044ff"/>
<rect x="304" y="363" width="17" height="6" fill="#1fffd7"/>
<rect x="321" y="363" width="6" height="6" fill="#00b8ff"/>
<rect x="327" y="363" width="5" height="6" fill="#1fffd7"/>
<rect x="332" y="363" width="12" height="6" fill="#00e4f8"/>
<rect x="344" y="363" width="23" height="6" fill="#1fffd7"/>
<rect x="367" y="363" width="6" height="6" fill="#0080ff"/>
<rect x="373" y="363" width="6" height="6" fill="#00e4f8"/>
<rect x="379" y="363" width="5" height="6" fill="#7dff7a"/>
<rect x="384" y="363" width="6" height="6" fill="#0044ff"/>
<rect x="390" y="363" width="6" height="6" fill="#0000ff"/>
<rect x="396" y="363" width="6" height="6" fill="#adff49"/>
<rect x="402" y="363" width="11" height="6" fill="#4dffaa"/>
<rect x="413" y="363" width="12" height="6" fill="#1fffd7"/>
<rect x="425" y="363" width="6" height="6" fill="#4dffaa"/>
<rect x="431" y="363" width="11" height="6" fill="#1fffd7"/>
<rect x="442" y="363" width="6" height="6" fill="#00b8ff"/>
<rect x="448" y="363" width="6" height="6" fill="#1fffd7"/>
<rect x="454" y="363" width="6" height="6" fill="#7dff7a"/>
<rect x="460" y="363" width="5" height="6" fill="#0044ff"/>
<rect x="465" y="363" width="6" height="6" fill="#0000ff"/>
<rect x="471" y="363" width="6" height="6" fill="#1fffd7"/>
<rect x="108" y="369" width="5" height="6" fill="#7dff7a"/>
<rect x="113" y="369" width="6" height="6" fill="#0044ff"/>
<rect x="119" y="369" width="17" height="6" fill="#1fffd7"/>
<rect x="136" y="369" width="6" height="6" fill="#00e4f8"/>
<rect x="142" y="369" width="5" height="6" fill="#1fffd7"/>
<rect x="147" y="369" width="6" height="6" fill="#4dffaa"/>
<rect x="153" y="369" width="6" height="6" fill="#00e4f8"/>
<rect x="159" y="369" width="6" height="6" fill="#4dffaa"/>
<rect x="165" y="369" width="6" height="6" fill="#1fffd7"/>
<rect x="171" y="369" width="5" height="6" fill="#4dffaa"/>
<rect x="176" y="369" width="6" height="6" fill="#1fffd7"/>
<rect x="182" y="369" width="6" height="6" fill="#00b8ff"/>
<rect x="188" y="369" width="6" height="6" fill="#0080ff"/>
<rect x="194" y="369" width="5" height="6" fill="#0000ff"/>
<rect x="199" y="369" width="6" height="6" fill="#4dffaa"/>
<rect x="205" y="369" width="6" height="6" fill="#00b8ff"/>
<rect x="217" y="369" width="6" height="6" fill="#00e4f8"/>
<rect x="223" y="369" width="5" height="6" fill="#1fffd7"/>
<rect x="228" y="369" width="6" height="6" fill="#00e4f8"/>
<rect x="240" y="369" width="6" height="6" fill="#00e4f8"/>
<rect x="252" y="369" width="11" height="6" fill="#4dffaa"/>
<rect x="269" y="369" width="23" height="6" fill="#1fffd7"/>
<rect x="292" y="369" width="6" height="6" fill="#7dff7a"/>
<rect x="304" y="369" width="5" height="6" fill="#7dff7a"/>
<rect x="309" y="369" width="18" height="6" fill="#1fffd7"/>
<rect x="327" y="369" width="5" height="6" fill="#00e4f8"/>
<rect x="332" y="369" width="6" height="6" fill="#00b8ff"/>
<rect x="338" y="369" width="6" height="6" fill="#4dffaa"/>
<rect x="344" y="369" width="6" height="6" fill="#00e4f8"/>
<rect x="350" y="369" width="6" height="6" fill="#1fffd7"/>
<rect x="356" y="369" width="5" height="6" fill="#4dffaa"/>
<rect x="361" y="369" width="6" height="6" fill="#7dff7a"/>
<rect x="367" y="369" width="6" height="6" fill="#0044ff"/>
<rect x="373" y="369" width="6" height="6" fill="#4dffaa"/>
<rect x="379" y="369" width="5" height="6" fill="#1fffd7"/>
<rect x="384" y="369" width="6" height="6" fill="#0000ff"/>
<rect x="390" y="369" width="6" height="6" fill="#0080ff"/>
<rect x="396" y="369" width="6" height="6" fill="#7dff7a"/>
<rect x="402" y="369" width="17" height="6" fill="#4dffaa"/>
<rect x="419" y="369" width="6" height="6" fill="#1fffd7"/>
<rect x="425" y="369" width="6" height="6" fill="#00e4f8"/>
<rect x="431" y="369" width="6" height="6" fill="#1fffd7"/>
<rect x="437" y="369" width="5" height="6" fill="#00b8ff"/>
<rect x="442" y="369" width="6" height="6" fill="#4dffaa"/>
<rect x="448" y="369" width="12" height="6" fill="#7dff7a"/>
<rect x="460" y="369" width="17" height="6" fill="#0044ff"/>
<rect x="108" y="375" width="5" height="6" fill="#ffd700"/>
<rect x="113" y="375" width="6" height="6" fill="#0080ff"/>
<rect x="119" y="375" width="11" height="6" fill="#1fffd7"/>
<rect x="130" y="375" width="6" height="6" fill="#00b8ff"/>
<rect x="136" y="375" width="6" height="6" fill="#4dffaa"/>
<rect x="142" y="375" width="5" height="6" fill="#1fffd7"/>
<rect x="147" y="375" width="6" height="6" fill="#00b8ff"/>
<rect x="153" y="375" width="23" height="6" fill="#1fffd7"/>
<rect x="176" y="375" width="6" height="6" fill="#4dffaa"/>
<rect x="182" y="375" width="17" height="6" fill="#0044ff"/>
<rect x="199" y="375" width="12" height="6" fill="#4dffaa"/>
<rect x="217" y="375" width="6" height="6" fill="#00b8ff"/>
<rect x="223" y="375" width="5" height="6" fill="#1fffd7"/>
<rect x="240" y="375" width="6" height="6" fill="#00b8ff"/>
<rect x="246" y="375" width="6" height="6" fill="#4dffaa"/>
<rect x="263" y="375" width="17" height="6" fill="#1fffd7"/>
<rect x="280" y="375" width="6" height="6" fill="#00e4f8"/>
<rect x="286" y="375" width="6" height="6" fill="#1fffd7"/>
<rect x="292" y="375" width="6" height="6" fill="#4dffaa"/>
<rect x="298" y="375" width="6" height="6" fill="#0044ff"/>
<rect x="304" y="375" width="5" height="6" fill="#4dffaa"/>
<rect x="309" y="375" width="6" height="6" fill="#1fffd7"/>
<rect x="315" y="375" width="6" height="6" fill="#00e4f8"/>
<rect x="321" y="375" width="6" height="6" fill="#1fffd7"/>
<rect x="327" y="375" width="5" height="6" fill="#00b8ff"/>
<rect x="332" y="375" width="12" height="6" fill="#1fffd7"/>
<rect x="344" y="375" width="6" height="6" fill="#4dffaa"/>
<rect x="350" y="375" width="6" height="6" fill="#1fffd7"/>
<rect x="356" y="375" width="5" height="6" fill="#4dffaa"/>
<rect x="361" y="375" width="6" height="6" fill="#7dff7a"/>
<rect x="367" y="375" width="6" height="6" fill="#0000ff"/>
<rect x="373" y="375" width="6" height="6" fill="#0044ff"/>
<rect x="379" y="375" width="5" height="6" fill="#4dffaa"/>
<rect x="384" y="375" width="6" height="6" fill="#0000ff"/>
<rect x="390" y="375" width="6" height="6" fill="#00b8ff"/>
<rect x="396" y="375" width="6" height="6" fill="#00e4f8"/>
<rect x="402" y="375" width="6" height="6" fill="#4dffaa"/>
<rect x="408" y="375" width="5" height="6" fill="#00b8ff"/>
<rect x="413" y="375" width="24" height="6" fill="#1fffd7"/>
<rect x="437" y="375" width="5" height="6" fill="#00b8ff"/>
<rect x="442" y="375" width="6" height="6" fill="#1fffd7"/>
<rect x="448" y="375" width="12" height="6" fill="#4dffaa"/>
<rect x="460" y="375" width="11" height="6" fill="#0044ff"/>
<rect x="471" y="375" width="6" height="6" fill="#4dffaa"/>
<rect x="108" y="381" width="5" height="6" fill="#7dff7a"/>
<rect x="113" y="381" width="6" height="6" fill="#00b8ff"/>
<rect x="119" y="381" width="5" height="6" fill="#00e4f8"/>
<rect x="124" y="381" width="6" height="6" fill="#00b8ff"/>
<rect x="130" y="381" width="12" height="6" fill="#1fffd7"/>
<rect x="142" y="381" width="11" height="6" fill="#00b8ff"/>
<rect x="153" y="381" width="6" height="6" fill="#00e4f8"/>
<rect x="159" y="381" width="6" height="6" fill="#4dffaa"/>
<rect x="165" y="381" width="17" height="6" fill="#1fffd7"/>
<rect x="188" y="381" width="6" height="6" fill="#00b8ff"/>
<rect x="194" y="381" width="5" height="6" fill="#0080ff"/>
<rect x="199" y="381" width="6" height="6" fill="#00e4f8"/>
<rect x="205" y="381" width="6" height="6" fill="#0080ff"/>
<rect x="211" y="381" width="29" height="6" fill="#1fffd7"/>
<rect x="240" y="381" width="6" height="6" fill="#00b8ff"/>
<rect x="246" y="381" width="11" height="6" fill="#4dffaa"/>
<rect x="269" y="381" width="6" height="6" fill="#4dffaa"/>
<rect x="275" y="381" width="5" height="6" fill="#00b8ff"/>
<rect x="280" y="381" width="6" height="6" fill="#00e4f8"/>
<rect x="286" y="381" width="6" height="6" fill="#00b8ff"/>
<rect x="292" y="381" width="6" height="6" fill="#7dff7a"/>
<rect x="298" y="381" width="6" height="6" fill="#00b8ff"/>
<rect x="304" y="381" width="11" height="6" fill="#4dffaa"/>
<rect x="315" y="381" width="23" height="6" fill="#1fffd7"/>
<rect x="338" y="381" width="6" height="6" fill="#00e4f8"/>
<rect x="344" y="381" width="6" height="6" fill="#4dffaa"/>
<rect x="350" y="381" width="6" height="6" fill="#1fffd7"/>
<rect x="356" y="381" width="5" height="6" fill="#00e4f8"/>
<rect x="361" y="381" width="6" height="6" fill="#4dffaa"/>
<rect x="367" y="381" width="12" height="6" fill="#0044ff"/>
<rect x="379" y="381" width="5" height="6" fill="#4dffaa"/>
<rect x="384" y="381" width="6" height="6" fill="#0000ff"/>
<rect x="390" y="381" width="6" height="6" fill="#7dff7a"/>
<rect x="396" y="381" width="6" height="6" fill="#0044ff"/>
<rect x="402" y="381" width="23" height="6" fill="#1fffd7"/>
<rect x="425" y="381" width="6" height="6" fill="#00e4f8"/>
<rect x="431" y="381" width="6" height="6" fill="#00b8ff"/>
<rect x="437" y="381" width="23" height="6" fill="#1fffd7"/>
<rect x="460" y="381" width="5" height="6" fill="#00b8ff"/>
<rect x="465" y="381" width="6" height="6" fill="#0080ff"/>
<rect x="471" y="381" width="6" height="6" fill="#1fffd7"/>
<rect x="108" y="387" width="5" height="5" fill="#7dff7a"/>
<rect x="113" y="387" width="6" height="5" fill="#00e4f8"/>
<rect x="119" y="387" width="11" height="5" fill="#1fffd7"/>
<rect x="130" y="387" width="12" height="5" fill="#4dffaa"/>
<rect x="142" y="387" width="5" height="5" fill="#1fffd7"/>
<rect x="147" y="387" width="6" height="5" fill="#00b8ff"/>
<rect x="153" y="387" width="6" height="5" fill="#1fffd7"/>
<rect x="159" y="387" width="12" height="5" fill="#4dffaa"/>
<rect x="171" y="387" width="5" height="5" fill="#1fffd7"/>
<rect x="176" y="387" width="6" height="5" fill="#0044ff"/>
<rect x="182" y="387" width="6" height="5" fill="#7dff7a"/>
<rect x="188" y="387" width="6" height="5" fill="#0044ff"/>
<rect x="194" y="387" width="5" height="5" fill="#0080ff"/>
<rect x="199" y="387" width="6" height="5" fill="#4dffaa"/>
<rect x="205" y="387" width="6" height="5" fill="#00b8ff"/>
<rect x="211" y="387" width="12" height="5" fill="#1fffd7"/>
<rect x="223" y="387" width="5" height="5" fill="#00e4f8"/>
<rect x="228" y="387" width="12" height="5" fill="#1fffd7"/>
<rect x="240" y="387" width="6" height="5" fill="#00e4f8"/>
<rect x="257" y="387" width="6" height="5" fill="#4dffaa"/>
<rect x="269" y="387" width="6" height="5" fill="#00b8ff"/>
<rect x="275" y="387" width="17" height="5" fill="#4dffaa"/>
<rect x="292" y="387" width="6" height="5" fill="#7dff7a"/>
<rect x="298" y="387" width="6" height="5" fill="#0080ff"/>
<rect x="304" y="387" width="11" height="5" fill="#1fffd7"/>
<rect x="315" y="387" width="6" height="5" fill="#00b8ff"/>
<rect x="321" y="387" width="11" height="5" fill="#1fffd7"/>
<rect x="332" y="387" width="6" height="5" fill="#00e4f8"/>
<rect x="338" y="387" width="6" height="5" fill="#4dffaa"/>
<rect x="344" y="387" width="12" height="5" fill="#1fffd7"/>
<rect x="356" y="387" width="5" height="5" fill="#4dffaa"/>
<rect x="361" y="387" width="6" height="5" fill="#1fffd7"/>
<rect x="367" y="387" width="12" height="5" fill="#00e4f8"/>
<rect x="379" y="387" width="5" height="5" fill="#e1ff16"/>
<rect x="384" y="387" width="6" height="5" fill="#0000ff"/>
<rect x="396" y="387" width="6" height="5" fill="#1fffd7"/>
<rect x="402" y="387" width="6" height="5" fill="#0044ff"/>
<rect x="408" y="387" width="5" height="5" fill="#7dff7a"/>
<rect x="413" y="387" width="47" height="5" fill="#1fffd7"/>
<rect x="460" y="387" width="5" height="5" fill="#00e4f8"/>
<rect x="465" y="387" width="6" height="5" fill="#0044ff"/>
<rect x="471" y="387" width="6" height="5" fill="#00b8ff"/>
<rect x="108" y="392" width="5" height="6" fill="#7dff7a"/>
<rect x="113" y="392" width="6" height="6" fill="#1fffd7"/>
<rect x="119" y="392" width="5" height="6" fill="#4dffaa"/>
<rect x="124" y="392" width="6" height="6" fill="#1fffd7"/>
<rect x="130" y="392" width="6" height="6" fill="#4dffaa"/>
<rect x="136" y="392" width="17" height="6" fill="#1fffd7"/>
<rect x="153" y="392" width="6" height="6" fill="#00b8ff"/>
<rect x="159" y="392" width="12" height="6" fill="#4dffaa"/>
<rect x="171" y="392" width="5" height="6" fill="#adff49"/>
<rect x="182" y="392" width="6" height="6" fill="#00e4f8"/>
<rect x="188" y="392" width="6" height="6" fill="#0000ff"/>
<rect x="194" y="392" width="5" height="6" fill="#7dff7a"/>
<rect x="199" y="392" width="6" height="6" fill="#0080ff"/>
<rect x="205" y="392" width="12" height="6" fill="#00e4f8"/>
<rect x="217" y="392" width="6" height="6" fill="#1fffd7"/>
<rect x="223" y="392" width="5" height="6" fill="#00e4f8"/>
<rect x="228" y="392" width="18" height="6" fill="#1fffd7"/>
<rect x="246" y="392" width="17" height="6" fill="#4dffaa"/>
<rect x="263" y="392" width="6" height="6" fill="#1fffd7"/>
<rect x="280" y="392" width="12" height="6" fill="#1fffd7"/>
<rect x="292" y="392" width="6" height="6" fill="#7dff7a"/>
<rect x="298" y="392" width="6" height="6" fill="#00e4f8"/>
<rect x="304" y="392" width="5" height="6" fill="#4dffaa"/>
<rect x="309" y="392" width="6" height="6" fill="#1fffd7"/>
<rect x="315" y="392" width="6" height="6" fill="#00b8ff"/>
<rect x="321" y="392" width="6" height="6" fill="#00e4f8"/>
<rect x="327" y="392" width="5" height="6" fill="#1fffd7"/>
<rect x="332" y="392" width="6" height="6" fill="#00b8ff"/>
<rect x="338" y="392" width="12" height="6" fill="#1fffd7"/>
<rect x="350" y="392" width="11" height="6" fill="#4dffaa"/>
<rect x="361" y="392" width="6" height="6" fill="#00b8ff"/>
<rect x="367" y="392" width="6" height="6" fill="#0000ff"/>
<rect x="373" y="392" width="6" height="6" fill="#1fffd7"/>
<rect x="379" y="392" width="5" height="6" fill="#adff49"/>
<rect x="384" y="392" width="6" height="6" fill="#0000ff"/>
<rect x="390" y="392" width="6" height="6" fill="#7dff7a"/>
<rect x="402" y="392" width="6" height="6" fill="#0080ff"/>
<rect x="408" y="392" width="5" height="6" fill="#1fffd7"/>
<rect x="413" y="392" width="6" height="6" fill="#4dffaa"/>
<rect x="419" y="392" width="12" height="6" fill="#1fffd7"/>
<rect x="431" y="392" width="6" height="6" fill="#4dffaa"/>
<rect x="437" y="392" width="5" height="6" fill="#1fffd7"/>
<rect x="442" y="392" width="6" height="6" fill="#4dffaa"/>
<rect x="448" y="392" width="6" height="6" fill="#00b8ff"/>
<rect x="454" y="392" width="11" height="6" fill="#1fffd7"/>
<rect x="465" y="392" width="6" height="6" fill="#0044ff"/>
<rect x="471" y="392" width="6" height="6" fill="#4dffaa"/>
<rect x="108" y="398" width="5" height="6" fill="#1fffd7"/>
<rect x="113" y="398" width="6" height="6" fill="#00e4f8"/>
<rect x="119" y="398" width="11" height="6" fill="#4dffaa"/>
<rect x="130" y="398" width="6" height="6" fill="#1fffd7"/>
<rect x="136" y="398" width="6" height="6" fill="#7dff7a"/>
<rect x="142" y="398" width="29" height="6" fill="#4dffaa"/>
<rect x="171" y="398" width="5" height="6" fill="#00e4f8"/>
<rect x="176" y="398" width="6" height="6" fill="#adff49"/>
<rect x="182" y="398" width="6" height="6" fill="#0000cd"/>
<rect x="188" y="398" width="6" height="6" fill="#00b8ff"/>
<rect x="194" y="398" width="5" height="6" fill="#adff49"/>
<rect x="199" y="398" width="12" height="6" fill="#1fffd7"/>
<rect x="211" y="398" width="12" height="6" fill="#00e4f8"/>
<rect x="223" y="398" width="23" height="6" fill="#1fffd7"/>
<rect x="263" y="398" width="6" height="6" fill="#adff49"/>
<rect x="275" y="398" width="5" height="6" fill="#adff49"/>
<rect x="286" y="398" width="6" height="6" fill="#4dffaa"/>
<rect x="292" y="398" width="6" height="6" fill="#7dff7a"/>
<rect x="298" y="398" width="23" height="6" fill="#1fffd7"/>
<rect x="321" y="398" width="6" height="6" fill="#00b8ff"/>
<rect x="327" y="398" width="5" height="6" fill="#1fffd7"/>
<rect x="332" y="398" width="6" height="6" fill="#00b8ff"/>
<rect x="338" y="398" width="6" height="6" fill="#1fffd7"/>
<rect x="344" y="398" width="6" height="6" fill="#4dffaa"/>
<rect x="350" y="398" width="6" height="6" fill="#1fffd7"/>
<rect x="356" y="398" width="5" height="6" fill="#4dffaa"/>
<rect x="361" y="398" width="6" height="6" fill="#00b8ff"/>
<rect x="367" y="398" width="6" height="6" fill="#0044ff"/>
<rect x="373" y="398" width="6" height="6" fill="#4dffaa"/>
<rect x="379" y="398" width="5" height="6" fill="#adff49"/>
<rect x="384" y="398" width="6" height="6" fill="#0000ff"/>
<rect x="390" y="398" width="6" height="6" fill="#adff49"/>
<rect x="396" y="398" width="6" height="6" fill="#00e4f8"/>
<rect x="402" y="398" width="6" height="6" fill="#00b8ff"/>
<rect x="408" y="398" width="5" height="6" fill="#0044ff"/>
<rect x="413" y="398" width="6" height="6" fill="#4dffaa"/>
<rect x="419" y="398" width="6" height="6" fill="#ffd700"/>
<rect x="425" y="398" width="6" height="6" fill="#4dffaa"/>
<rect x="431" y="398" width="6" height="6" fill="#1fffd7"/>
<rect x="437" y="398" width="5" height="6" fill="#00e4f8"/>
<rect x="442" y="398" width="12" height="6" fill="#1fffd7"/>
<rect x="454" y="398" width="6" height="6" fill="#00e4f8"/>
<rect x="460" y="398" width="5" height="6" fill="#4dffaa"/>
<rect x="465" y="398" width="6" height="6" fill="#00e4f8"/>
<rect x="471" y="398" width="6" height="6" fill="#4dffaa"/>
<rect x="108" y="404" width="5" height="6" fill="#7dff7a"/>
<rect x="113" y="404" width="6" height="6" fill="#4dffaa"/>
<rect x="124" y="404" width="6" height="6" fill="#4dffaa"/>
<rect x="130" y="404" width="6" height="6" fill="#1fffd7"/>
<rect x="136" y="404" width="11" height="6" fill="#4dffaa"/>
<rect x="147" y="404" width="6" height="6" fill="#00b8ff"/>
<rect x="159" y="404" width="6" height="6" fill="#4dffaa"/>
<rect x="165" y="404" width="6" height="6" fill="#1fffd7"/>
<rect x="171" y="404" width="5" height="6" fill="#4dffaa"/>
<rect x="176" y="404" width="6" height="6" fill="#0000ff"/>
<rect x="182" y="404" width="6" height="6" fill="#0000cd"/>
<rect x="188" y="404" width="6" height="6" fill="#00e4f8"/>
<rect x="199" y="404" width="6" height="6" fill="#00b8ff"/>
<rect x="205" y="404" width="6" height="6" fill="#1fffd7"/>
<rect x="217" y="404" width="6" height="6" fill="#1fffd7"/>
<rect x="223" y="404" width="5" height="6" fill="#4dffaa"/>
<rect x="228" y="404" width="6" height="6" fill="#1fffd7"/>
<rect x="234" y="404" width="6" height="6" fill="#7dff7a"/>
<rect x="240" y="404" width="6" height="6" fill="#1fffd7"/>
<rect x="286" y="404" width="6" height="6" fill="#e1ff16"/>
<rect x="292" y="404" width="6" height="6" fill="#adff49"/>
<rect x="298" y="404" width="6" height="6" fill="#4dffaa"/>
<rect x="309" y="404" width="23" height="6" fill="#1fffd7"/>
<rect x="332" y="404" width="12" height="6" fill="#00e4f8"/>
<rect x="344" y="404" width="12" height="6" fill="#1fffd7"/>
<rect x="356" y="404" width="11" height="6" fill="#4dffaa"/>
<rect x="367" y="404" width="6" height="6" fill="#0044ff"/>
<rect x="379" y="404" width="5" height="6" fill="#7dff7a"/>
<rect x="384" y="404" width="6" height="6" fill="#00e4f8"/>
<rect x="390" y="404" width="6" height="6" fill="#adff49"/>
<rect x="402" y="404" width="6" height="6" fill="#00e4f8"/>
<rect x="419" y="404" width="6" height="6" fill="#4dffaa"/>
<rect x="431" y="404" width="6" height="6" fill="#1fffd7"/>
<rect x="437" y="404" width="5" height="6" fill="#4dffaa"/>
<rect x="442" y="404" width="12" height="6" fill="#1fffd7"/>
<rect x="454" y="404" width="6" height="6" fill="#00e4f8"/>
<rect x="460" y="404" width="5" height="6" fill="#1fffd7"/>
<rect x="465" y="404" width="6" height="6" fill="#adff49"/>
<rect x="471" y="404" width="6" height="6" fill="#e1ff16"/>
<rect x="108" y="410" width="5" height="5" fill="#7dff7a"/>
<rect x="119" y="410" width="5" height="5" fill="#7dff7a"/>
<rect x="124" y="410" width="12" height="5" fill="#4dffaa"/>
<rect x="136" y="410" width="6" height="5" fill="#adff49"/>
<rect x="153" y="410" width="6" height="5" fill="#4dffaa"/>
<rect x="159" y="410" width="6" height="5" fill="#00e4f8"/>
<rect x="165" y="410" width="6" height="5" fill="#1fffd7"/>
<rect x="171" y="410" width="5" height="5" fill="#0000ff"/>
<rect x="176" y="410" width="6" height="5" fill="#00b8ff"/>
<rect x="182" y="410" width="6" height="5" fill="#0000ff"/>
<rect x="188" y="410" width="11" height="5" fill="#0080ff"/>
<rect x="199" y="410" width="6" height="5" fill="#adff49"/>
<rect x="205" y="410" width="6" height="5" fill="#4dffaa"/>
<rect x="211" y="410" width="6" height="5" fill="#0080ff"/>
<rect x="217" y="410" width="6" height="5" fill="#0044ff"/>
<rect x="223" y="410" width="23" height="5" fill="#4dffaa"/>
<rect x="286" y="410" width="12" height="5" fill="#adff49"/>
<rect x="298" y="410" width="6" height="5" fill="#1fffd7"/>
<rect x="304" y="410" width="5" height="5" fill="#4dffaa"/>
<rect x="309" y="410" width="6" height="5" fill="#1fffd7"/>
<rect x="315" y="410" width="6" height="5" fill="#00b8ff"/>
<rect x="321" y="410" width="6" height="5" fill="#1fffd7"/>
<rect x="327" y="410" width="5" height="5" fill="#00e4f8"/>
<rect x="332" y="410" width="6" height="5" fill="#1fffd7"/>
<rect x="338" y="410" width="23" height="5" fill="#4dffaa"/>
<rect x="361" y="410" width="6" height="5" fill="#1fffd7"/>
<rect x="367" y="410" width="6" height="5" fill="#0044ff"/>
<rect x="379" y="410" width="5" height="5" fill="#adff49"/>
<rect x="390" y="410" width="6" height="5" fill="#7dff7a"/>
<rect x="396" y="410" width="6" height="5" fill="#1fffd7"/>
<rect x="425" y="410" width="6" height="5" fill="#4dffaa"/>
<rect x="431" y="410" width="6" height="5" fill="#1fffd7"/>
<rect x="437" y="410" width="11" height="5" fill="#00e4f8"/>
<rect x="448" y="410" width="6" height="5" fill="#1fffd7"/>
<rect x="454" y="410" width="6" height="5" fill="#00e4f8"/>
<rect x="460" y="410" width="5" height="5" fill="#1fffd7"/>
<rect x="465" y="410" width="6" height="5" fill="#00b8ff"/>
<rect x="471" y="410" width="6" height="5" fill="#4dffaa"/>
<rect x="108" y="415" width="5" height="6" fill="#adff49"/>
<rect x="113" y="415" width="6" height="6" fill="#1fffd7"/>
<rect x="124" y="415" width="6" height="6" fill="#ff5200"/>
<rect x="153" y="415" width="6" height="6" fill="#7dff7a"/>
<rect x="165" y="415" width="6" height="6" fill="#4dffaa"/>
<rect x="171" y="415" width="5" height="6" fill="#e1ff16"/>
<rect x="176" y="415" width="6" height="6" fill="#00b8ff"/>
<rect x="188" y="415" width="6" height="6" fill="#7dff7a"/>
<rect x="199" y="415" width="6" height="6" fill="#7dff7a"/>
<rect x="205" y="415" width="6" height="6" fill="#1fffd7"/>
<rect x="211" y="415" width="6" height="6" fill="#4dffaa"/>
<rect x="217" y="415" width="6" height="6" fill="#0080ff"/>
<rect x="223" y="415" width="5" height="6" fill="#00e4f8"/>
<rect x="228" y="415" width="18" height="6" fill="#4dffaa"/>
<rect x="246" y="415" width="6" height="6" fill="#00e4f8"/>
<rect x="298" y="415" width="6" height="6" fill="#00e4f8"/>
<rect x="309" y="415" width="6" height="6" fill="#1fffd7"/>
<rect x="315" y="415" width="6" height="6" fill="#00b8ff"/>
<rect x="321" y="415" width="6" height="6" fill="#1fffd7"/>
<rect x="327" y="415" width="5" height="6" fill="#4dffaa"/>
<rect x="332" y="415" width="18" height="6" fill="#1fffd7"/>
<rect x="350" y="415" width="17" height="6" fill="#4dffaa"/>
<rect x="367" y="415" width="6" height="6" fill="#0000ff"/>
<rect x="373" y="415" width="6" height="6" fill="#adff49"/>
<rect x="379" y="415" width="11" height="6" fill="#ffd700"/>
<rect x="390" y="415" width="6" height="6" fill="#7dff7a"/>
<rect x="396" y="415" width="6" height="6" fill="#1fffd7"/>
<rect x="425" y="415" width="6" height="6" fill="#0080ff"/>
<rect x="431" y="415" width="6" height="6" fill="#7dff7a"/>
<rect x="437" y="415" width="5" height="6" fill="#00b8ff"/>
<rect x="442" y="415" width="6" height="6" fill="#1fffd7"/>
<rect x="448" y="415" width="6" height="6" fill="#adff49"/>
<rect x="454" y="415" width="6" height="6" fill="#4dffaa"/>
<rect x="460" y="415" width="5" height="6" fill="#7dff7a"/>
<rect x="465" y="415" width="6" height="6" fill="#4dffaa"/>
<rect x="471" y="415" width="6" height="6" fill="#adff49"/>
<rect x="108" y="421" width="5" height="6" fill="#ff9400"/>
<rect x="113" y="421" width="6" height="6" fill="#7dff7a"/>
<rect x="142" y="421" width="5" height="6" fill="#7dff7a"/>
<rect x="153" y="421" width="6" height="6" fill="#ed0400"/>
<rect x="165" y="421" width="6" height="6" fill="#e1ff16"/>
<rect x="171" y="421" width="5" height="6" fill="#1fffd7"/>
<rect x="176" y="421" width="12" height="6" fill="#00b8ff"/>
<rect x="188" y="421" width="6" height="6" fill="#4dffaa"/>
<rect x="199" y="421" width="6" height="6" fill="#1fffd7"/>
<rect x="205" y="421" width="6" height="6" fill="#7dff7a"/>
<rect x="211" y="421" width="6" height="6" fill="#ff9400"/>
<rect x="223" y="421" width="5" height="6" fill="#00e4f8"/>
<rect x="228" y="421" width="6" height="6" fill="#e1ff16"/>
<rect x="234" y="421" width="6" height="6" fill="#ffd700"/>
<rect x="240" y="421" width="6" height="6" fill="#adff49"/>
<rect x="280" y="421" width="6" height="6" fill="#7dff7a"/>
<rect x="298" y="421" width="6" height="6" fill="#ff9400"/>
<rect x="304" y="421" width="5" height="6" fill="#4dffaa"/>
<rect x="309" y="421" width="18" height="6" fill="#adff49"/>
<rect x="332" y="421" width="12" height="6" fill="#ff9400"/>
<rect x="344" y="421" width="6" height="6" fill="#e1ff16"/>
<rect x="350" y="421" width="11" height="6" fill="#ff5200"/>
<rect x="361" y="421" width="6" height="6" fill="#ed0400"/>
<rect x="367" y="421" width="6" height="6" fill="#00b8ff"/>
<rect x="373" y="421" width="6" height="6" fill="#e1ff16"/>
<rect x="384" y="421" width="6" height="6" fill="#1fffd7"/>
<rect x="390" y="421" width="12" height="6" fill="#4dffaa"/>
<rect x="402" y="421" width="11" height="6" fill="#adff49"/>
<rect x="431" y="421" width="6" height="6" fill="#adff49"/>
<rect x="437" y="421" width="5" height="6" fill="#ff5200"/>
<rect x="442" y="421" width="6" height="6" fill="#ed0400"/>
<rect x="460" y="421" width="5" height="6" fill="#ff9400"/>
<rect x="465" y="421" width="6" height="6" fill="#ffd700"/>
<rect x="471" y="421" width="6" height="6" fill="#ff9400"/>
</g>
<g shape-rendering="crispEdges">
<rect x="502" y="74" width="16" height="2" fill="#800000"/>
<rect x="502" y="76" width="16" height="1" fill="#840000"/>
<rect x="502" y="77" width="16" height="1" fill="#890000"/>
<rect x="502" y="78" width="16" height="2" fill="#8d0000"/>
<rect x="502" y="80" width="16" height="1" fill="#920000"/>
<rect x="502" y="81" width="16" height="1" fill="#960000"/>
<rect x="502" y="82" width="16" height="2" fill="#9b0000"/>
<rect x="502" y="84" width="16" height="1" fill="#9f0000"/>
<rect x="502" y="85" width="16" height="1" fill="#a40000"/>
<rect x="502" y="86" width="16" height="2" fill="#a80000"/>
<rect x="502" y="88" width="16" height="1" fill="#ad0000"/>
<rect x="502" y="89" width="16" height="1" fill="#b20000"/>
<rect x="502" y="90" width="16" height="1" fill="#b60000"/>
<rect x="502" y="91" width="16" height="2" fill="#bb0000"/>
<rect x="502" y="93" width="16" height="1" fill="#bf0000"/>
<rect x="502" y="94" width="16" height="1" fill="#c40000"/>
<rect x="502" y="95" width="16" height="2" fill="#c80000"/>
<rect x="502" y="97" width="16" height="1" fill="#cd0000"/>
<rect x="502" y="98" width="16" height="1" fill="#d10000"/>
<rect x="502" y="99" width="16" height="2" fill="#d60000"/>
<rect x="502" y="101" width="16" height="1" fill="#da0000"/>
<rect x="502" y="102" width="16" height="1" fill="#df0000"/>
<rect x="502" y="103" width="16" height="2" fill="#e40000"/>
<rect x="502" y="105" width="16" height="1" fill="#e80000"/>
<rect x="502" y="106" width="16" height="1" fill="#ed0400"/>
<rect x="502" y="107" width="16" height="2" fill="#f10800"/>
<rect x="502" y="109" width="16" height="1" fill="#f60b00"/>
<rect x="502" y="110" width="16" height="1" fill="#fa0f00"/>
<rect x="502" y="111" width="16" height="1" fill="#ff1300"/>
<rect x="502" y="112" width="16" height="2" fill="#ff1600"/>
<rect x="502" y="114" width="16" height="1" fill="#ff1a00"/>
<rect x="502" y="115" width="16" height="1" fill="#ff1e00"/>
<rect x="502" y="116" width="16" height="2" fill="#ff2200"/>
<rect x="502" y="118" width="16" height="1" fill="#ff2500"/>
<rect x="502" y="119" width="16" height="1" fill="#ff2900"/>
<rect x="502" y="120" width="16" height="2" fill="#ff2d00"/>
<rect x="502" y="122" width="16" height="1" fill="#ff3000"/>
<rect x="502" y="123" width="16" height="1" fill="#ff3400"/>
<rect x="502" y="124" width="16" height="2" fill="#ff3800"/>
<rect x="502" y="126" width="16" height="1" fill="#ff3b00"/>
<rect x="502" y="127" width="16" height="1" fill="#ff3f00"/>
<rect x="502" y="128" width="16" height="2" fill="#ff4300"/>
<rect x="502" y="130" width="16" height="1" fill="#ff4700"/>
<rect x="502" y="131" width="16" height="1" fill="#ff4a00"/>
<rect x="502" y="132" width="16" height="1" fill="#ff4e00"/>
<rect x="502" y="133" width="16" height="2" fill="#ff5200"/>
<rect x="502" y="135" width="16" height="1" fill="#ff5500"/>
<rect x="502" y="136" width="16" height="1" fill="#ff5900"/>
<rect x="502" y="137" width="16" height="2" fill="#ff5d00"/>
<rect x="502" y="139" width="16" height="1" fill="#ff6000"/>
<rect x="502" y="140" width="16" height="1" fill="#ff6400"/>
<rect x="502" y="141" width="16" height="2" fill="#ff6800"/>
<rect x="502" y="143" width="16" height="1" fill="#ff6c00"/>
<rect x="502" y="144" width="16" height="1" fill="#ff6f00"/>
<rect x="502" y="145" width="16" height="2" fill="#ff7300"/>
<rect x="502" y="147" width="16" height="1" fill="#ff7700"/>
<rect x="502" y="148" width="16" height="1" fill="#ff7a00"/>
<rect x="502" y="149" width="16" height="2" fill="#ff7e00"/>
<rect x="502" y="151" width="16" height="1" fill="#ff8200"/>
<rect x="502" y="152" width="16" height="1" fill="#ff8600"/>
<rect x="502" y="153" width="16" height="1" fill="#ff8900"/>
<rect x="502" y="154" width="16" height="2" fill="#ff8d00"/>
<rect x="502" y="156" width="16" height="1" fill="#ff9100"/>
<rect x="502" y="157" width="16" height="1" fill="#ff9400"/>
<rect x="502" y="158" width="16" height="2" fill="#ff9800"/>
<rect x="502" y="160" width="16" height="1" fill="#ff9c00"/>
<rect x="502" y="161" width="16" height="1" fill="#ff9f00"/>
<rect x="502" y="162" width="16" height="2" fill="#ffa300"/>
<rect x="502" y="164" width="16" height="1" fill="#ffa700"/>
<rect x="502" y="165" width="16" height="1" fill="#ffab00"/>
<rect x="502" y="166" width="16" height="2" fill="#ffae00"/>
<rect x="502" y="168" width="16" height="1" fill="#ffb200"/>
<rect x="502" y="169" width="16" height="1" fill="#ffb600"/>
<rect x="502" y="170" width="16" height="2" fill="#ffb900"/>
<rect x="502" y="172" width="16" height="1" fill="#ffbd00"/>
<rect x="502" y="173" width="16" height="1" fill="#ffc100"/>
<rect x="502" y="174" width="16" height="1" fill="#ffc400"/>
<rect x="502" y="175" width="16" height="2" fill="#ffc800"/>
<rect x="502" y="177" width="16" height="1" fill="#ffcc00"/>
<rect x="502" y="178" width="16" height="1" fill="#ffd000"/>
<rect x="502" y="179" width="16" height="2" fill="#ffd300"/>
<rect x="502" y="181" width="16" height="1" fill="#ffd700"/>
<rect x="502" y="182" width="16" height="1" fill="#ffdb00"/>
<rect x="502" y="183" width="16" height="2" fill="#ffde00"/>
<rect x="502" y="185" width="16" height="1" fill="#ffe200"/>
<rect x="502" y="186" width="16" height="1" fill="#ffe600"/>
<rect x="502" y="187" width="16" height="2" fill="#ffea00"/>
<rect x="502" y="189" width="16" height="1" fill="#feed00"/>
<rect x="502" y="190" width="16" height="1" fill="#fbf100"/>
<rect x="502" y="191" width="16" height="2" fill="#f8f500"/>
<rect x="502" y="193" width="16" height="1" fill="#f4f802"/>
<rect x="502" y="194" width="16" height="1" fill="#f1fc06"/>
<rect x="502" y="195" width="16" height="1" fill="#eeff09"/>
<rect x="502" y="196" width="16" height="2" fill="#ebff0c"/>
<rect x="502" y="198" width="16" height="1" fill="#e7ff0f"/>
<rect x="502" y="199" width="16" height="1" fill="#e4ff13"/>
<rect x="502" y="200" width="16" height="2" fill="#e1ff16"/>
<rect x="502" y="202" width="16" height="1" fill="#deff19"/>
<rect x="502" y="203" width="16" height="1" fill="#dbff1c"/>
<rect x="502" y="204" width="16" height="2" fill="#d7ff1f"/>
<rect x="502" y="206" width="16" height="1" fill="#d4ff23"/>
<rect x="502" y="207" width="16" height="1" fill="#d1ff26"/>
<rect x="502" y="208" width="16" height="2" fill="#ceff29"/>
<rect x="502" y="210" width="16" height="1" fill="#caff2c"/>
<rect x="502" y="211" width="16" height="1" fill="#c7ff30"/>
<rect x="502" y="212" width="16" height="2" fill="#c4ff33"/>
<rect x="502" y="214" width="16" height="1" fill="#c1ff36"/>
<rect x="502" y="215" width="16" height="1" fill="#beff39"/>
<rect x="502" y="216" width="16" height="1" fill="#baff3c"/>
<rect x="502" y="217" width="16" height="2" fill="#b7ff40"/>
<rect x="502" y="219" width="16" height="1" fill="#b4ff43"/>
<rect x="502" y="220" width="16" height="1" fill="#b1ff46"/>
<rect x="502" y="221" width="16" height="2" fill="#adff49"/>
<rect x="502" y="223" width="16" height="1" fill="#aaff4d"/>
<rect x="502" y="224" width="16" height="1" fill="#a7ff50"/>
<rect x="502" y="225" width="16" height="2" fill="#a4ff53"/>
<rect x="502" y="227" width="16" height="1" fill="#a0ff56"/>
<rect x="502" y="228" width="16" height="1" fill="#9dff5a"/>
<rect x="502" y="229" width="16" height="2" fill="#9aff5d"/>
<rect x="502" y="231" width="16" height="1" fill="#97ff60"/>
<rect x="502" y="232" width="16" height="1" fill="#94ff63"/>
<rect x="502" y="233" width="16" height="2" fill="#90ff66"/>
<rect x="502" y="235" width="16" height="1" fill="#8dff6a"/>
<rect x="502" y="236" width="16" height="1" fill="#8aff6d"/>
<rect x="502" y="237" width="16" height="1" fill="#87ff70"/>
<rect x="502" y="238" width="16" height="2" fill="#83ff73"/>
<rect x="502" y="240" width="16" height="1" fill="#80ff77"/>
<rect x="502" y="241" width="16" height="1" fill="#7dff7a"/>
<rect x="502" y="242" width="16" height="2" fill="#7aff7d"/>
<rect x="502" y="244" width="16" height="1" fill="#77ff80"/>
<rect x="502" y="245" width="16" height="1" fill="#73ff83"/>
<rect x="502" y="246" width="16" height="2" fill="#70ff87"/>
<rect x="502" y="248" width="16" height="1" fill="#6dff8a"/>
<rect x="502" y="249" width="16" height="1" fill="#6aff8d"/>
<rect x="502" y="250" width="16" height="2" fill="#66ff90"/>
<rect x="502" y="252" width="16" height="1" fill="#63ff94"/>
<rect x="502" y="253" width="16" height="1" fill="#60ff97"/>
<rect x="502" y="254" width="16" height="2" fill="#5dff9a"/>
<rect x="502" y="256" width="16" height="1" fill="#5aff9d"/>
<rect x="502" y="257" width="16" height="1" fill="#56ffa0"/>
<rect x="502" y="258" width="16" height="1" fill="#53ffa4"/>
<rect x="502" y="259" width="16" height="2" fill="#50ffa7"/>
<rect x="502" y="261" width="16" height="1" fill="#4dffaa"/>
<rect x="502" y="262" width="16" height="1" fill="#49ffad"/>
<rect x="502" y="263" width="16" height="2" fill="#46ffb1"/>
<rect x="502" y="265" width="16" height="1" fill="#43ffb4"/>
<rect x="502" y="266" width="16" height="1" fill="#40ffb7"/>
<rect x="502" y="267" width="16" height="2" fill="#3cffba"/>
<rect x="502" y="269" width="16" height="1" fill="#39ffbe"/>
<rect x="502" y="270" width="16" height="1" fill="#36ffc1"/>
<rect x="502" y="271" width="16" height="2" fill="#33ffc4"/>
<rect x="502" y="273" width="16" height="1" fill="#30ffc7"/>
<rect x="502" y="274" width="16" height="1" fill="#2cffca"/>
<rect x="502" y="275" width="16" height="2" fill="#29ffce"/>
<rect x="502" y="277" width="16" height="1" fill="#26ffd1"/>
<rect x="502" y="278" width="16" height="1" fill="#23ffd4"/>
<rect x="502" y="279" width="16" height="1" fill="#1fffd7"/>
<rect x="502" y="280" width="16" height="2" fill="#1cffdb"/>
<rect x="502" y="282" width="16" height="1" fill="#19ffde"/>
<rect x="502" y="283" width="16" height="1" fill="#16ffe1"/>
<rect x="502" y="284" width="16" height="2" fill="#13fce4"/>
<rect x="502" y="286" width="16" height="1" fill="#0ff8e7"/>
<rect x="502" y="287" width="16" height="1" fill="#0cf4eb"/>
<rect x="502" y="288" width="16" height="2" fill="#09f0ee"/>
<rect x="502" y="290" width="16" height="1" fill="#06ecf1"/>
<rect x="502" y="291" width="16" height="1" fill="#02e8f4"/>
<rect x="502" y="292" width="16" height="2" fill="#00e4f8"/>
<rect x="502" y="294" width="16" height="1" fill="#00e0fb"/>
<rect x="502" y="295" width="16" height="1" fill="#00dcfe"/>
<rect x="502" y="296" width="16" height="2" fill="#00d8ff"/>
<rect x="502" y="298" width="16" height="1" fill="#00d4ff"/>
<rect x="502" y="299" width="16" height="1" fill="#00d0ff"/>
<rect x="502" y="300" width="16" height="1" fill="#00ccff"/>
<rect x="502" y="301" width="16" height="2" fill="#00c8ff"/>
<rect x="502" y="303" width="16" height="1" fill="#00c4ff"/>
<rect x="502" y="304" width="16" height="1" fill="#00c0ff"/>
<rect x="502" y="305" width="16" height="2" fill="#00bcff"/>
<rect x="502" y="307" width="16" height="1" fill="#00b8ff"/>
<rect x="502" y="308" width="16" height="1" fill="#00b4ff"/>
<rect x="502" y="309" width="16" height="2" fill="#00b0ff"/>
<rect x="502" y="311" width="16" height="1" fill="#00acff"/>
<rect x="502" y="312" width="16" height="1" fill="#00a8ff"/>
<rect x="502" y="313" width="16" height="2" fill="#00a4ff"/>
<rect x="502" y="315" width="16" height="1" fill="#00a0ff"/>
<rect x="502" y="316" width="16" height="1" fill="#009cff"/>
<rect x="502" y="317" width="16" height="2" fill="#0098ff"/>
<rect x="502" y="319" width="16" height="1" fill="#0094ff"/>
<rect x="502" y="320" width="16" height="1" fill="#0090ff"/>
<rect x="502" y="321" width="16" height="1" fill="#008cff"/>
<rect x="502" y="322" width="16" height="2" fill="#0088ff"/>
<rect x="502" y="324" width="16" height="1" fill="#0084ff"/>
<rect x="502" y="325" width="16" height="1" fill="#0080ff"/>
<rect x="502" y="326" width="16" height="2" fill="#007cff"/>
<rect x="502" y="328" width="16" height="1" fill="#0078ff"/>
<rect x="502" y="329" width="16" height="1" fill="#0074ff"/>
<rect x="502" y="330" width="16" height="2" fill="#0070ff"/>
<rect x="502" y="332" width="16" height="1" fill="#006cff"/>
<rect x="502" y="333" width="16" height="1" fill="#0068ff"/>
<rect x="502" y="334" width="16" height="2" fill="#0064ff"/>
<rect x="502" y="336" width="16" height="1" fill="#0060ff"/>
<rect x="502" y="337" width="16" height="1" fill="#005cff"/>
<rect x="502" y="338" width="16" height="2" fill="#0058ff"/>
<rect x="502" y="340" width="16" height="1" fill="#0054ff"/>
<rect x="502" y="341" width="16" height="1" fill="#0050ff"/>
<rect x="502" y="342" width="16" height="1" fill="#004cff"/>
<rect x="502" y="343" width="16" height="2" fill="#0048ff"/>
<rect x="502" y="345" width="16" height="1" fill="#0044ff"/>
<rect x="502" y="346" width="16" height="1" fill="#0040ff"/>
<rect x="502" y="347" width="16" height="2" fill="#003cff"/>
<rect x="502" y="349" width="16" height="1" fill="#0038ff"/>
<rect x="502" y="350" width="16" height="1" fill="#0034ff"/>
<rect x="502" y="351" width="16" height="2" fill="#0030ff"/>
<rect x="502" y="353" width="16" height="1" fill="#002cff"/>
<rect x="502" y="354" width="16" height="1" fill="#0028ff"/>
<rect x="502" y="355" width="16" height="2" fill="#0024ff"/>
<rect x="502" y="357" width="16" height="1" fill="#0020ff"/>
<rect x="502" y="358" width="16" height="1" fill="#001cff"/>
<rect x="502" y="359" width="16" height="2" fill="#0018ff"/>
<rect x="502" y="361" width="16" height="1" fill="#0014ff"/>
<rect x="502" y="362" width="16" height="1" fill="#0010ff"/>
<rect x="502" y="363" width="16" height="1" fill="#000cff"/>
<rect x="502" y="364" width="16" height="2" fill="#0008ff"/>
<rect x="502" y="366" width="16" height="1" fill="#0004ff"/>
<rect x="502" y="367" width="16" height="7" fill="#0000ff"/>
<rect x="502" y="374" width="16" height="1" fill="#0000fa"/>
<rect x="502" y="375" width="16" height="1" fill="#0000f6"/>
<rect x="502" y="376" width="16" height="2" fill="#0000f1"/>
<rect x="502" y="378" width="16" height="1" fill="#0000ed"/>
<rect x="502" y="379" width="16" height="1" fill="#0000e8"/>
<rect x="502" y="380" width="16" height="2" fill="#0000e3"/>
<rect x="502" y="382" width="16" height="1" fill="#0000df"/>
<rect x="502" y="383" width="16" height="1" fill="#0000da"/>
<rect x="502" y="384" width="16" height="1" fill="#0000d6"/>
<rect x="502" y="385" width="16" height="2" fill="#0000d1"/>
<rect x="502" y="387" width="16" height="1" fill="#0000cd"/>
<rect x="502" y="388" width="16" height="1" fill="#0000c8"/>
<rect x="502" y="389" width="16" height="2" fill="#0000c4"/>
<rect x="502" y="391" width="16" height="1" fill="#0000bf"/>
<rect x="502" y="392" width="16" height="1" fill="#0000bb"/>
<rect x="502" y="393" width="16" height="2" fill="#0000b6"/>
<rect x="502" y="395" width="16" height="1" fill="#0000b2"/>
<rect x="502" y="396" width="16" height="1" fill="#0000ad"/>
<rect x="502" y="397" width="16" height="2" fill="#0000a8"/>
<rect x="502" y="399" width="16" height="1" fill="#0000a4"/>
<rect x="502" y="400" width="16" height="1" fill="#00009f"/>
<rect x="502" y="401" width="16" height="2" fill="#00009b"/>
<rect x="502" y="403" width="16" height="1" fill="#000096"/>
<rect x="502" y="404" width="16" height="1" fill="#000092"/>
<rect x="502" y="405" width="16" height="1" fill="#00008d"/>
<rect x="502" y="406" width="16" height="2" fill="#000089"/>
<rect x="502" y="408" width="16" height="1" fill="#000084"/>
<rect x="502" y="409" width="16" height="1" fill="#000080"/>
</g>
<polygon points="501.6,74.9 510.0,57.60000000000001 518.4,74.9" fill="#800000"/>
<polygon points="501.6,409.9 510.0,427.2 518.4,409.9" fill="#000080"/>
<path d="M501.6,410.4 L510.0,427.2 L518.4,410.4 L518.4,74.4 L510.0,57.60000000000001 L501.6,74.4 Z" fill="none" stroke="#000" stroke-width="1.11" stroke-linejoin="miter" stroke-miterlimit="2"/>
<rect x="107.5" y="58.5" width="370" height="369" fill="none" stroke="#000" stroke-width="1.11" stroke-linejoin="miter"/>
<path d="M110.5,427.20000000000005 v4.86 M107.2,424.5 h-4.86 M168.5,427.20000000000005 v4.86 M107.2,367.5 h-4.86 M226.5,427.20000000000005 v4.86 M107.2,309.5 h-4.86 M283.5,427.20000000000005 v4.86 M107.2,251.5 h-4.86 M341.5,427.20000000000005 v4.86 M107.2,193.5 h-4.86 M399.5,427.20000000000005 v4.86 M107.2,136.5 h-4.86 M457.5,427.20000000000005 v4.86 M107.2,78.5 h-4.86 M518.4,410.5 h4.86 M518.4,372.5 h4.86 M518.4,333.5 h4.86 M518.4,295.5 h4.86 M518.4,256.5 h4.86 M518.4,218.5 h4.86 M518.4,179.5 h4.86 M518.4,141.5 h4.86 M518.4,102.5 h4.86" stroke="#000" stroke-width="1.11" fill="none"/>
<g style="opacity:0.999">
<text transform="translate(51.94,19.90)" font-size="13.60" textLength="29.85" lengthAdjust="spacingAndGlyphs">Data</text>
<text transform="translate(85.76,19.90)" font-size="13.60" textLength="23.25" lengthAdjust="spacingAndGlyphs">file:</text>
<text transform="translate(112.98,19.90)" font-size="13.60" textLength="58.40" lengthAdjust="spacingAndGlyphs">modeM0/</text>
<text transform="translate(171.38,19.90)" font-size="13.60" textLength="55.15" lengthAdjust="spacingAndGlyphs">AS1A05_</text>
<text transform="translate(226.53,19.90)" font-size="13.60" textLength="53.65" lengthAdjust="spacingAndGlyphs">208T03_</text>
<text transform="translate(280.18,19.90)" font-size="13.60" textLength="85.78" lengthAdjust="spacingAndGlyphs">9000003026_</text>
<text transform="translate(365.96,19.90)" font-size="13.60" textLength="83.09" lengthAdjust="spacingAndGlyphs">20481cztM0_</text>
<text transform="translate(449.05,19.90)" font-size="13.60" textLength="43.93" lengthAdjust="spacingAndGlyphs">level2_</text>
<text transform="translate(492.98,19.90)" font-size="13.60" textLength="37.70" lengthAdjust="spacingAndGlyphs">quad_</text>
<text transform="translate(530.68,19.90)" font-size="13.60" textLength="57.58" lengthAdjust="spacingAndGlyphs">clean.evt</text>
<text transform="translate(223.97,48.90)" font-size="18.00" textLength="78.64" lengthAdjust="spacingAndGlyphs">Quadrant</text>
<text transform="translate(307.91,48.90)" font-size="18.00" textLength="10.60" lengthAdjust="spacingAndGlyphs">3</text>
<text transform="translate(323.81,48.90)" font-size="18.00" textLength="35.42" lengthAdjust="spacingAndGlyphs">DPH</text>
<text transform="translate(111.33,448.19) scale(1.0400,1)" font-size="14.15" text-anchor="middle">0</text>
<text transform="translate(98.52,429.87) scale(1.0400,1)" font-size="14.15" text-anchor="end">0</text>
<text transform="translate(168.06,448.19) scale(1.0400,1)" font-size="14.15" text-anchor="middle">10</text>
<text transform="translate(96.98,372.12) scale(1.0400,1)" font-size="14.15" text-anchor="end">10</text>
<text transform="translate(225.81,448.19) scale(1.0400,1)" font-size="14.15" text-anchor="middle">20</text>
<text transform="translate(96.98,314.37) scale(1.0400,1)" font-size="14.15" text-anchor="end">20</text>
<text transform="translate(283.56,448.19) scale(1.0400,1)" font-size="14.15" text-anchor="middle">30</text>
<text transform="translate(96.98,256.62) scale(1.0400,1)" font-size="14.15" text-anchor="end">30</text>
<text transform="translate(341.31,448.19) scale(1.0400,1)" font-size="14.15" text-anchor="middle">40</text>
<text transform="translate(96.98,198.87) scale(1.0400,1)" font-size="14.15" text-anchor="end">40</text>
<text transform="translate(399.06,448.19) scale(1.0400,1)" font-size="14.15" text-anchor="middle">50</text>
<text transform="translate(96.98,141.12) scale(1.0400,1)" font-size="14.15" text-anchor="end">50</text>
<text transform="translate(456.81,448.19) scale(1.0400,1)" font-size="14.15" text-anchor="middle">60</text>
<text transform="translate(96.98,83.37) scale(1.0400,1)" font-size="14.15" text-anchor="end">60</text>
<text transform="translate(529.51,415.77) scale(1.0400,1)" font-size="14.15" text-anchor="start">0</text>
<text transform="translate(528.78,377.24) scale(1.0400,1)" font-size="14.15" text-anchor="start">50</text>
<text transform="translate(528.78,338.70) scale(1.0400,1)" font-size="14.15" text-anchor="start">100</text>
<text transform="translate(528.78,300.17) scale(1.0400,1)" font-size="14.15" text-anchor="start">150</text>
<text transform="translate(528.78,261.64) scale(1.0400,1)" font-size="14.15" text-anchor="start">200</text>
<text transform="translate(528.78,223.11) scale(1.0400,1)" font-size="14.15" text-anchor="start">250</text>
<text transform="translate(528.78,184.58) scale(1.0400,1)" font-size="14.15" text-anchor="start">300</text>
<text transform="translate(528.78,146.04) scale(1.0400,1)" font-size="14.15" text-anchor="start">350</text>
<text transform="translate(528.78,107.51) scale(1.0400,1)" font-size="14.15" text-anchor="start">400</text>
</g>
</svg>
</body></html>
